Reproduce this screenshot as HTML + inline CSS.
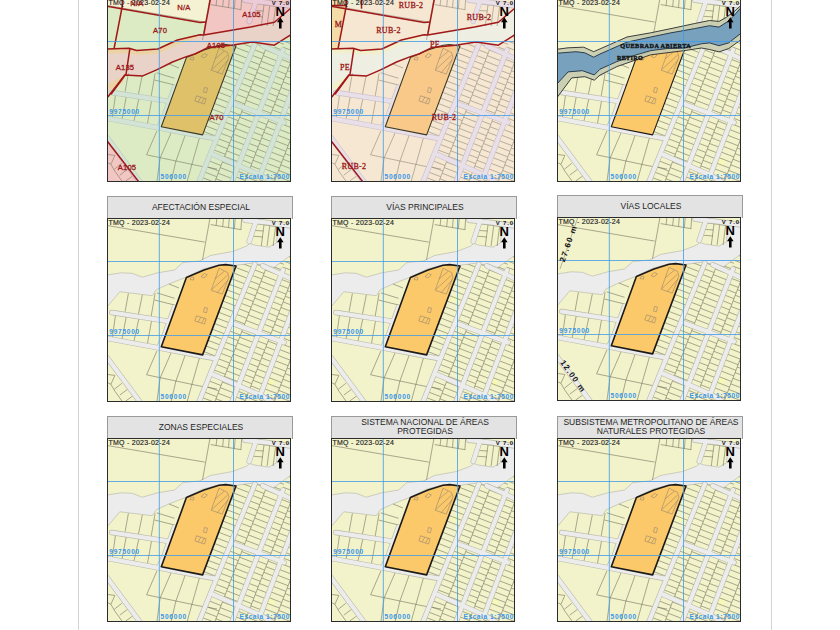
<!DOCTYPE html><html><head><meta charset="utf-8"><style>
html,body{margin:0;padding:0;background:#fff;width:840px;height:630px;overflow:hidden;position:relative;font-family:"Liberation Sans",sans-serif}
.pg{position:absolute;top:0;bottom:0;width:1px;background:#d4d4d4}
.map{position:absolute;width:184px;height:184px;box-sizing:border-box;overflow:hidden}
.map svg{position:absolute;left:0;top:0}
.frame{position:absolute;left:0;top:0;width:184px;height:184px;box-sizing:border-box;border:1px solid #2b2b2b}
.hd{position:absolute;width:186px;height:23px;box-sizing:border-box;background:#e3e3e3;border:1px solid #9a9a9a;border-bottom:none;color:#1e1e1e;font-size:8.5px;line-height:9.5px;text-align:center;display:flex;align-items:center;justify-content:center;padding-left:2px}
</style></head><body>
<div class="pg" style="left:78px"></div><div class="pg" style="left:771px"></div>
<div class="map" style="left:107px;top:-2px"><svg width="184" height="184" viewBox="0 0 184 184">
<defs><clipPath id="gc1"><polygon points="128.6,47.4 146.2,45.0 156.6,47.6 166.9,49.6 184.0,37.2 184.0,184.0 92.0,184.0 108.0,140.5 95.1,136.8"/></clipPath></defs>
<rect width="184" height="184" fill="#dcebc4"/>
<polygon points="-1.0,-2.0 -1.0,8.0 93.0,24.6 99.0,24.0 103.9,-2.0" fill="#f4f2d2"/>
<polygon points="103.9,-2.0 96.7,36.9 143.6,29.0 167.4,24.2 183.2,10.7 185.0,9.0 185.0,-2.0" fill="#f2c6c2"/>
<polygon points="-1.0,141.4 32.7,185.0 -1.0,185.0" fill="#f2c6c2"/>
<polygon points="0.0,51.0 22.1,50.3 29.7,52.5 50.8,51.0 70.4,42.0 93.0,36.7 96.7,36.9 143.6,29.0 167.4,24.2 183.2,10.7 185.0,9.0 185.0,36.1 167.4,47.2 145.1,44.0 124.5,47.2 100.7,49.6 88.0,56.0 79.4,58.6 65.5,64.0 49.6,71.9 35.7,77.9 17.8,76.9 1.0,98.7 -1.0,99.0" fill="#e9d3c8"/>
<polygon points="0.0,51.0 22.1,50.3 29.7,52.5 50.8,51.0 70.4,42.0 93.0,36.7 88.0,41.0 70.0,47.0 50.8,56.0 29.7,57.0 22.0,55.0 -1.0,56.0" fill="#ecd3a6"/>
<polygon points="-1.0,87.0 17.8,76.9 16.0,84.0 9.0,90.0 -1.0,92.0" fill="#ecd3a6"/>
<g fill="none" stroke="#7a7a66" stroke-width="0.6">
<polyline points="0.8,7.6 97.7,24.1"/>
<polyline points="103.0,0.0 95.5,42.0"/>
<polyline points="109.9,0.0 109.1,7.6"/>
<polyline points="116.5,0.0 115.7,8.7"/>
<polyline points="122.3,0.0 121.5,9.6"/>
<polyline points="128.2,0.0 127.4,10.6"/>
<polyline points="134.7,0.0 133.9,11.7"/>
<polyline points="103.7,6.6 134.3,11.7"/>
<polyline points="148.0,5.5 171.0,8.8"/>
<polyline points="147.0,12.4 156.5,13.0"/>
<polyline points="146.0,18.2 156.0,19.0"/>
<polyline points="157.1,6.0 154.3,28.0"/>
<polyline points="162.9,6.0 160.1,28.0"/>
<polyline points="168.9,6.0 166.1,28.0"/>
<polyline points="21.4,75.3 18.1,93.7"/>
<polyline points="35.3,77.0 31.4,96.4"/>
<polyline points="48.1,75.3 44.2,98.1"/>
<polyline points="49.7,74.8 67.5,80.3"/>
<polyline points="47.5,82.0 67.5,87.0"/>
<polyline points="62.0,66.0 72.0,70.0"/>
<polyline points="19.7,96.5 15.0,121.1"/>
<polyline points="8.6,96.4 5.3,120.0"/>
<polyline points="32.4,98.1 26.9,123.5"/>
<polyline points="45.1,99.7 40.4,125.9"/>
<polyline points="49.9,133.0 39.6,156.8 92.7,168.0 110.0,171.0"/>
<polyline points="64.2,134.6 53.1,160.0"/>
<polyline points="78.5,136.2 68.9,163.2"/>
<polyline points="92.7,139.0 85.0,166.0"/>
<polyline points="53.1,160.0 49.9,184.0"/>
<polyline points="68.9,163.0 64.0,184.0"/>
<polyline points="85.0,166.0 80.0,184.0"/>
<polyline points="0.0,156.4 7.9,157.4"/>
<polyline points="7.9,157.4 3.9,166.3 7.9,173.2 15.7,184.0"/>
<polyline points="0.0,164.3 3.9,166.3"/>
<polyline points="7.4,171.2 14.8,165.3"/>
<polyline points="12.8,177.1 20.7,171.2"/>
<polyline points="18.7,183.0 25.6,178.1"/>
<g clip-path="url(#gc1)">
<polyline points="134.3,13.0 154.8,20.9"/>
<polyline points="132.1,18.6 152.7,26.5"/>
<polyline points="130.0,24.2 150.5,32.1"/>
<polyline points="127.8,29.8 148.4,37.7"/>
<polyline points="125.7,35.4 146.2,43.3"/>
<polyline points="123.5,41.0 144.1,48.9"/>
<polyline points="121.4,46.6 141.9,54.5"/>
<polyline points="119.2,52.2 139.8,60.1"/>
<polyline points="117.1,57.8 137.6,65.7"/>
<polyline points="114.9,63.4 135.5,71.3"/>
<polyline points="112.8,69.0 133.3,76.9"/>
<polyline points="110.6,74.6 131.2,82.5"/>
<polyline points="108.5,80.2 129.0,88.1"/>
<polyline points="106.3,85.8 126.9,93.7"/>
<polyline points="104.2,91.4 124.7,99.3"/>
<polyline points="102.0,97.0 122.6,104.9"/>
<polyline points="99.9,102.6 120.4,110.5"/>
<polyline points="97.7,108.2 118.3,116.1"/>
<polyline points="95.6,113.8 116.1,121.7"/>
<polyline points="93.4,119.4 114.0,127.3"/>
<polyline points="91.3,125.0 111.8,132.9"/>
<polyline points="89.1,130.6 109.7,138.5"/>
<polyline points="87.0,136.2 107.5,144.1"/>
<polyline points="84.8,141.8 105.4,149.7"/>
<polyline points="82.7,147.4 103.2,155.3"/>
<polyline points="80.5,153.0 101.1,160.9"/>
<polyline points="78.4,158.6 98.9,166.5"/>
<polyline points="76.2,164.2 96.7,172.1"/>
<polyline points="74.1,169.8 94.6,177.7"/>
<polyline points="71.9,175.4 92.4,183.3"/>
<polyline points="154.3,22.3 167.8,27.5"/>
<polyline points="152.1,27.9 165.7,33.1"/>
<polyline points="150.0,33.5 163.5,38.7"/>
<polyline points="147.8,39.1 161.4,44.3"/>
<polyline points="145.7,44.7 159.2,49.9"/>
<polyline points="143.5,50.3 157.1,55.5"/>
<polyline points="141.4,55.9 154.9,61.1"/>
<polyline points="139.2,61.5 152.8,66.7"/>
<polyline points="137.1,67.1 150.6,72.3"/>
<polyline points="134.9,72.7 148.5,77.9"/>
<polyline points="132.8,78.3 146.3,83.5"/>
<polyline points="130.6,83.9 144.2,89.1"/>
<polyline points="128.5,89.5 142.0,94.7"/>
<polyline points="126.3,95.1 139.9,100.3"/>
<polyline points="124.2,100.7 137.7,105.9"/>
<polyline points="122.0,106.3 135.6,111.5"/>
<polyline points="119.9,111.9 133.4,117.1"/>
<polyline points="117.7,117.5 131.3,122.7"/>
<polyline points="115.6,123.1 129.1,128.3"/>
<polyline points="113.4,128.7 127.0,133.9"/>
<polyline points="111.3,134.3 124.8,139.5"/>
<polyline points="109.1,139.9 122.7,145.1"/>
<polyline points="107.0,145.5 120.5,150.7"/>
<polyline points="104.8,151.1 118.4,156.3"/>
<polyline points="102.7,156.7 116.2,161.9"/>
<polyline points="100.5,162.3 114.0,167.5"/>
<polyline points="98.4,167.9 111.9,173.1"/>
<polyline points="96.2,173.5 109.7,178.7"/>
<polyline points="94.1,179.1 107.6,184.3"/>
<polyline points="91.9,184.7 105.4,189.9"/>
<polyline points="167.0,29.6 181.2,35.1"/>
<polyline points="164.8,35.2 179.0,40.7"/>
<polyline points="162.7,40.8 176.9,46.3"/>
<polyline points="160.5,46.4 174.7,51.9"/>
<polyline points="158.4,52.0 172.6,57.5"/>
<polyline points="156.2,57.6 170.4,63.1"/>
<polyline points="154.1,63.2 168.3,68.7"/>
<polyline points="151.9,68.8 166.1,74.3"/>
<polyline points="149.8,74.4 164.0,79.9"/>
<polyline points="147.6,80.0 161.8,85.5"/>
<polyline points="145.5,85.6 159.7,91.1"/>
<polyline points="143.3,91.2 157.5,96.7"/>
<polyline points="141.2,96.8 155.4,102.3"/>
<polyline points="139.0,102.4 153.2,107.9"/>
<polyline points="136.9,108.0 151.1,113.5"/>
<polyline points="134.7,113.6 148.9,119.1"/>
<polyline points="132.6,119.2 146.8,124.7"/>
<polyline points="130.4,124.8 144.6,130.3"/>
<polyline points="128.3,130.4 142.5,135.9"/>
<polyline points="126.1,136.0 140.3,141.5"/>
<polyline points="124.0,141.6 138.2,147.1"/>
<polyline points="121.8,147.2 136.0,152.7"/>
<polyline points="119.7,152.8 133.9,158.3"/>
<polyline points="117.5,158.4 131.7,163.9"/>
<polyline points="115.4,164.0 129.6,169.5"/>
<polyline points="113.2,169.6 127.4,175.1"/>
<polyline points="111.1,175.2 125.3,180.7"/>
<polyline points="108.9,180.8 123.1,186.3"/>
<polyline points="106.8,186.4 121.0,191.9"/>
<polyline points="104.6,192.0 118.8,197.5"/>
<polyline points="182.2,32.3 194.2,36.8"/>
<polyline points="180.1,37.9 192.0,42.4"/>
<polyline points="177.9,43.5 189.9,48.0"/>
<polyline points="175.8,49.1 187.7,53.6"/>
<polyline points="173.6,54.7 185.6,59.2"/>
<polyline points="171.5,60.3 183.4,64.8"/>
<polyline points="169.3,65.9 181.3,70.4"/>
<polyline points="167.2,71.5 179.1,76.1"/>
<polyline points="165.0,77.1 177.0,81.7"/>
<polyline points="162.9,82.7 174.8,87.3"/>
<polyline points="160.7,88.3 172.7,92.9"/>
<polyline points="158.6,93.9 170.5,98.5"/>
<polyline points="156.4,99.5 168.4,104.1"/>
<polyline points="154.3,105.1 166.2,109.7"/>
<polyline points="152.1,110.7 164.1,115.3"/>
<polyline points="150.0,116.3 161.9,120.9"/>
<polyline points="147.8,121.9 159.8,126.5"/>
<polyline points="145.7,127.5 157.6,132.1"/>
<polyline points="143.5,133.1 155.5,137.7"/>
<polyline points="141.4,138.7 153.3,143.3"/>
<polyline points="139.2,144.3 151.2,148.9"/>
<polyline points="137.1,149.9 149.0,154.5"/>
<polyline points="134.9,155.5 146.9,160.1"/>
<polyline points="132.8,161.1 144.7,165.7"/>
<polyline points="130.6,166.7 142.6,171.3"/>
<polyline points="128.5,172.3 140.4,176.9"/>
<polyline points="126.3,177.9 138.3,182.5"/>
<polyline points="124.2,183.5 136.1,188.1"/>
<polyline points="122.0,189.1 134.0,193.7"/>
<polyline points="119.9,194.7 131.8,199.3"/>
<polyline points="193.3,39.1 205.0,43.6"/>
<polyline points="191.2,44.7 202.9,49.2"/>
<polyline points="189.0,50.3 200.7,54.8"/>
<polyline points="186.9,55.9 198.6,60.4"/>
<polyline points="184.7,61.5 196.4,66.0"/>
<polyline points="182.6,67.1 194.3,71.6"/>
<polyline points="180.4,72.7 192.1,77.2"/>
<polyline points="178.3,78.3 190.0,82.8"/>
<polyline points="176.1,83.9 187.8,88.4"/>
<polyline points="174.0,89.5 185.7,94.0"/>
<polyline points="171.8,95.1 183.5,99.6"/>
<polyline points="169.7,100.7 181.4,105.2"/>
<polyline points="167.5,106.3 179.2,110.8"/>
<polyline points="165.4,111.9 177.1,116.4"/>
<polyline points="163.2,117.5 174.9,122.0"/>
<polyline points="161.1,123.1 172.8,127.6"/>
<polyline points="158.9,128.7 170.6,133.2"/>
<polyline points="156.8,134.3 168.5,138.8"/>
<polyline points="154.6,139.9 166.3,144.4"/>
<polyline points="152.5,145.5 164.2,150.0"/>
<polyline points="150.3,151.1 162.0,155.6"/>
<polyline points="148.2,156.7 159.9,161.2"/>
<polyline points="146.0,162.3 157.7,166.8"/>
<polyline points="143.9,167.9 155.6,172.4"/>
<polyline points="141.7,173.5 153.4,178.0"/>
<polyline points="139.6,179.1 151.3,183.6"/>
<polyline points="137.4,184.7 149.1,189.2"/>
<polyline points="135.3,190.3 147.0,194.8"/>
<polyline points="133.1,195.9 144.8,200.4"/>
<polyline points="131.0,201.5 142.6,206.0"/>
<polyline points="205.8,41.5 219.8,46.9"/>
<polyline points="203.6,47.1 217.6,52.5"/>
<polyline points="201.5,52.7 215.5,58.1"/>
<polyline points="199.3,58.3 213.3,63.7"/>
<polyline points="197.2,63.9 211.2,69.3"/>
<polyline points="195.0,69.5 209.0,74.9"/>
<polyline points="192.9,75.1 206.9,80.5"/>
<polyline points="190.7,80.7 204.7,86.1"/>
<polyline points="188.6,86.3 202.6,91.7"/>
<polyline points="186.4,91.9 200.4,97.3"/>
<polyline points="184.3,97.5 198.3,102.9"/>
<polyline points="182.1,103.1 196.1,108.5"/>
<polyline points="180.0,108.7 194.0,114.1"/>
<polyline points="177.8,114.3 191.8,119.7"/>
<polyline points="175.7,119.9 189.7,125.3"/>
<polyline points="173.5,125.5 187.5,130.9"/>
<polyline points="171.4,131.1 185.4,136.5"/>
<polyline points="169.2,136.7 183.2,142.1"/>
<polyline points="167.1,142.3 181.1,147.7"/>
<polyline points="164.9,147.9 178.9,153.3"/>
<polyline points="162.8,153.5 176.8,158.9"/>
<polyline points="160.6,159.1 174.6,164.5"/>
<polyline points="158.5,164.7 172.5,170.1"/>
<polyline points="156.3,170.3 170.3,175.7"/>
<polyline points="154.2,175.9 168.2,181.3"/>
<polyline points="152.0,181.5 166.0,186.9"/>
<polyline points="149.9,187.1 163.9,192.5"/>
<polyline points="147.7,192.7 161.7,198.1"/>
<polyline points="145.6,198.3 159.6,203.7"/>
<polyline points="143.4,203.9 157.4,209.3"/>
<polyline points="218.9,49.2 235.7,55.7"/>
<polyline points="216.8,54.8 233.6,61.3"/>
<polyline points="214.6,60.4 231.4,66.9"/>
<polyline points="212.5,66.0 229.3,72.5"/>
<polyline points="210.3,71.6 227.1,78.1"/>
<polyline points="208.2,77.2 225.0,83.7"/>
<polyline points="206.0,82.8 222.8,89.3"/>
<polyline points="203.9,88.4 220.7,94.9"/>
<polyline points="201.7,94.0 218.5,100.5"/>
<polyline points="199.5,99.6 216.4,106.1"/>
<polyline points="197.4,105.2 214.2,111.7"/>
<polyline points="195.2,110.8 212.1,117.3"/>
<polyline points="193.1,116.4 209.9,122.9"/>
<polyline points="190.9,122.0 207.8,128.5"/>
<polyline points="188.8,127.6 205.6,134.1"/>
<polyline points="186.6,133.2 203.5,139.7"/>
<polyline points="184.5,138.8 201.3,145.3"/>
<polyline points="182.3,144.4 199.2,150.9"/>
<polyline points="180.2,150.0 197.0,156.5"/>
<polyline points="178.0,155.6 194.9,162.1"/>
<polyline points="175.9,161.2 192.7,167.7"/>
<polyline points="173.7,166.8 190.6,173.3"/>
<polyline points="171.6,172.4 188.4,178.9"/>
<polyline points="169.4,178.1 186.3,184.5"/>
<polyline points="167.3,183.7 184.1,190.1"/>
<polyline points="165.1,189.3 182.0,195.7"/>
<polyline points="163.0,194.9 179.8,201.3"/>
<polyline points="160.8,200.5 177.7,206.9"/>
<polyline points="158.7,206.1 175.5,212.5"/>
<polyline points="156.5,211.7 173.4,218.1"/>
<polyline points="169.8,22.3 83.8,246.4"/>
<polyline points="195.9,32.4 109.9,256.4"/>
<polyline points="221.6,42.2 135.6,266.3"/>
</g></g>
<g fill="none" stroke-linecap="round" stroke-linejoin="round">
<polyline points="147.8,46.2 92.3,183.0" stroke="#b9c9bb" stroke-width="5.4"/>
<polyline points="176.0,52.0 125.0,184.0" stroke="#b9c9bb" stroke-width="5.4"/>
<polyline points="190.0,80.0 153.0,178.0" stroke="#b9c9bb" stroke-width="5.4"/>
<polyline points="155.8,47.8 184.0,60.5" stroke="#b9c9bb" stroke-width="5.4"/>
<polyline points="127.2,106.0 177.0,124.5" stroke="#b9c9bb" stroke-width="5.4"/>
<polyline points="106.5,156.8 154.2,177.5 165.0,184.0" stroke="#b9c9bb" stroke-width="5.4"/>
<polyline points="4.8,94.5 62.0,103.3" stroke="#b9c9bb" stroke-width="5.4"/>
<polyline points="0.0,120.3 51.5,129.9 92.7,137.8 108.0,140.5" stroke="#b9c9bb" stroke-width="5.4"/>
<polyline points="0.0,139.5 33.0,184.0" stroke="#b9c9bb" stroke-width="5.4"/>
<polyline points="67.5,89.2 57.5,117.0 52.0,129.0" stroke="#b9c9bb" stroke-width="5.4"/>
<polyline points="149.0,3.0 142.2,23.5" stroke="#b9c9bb" stroke-width="5.4"/>
<polyline points="138.0,2.2 160.0,4.5 184.0,8.0" stroke="#b9c9bb" stroke-width="5.4"/>
<polyline points="147.8,46.2 92.3,183.0" stroke="#d3e3d6" stroke-width="4.2"/>
<polyline points="176.0,52.0 125.0,184.0" stroke="#d3e3d6" stroke-width="4.2"/>
<polyline points="190.0,80.0 153.0,178.0" stroke="#d3e3d6" stroke-width="4.2"/>
<polyline points="155.8,47.8 184.0,60.5" stroke="#d3e3d6" stroke-width="4.2"/>
<polyline points="127.2,106.0 177.0,124.5" stroke="#d3e3d6" stroke-width="4.2"/>
<polyline points="106.5,156.8 154.2,177.5 165.0,184.0" stroke="#d3e3d6" stroke-width="4.2"/>
<polyline points="4.8,94.5 62.0,103.3" stroke="#d3e3d6" stroke-width="4.2"/>
<polyline points="0.0,120.3 51.5,129.9 92.7,137.8 108.0,140.5" stroke="#d3e3d6" stroke-width="4.2"/>
<polyline points="0.0,139.5 33.0,184.0" stroke="#d3e3d6" stroke-width="4.2"/>
<polyline points="67.5,89.2 57.5,117.0 52.0,129.0" stroke="#d3e3d6" stroke-width="4.2"/>
<polyline points="149.0,3.0 142.2,23.5" stroke="#d3e3d6" stroke-width="4.2"/>
<polyline points="138.0,2.2 160.0,4.5 184.0,8.0" stroke="#d3e3d6" stroke-width="4.2"/>
</g>
<clipPath id="pk1"><polygon points="103.9,-2.0 96.7,36.9 143.6,29.0 167.4,24.2 183.2,10.7 185.0,9.0 185.0,-2.0"/><polygon points="-1.0,141.4 32.7,185.0 -1.0,185.0"/></clipPath>
<g clip-path="url(#pk1)" fill="none" stroke-linecap="round" stroke-linejoin="round">
<polyline points="147.8,46.2 92.3,183.0" stroke="#c9a9b4" stroke-width="5.4"/>
<polyline points="176.0,52.0 125.0,184.0" stroke="#c9a9b4" stroke-width="5.4"/>
<polyline points="190.0,80.0 153.0,178.0" stroke="#c9a9b4" stroke-width="5.4"/>
<polyline points="155.8,47.8 184.0,60.5" stroke="#c9a9b4" stroke-width="5.4"/>
<polyline points="127.2,106.0 177.0,124.5" stroke="#c9a9b4" stroke-width="5.4"/>
<polyline points="106.5,156.8 154.2,177.5 165.0,184.0" stroke="#c9a9b4" stroke-width="5.4"/>
<polyline points="4.8,94.5 62.0,103.3" stroke="#c9a9b4" stroke-width="5.4"/>
<polyline points="0.0,120.3 51.5,129.9 92.7,137.8 108.0,140.5" stroke="#c9a9b4" stroke-width="5.4"/>
<polyline points="0.0,139.5 33.0,184.0" stroke="#c9a9b4" stroke-width="5.4"/>
<polyline points="67.5,89.2 57.5,117.0 52.0,129.0" stroke="#c9a9b4" stroke-width="5.4"/>
<polyline points="149.0,3.0 142.2,23.5" stroke="#c9a9b4" stroke-width="5.4"/>
<polyline points="138.0,2.2 160.0,4.5 184.0,8.0" stroke="#c9a9b4" stroke-width="5.4"/>
<polyline points="147.8,46.2 92.3,183.0" stroke="#eccbd9" stroke-width="4.2"/>
<polyline points="176.0,52.0 125.0,184.0" stroke="#eccbd9" stroke-width="4.2"/>
<polyline points="190.0,80.0 153.0,178.0" stroke="#eccbd9" stroke-width="4.2"/>
<polyline points="155.8,47.8 184.0,60.5" stroke="#eccbd9" stroke-width="4.2"/>
<polyline points="127.2,106.0 177.0,124.5" stroke="#eccbd9" stroke-width="4.2"/>
<polyline points="106.5,156.8 154.2,177.5 165.0,184.0" stroke="#eccbd9" stroke-width="4.2"/>
<polyline points="4.8,94.5 62.0,103.3" stroke="#eccbd9" stroke-width="4.2"/>
<polyline points="0.0,120.3 51.5,129.9 92.7,137.8 108.0,140.5" stroke="#eccbd9" stroke-width="4.2"/>
<polyline points="0.0,139.5 33.0,184.0" stroke="#eccbd9" stroke-width="4.2"/>
<polyline points="67.5,89.2 57.5,117.0 52.0,129.0" stroke="#eccbd9" stroke-width="4.2"/>
<polyline points="149.0,3.0 142.2,23.5" stroke="#eccbd9" stroke-width="4.2"/>
<polyline points="138.0,2.2 160.0,4.5 184.0,8.0" stroke="#eccbd9" stroke-width="4.2"/>
</g>
<path d="M79.4,59.6 L97,51.9 L112,47.3 L118.6,46.6 L129,48 L95.6,136.9 L54.3,128.7 Z" fill="#dfc169" stroke="#3a3a2a" stroke-width="1.1" stroke-linejoin="round"/>
<g fill="none" stroke="#8f8270" stroke-width="0.55" stroke-linejoin="round">
<polygon points="112,50.2 120.6,54.5 121.9,59.1 115.3,76.1 104.2,72.2"/>
<line x1="108" y1="61" x2="117.3" y2="53.2"/><line x1="104.8" y1="71.5" x2="120.6" y2="57.1"/><line x1="110.1" y1="74.8" x2="121.2" y2="61.7"/>
<path d="M83,61.5 l1.5,-2.6 l2.4,0.6 l-0.4,2.6 z M94,58.5 l3.4,-3 l3,1.4 l-3.4,3 z"/>
<path d="M97.5,89.5 l3,0.6 l-1,4.6 l-3,-0.6 z"/>
<path d="M89.5,97.8 l9.6,3 l-1.6,5.2 l-9.6,-3 z M91,104 l3,-5 M94.5,105 l3,-5"/>
</g>
<g fill="none" stroke="#a01818" stroke-width="1.5" stroke-linejoin="round">
<polyline points="0.0,51.0 22.1,50.3 29.7,52.5 50.8,51.0 70.4,42.0 93.0,36.7 96.7,36.9 143.6,29.0 167.4,24.2 183.2,10.7 185.0,9.0"/><polyline points="185.0,36.1 167.4,47.2 145.1,44.0 124.5,47.2 100.7,49.6 88.0,56.0 79.4,58.6 65.5,64.0 49.6,71.9 35.7,77.9 17.8,76.9 1.0,98.7 -1.0,99.0"/>
<polyline points="-1.0,8.0 93.0,24.6 99.0,24.0"/>
<polyline points="15.3,-2.0 15.3,8.0 7.0,51.0"/>
<polyline points="22.9,50.3 19.1,75.9 4.0,96.3"/>
<polyline points="103.9,-2.0 96.7,36.9"/>
<polyline points="-1.0,141.4 32.7,185.0"/>
</g>
<g stroke="#3f9be8" stroke-width="1" stroke-opacity="0.8"><line x1="52.3" y1="0" x2="52.3" y2="184"/><line x1="126.5" y1="0" x2="126.5" y2="184"/><line x1="0" y1="43.5" x2="184" y2="43.5"/><line x1="0" y1="117.5" x2="184" y2="117.5"/></g>
<text x="1.5" y="7.3" font-size="7" letter-spacing="0.25" fill="#1e1e1e" stroke="#1e1e1e" stroke-width="0.15" font-family="Liberation Sans">TMQ - 2023-02-24</text>
<text x="182.8" y="6.9" font-size="6" font-weight="bold" text-anchor="end" letter-spacing="0.8" fill="#1a1a1a" font-family="Liberation Sans">V 7.0</text>
<text x="173.3" y="18.4" font-size="13" font-weight="bold" text-anchor="middle" fill="#000" font-family="Liberation Sans">N</text>
<path d="M173.3,19.3 L170,24.2 L172,24.2 L172,30.5 L174.6,30.5 L174.6,24.2 L176.6,24.2 Z" fill="#000"/>
<text x="2.3" y="116.2" font-size="6.6" font-weight="bold" letter-spacing="0.7" fill="#3a97e8" font-family="Liberation Sans">9975000</text>
<text x="53.5" y="180.8" font-size="6.6" font-weight="bold" letter-spacing="0.75" fill="#3a97e8" font-family="Liberation Sans">506000</text>
<text x="182.9" y="181" font-size="6.6" font-weight="bold" letter-spacing="0.55" text-anchor="end" fill="#3a97e8" font-family="Liberation Sans">Escala 1:7500</text>
<text x="77" y="12" font-size="7.6" font-family="Liberation Sans" font-weight="normal" text-anchor="middle" fill="#9c1717" stroke="#9c1717" stroke-width="0.3" letter-spacing="0.2">N/A</text>
<text x="53" y="35" font-size="7.6" font-family="Liberation Sans" font-weight="normal" text-anchor="middle" fill="#9c1717" stroke="#9c1717" stroke-width="0.3" letter-spacing="0.2">A70</text>
<text x="144.5" y="18.5" font-size="7.6" font-family="Liberation Sans" font-weight="normal" text-anchor="middle" fill="#9c1717" stroke="#9c1717" stroke-width="0.3" letter-spacing="0.2">A105</text>
<text x="109" y="49.5" font-size="7.6" font-family="Liberation Sans" font-weight="normal" text-anchor="middle" fill="#9c1717" stroke="#9c1717" stroke-width="0.3" letter-spacing="0.2">A105</text>
<text x="18" y="72" font-size="7.6" font-family="Liberation Sans" font-weight="normal" text-anchor="middle" fill="#9c1717" stroke="#9c1717" stroke-width="0.3" letter-spacing="0.2">A135</text>
<text x="109.5" y="122" font-size="7.6" font-family="Liberation Sans" font-weight="normal" text-anchor="middle" fill="#9c1717" stroke="#9c1717" stroke-width="0.3" letter-spacing="0.2">A70</text>
<text x="20" y="172" font-size="7.6" font-family="Liberation Sans" font-weight="normal" text-anchor="middle" fill="#9c1717" stroke="#9c1717" stroke-width="0.3" letter-spacing="0.2">A105</text>
<text x="30" y="8" font-size="7.6" font-family="Liberation Sans" font-weight="normal" text-anchor="middle" fill="#9c1717" stroke="#9c1717" stroke-width="0.3" letter-spacing="0.2">N/A</text>
</svg><div class="frame"></div></div>
<div class="map" style="left:331px;top:-2px"><svg width="184" height="184" viewBox="0 0 184 184">
<defs><clipPath id="gc2"><polygon points="128.6,47.4 146.2,45.0 156.6,47.6 166.9,49.6 184.0,37.2 184.0,184.0 92.0,184.0 108.0,140.5 95.1,136.8"/></clipPath></defs>
<rect width="184" height="184" fill="#f5e7d2"/>
<polygon points="-1.0,-2.0 -1.0,8.0 93.0,24.6 99.0,24.0 103.9,-2.0" fill="#f5e7d2"/>
<polygon points="103.9,-2.0 96.7,36.9 143.6,29.0 167.4,24.2 183.2,10.7 185.0,9.0 185.0,-2.0" fill="#f5e7d2"/>
<polygon points="-1.0,-2.0 15.3,-2.0 15.3,8.0 7.0,51.0 -1.0,51.0" fill="#f3dca8"/>
<polygon points="15.3,-2.0 30.5,-2.0 30.5,10.7 15.3,8.0" fill="#eef0d6"/>
<polygon points="0.0,51.0 22.1,50.3 29.7,52.5 50.8,51.0 70.4,42.0 93.0,36.7 96.7,36.9 143.6,29.0 167.4,24.2 183.2,10.7 185.0,9.0 185.0,36.1 167.4,47.2 145.1,44.0 124.5,47.2 100.7,49.6 88.0,56.0 79.4,58.6 65.5,64.0 49.6,71.9 35.7,77.9 17.8,76.9 1.0,98.7 -1.0,99.0" fill="#eeeee3"/>
<polygon points="0.0,51.0 22.1,50.3 29.7,52.5 50.8,51.0 70.4,42.0 93.0,36.7 88.0,41.0 70.0,47.0 50.8,56.0 29.7,57.0 22.0,55.0 -1.0,56.0" fill="#f2efcc"/>
<polygon points="-1.0,87.0 17.8,76.9 16.0,84.0 9.0,90.0 -1.0,92.0" fill="#f2efcc"/>
<g fill="none" stroke="#8f8878" stroke-width="0.6">
<polyline points="0.8,7.6 97.7,24.1"/>
<polyline points="103.0,0.0 95.5,42.0"/>
<polyline points="109.9,0.0 109.1,7.6"/>
<polyline points="116.5,0.0 115.7,8.7"/>
<polyline points="122.3,0.0 121.5,9.6"/>
<polyline points="128.2,0.0 127.4,10.6"/>
<polyline points="134.7,0.0 133.9,11.7"/>
<polyline points="103.7,6.6 134.3,11.7"/>
<polyline points="148.0,5.5 171.0,8.8"/>
<polyline points="147.0,12.4 156.5,13.0"/>
<polyline points="146.0,18.2 156.0,19.0"/>
<polyline points="157.1,6.0 154.3,28.0"/>
<polyline points="162.9,6.0 160.1,28.0"/>
<polyline points="168.9,6.0 166.1,28.0"/>
<polyline points="21.4,75.3 18.1,93.7"/>
<polyline points="35.3,77.0 31.4,96.4"/>
<polyline points="48.1,75.3 44.2,98.1"/>
<polyline points="49.7,74.8 67.5,80.3"/>
<polyline points="47.5,82.0 67.5,87.0"/>
<polyline points="62.0,66.0 72.0,70.0"/>
<polyline points="19.7,96.5 15.0,121.1"/>
<polyline points="8.6,96.4 5.3,120.0"/>
<polyline points="32.4,98.1 26.9,123.5"/>
<polyline points="45.1,99.7 40.4,125.9"/>
<polyline points="49.9,133.0 39.6,156.8 92.7,168.0 110.0,171.0"/>
<polyline points="64.2,134.6 53.1,160.0"/>
<polyline points="78.5,136.2 68.9,163.2"/>
<polyline points="92.7,139.0 85.0,166.0"/>
<polyline points="53.1,160.0 49.9,184.0"/>
<polyline points="68.9,163.0 64.0,184.0"/>
<polyline points="85.0,166.0 80.0,184.0"/>
<polyline points="0.0,156.4 7.9,157.4"/>
<polyline points="7.9,157.4 3.9,166.3 7.9,173.2 15.7,184.0"/>
<polyline points="0.0,164.3 3.9,166.3"/>
<polyline points="7.4,171.2 14.8,165.3"/>
<polyline points="12.8,177.1 20.7,171.2"/>
<polyline points="18.7,183.0 25.6,178.1"/>
<g clip-path="url(#gc2)">
<polyline points="134.3,13.0 154.8,20.9"/>
<polyline points="132.1,18.6 152.7,26.5"/>
<polyline points="130.0,24.2 150.5,32.1"/>
<polyline points="127.8,29.8 148.4,37.7"/>
<polyline points="125.7,35.4 146.2,43.3"/>
<polyline points="123.5,41.0 144.1,48.9"/>
<polyline points="121.4,46.6 141.9,54.5"/>
<polyline points="119.2,52.2 139.8,60.1"/>
<polyline points="117.1,57.8 137.6,65.7"/>
<polyline points="114.9,63.4 135.5,71.3"/>
<polyline points="112.8,69.0 133.3,76.9"/>
<polyline points="110.6,74.6 131.2,82.5"/>
<polyline points="108.5,80.2 129.0,88.1"/>
<polyline points="106.3,85.8 126.9,93.7"/>
<polyline points="104.2,91.4 124.7,99.3"/>
<polyline points="102.0,97.0 122.6,104.9"/>
<polyline points="99.9,102.6 120.4,110.5"/>
<polyline points="97.7,108.2 118.3,116.1"/>
<polyline points="95.6,113.8 116.1,121.7"/>
<polyline points="93.4,119.4 114.0,127.3"/>
<polyline points="91.3,125.0 111.8,132.9"/>
<polyline points="89.1,130.6 109.7,138.5"/>
<polyline points="87.0,136.2 107.5,144.1"/>
<polyline points="84.8,141.8 105.4,149.7"/>
<polyline points="82.7,147.4 103.2,155.3"/>
<polyline points="80.5,153.0 101.1,160.9"/>
<polyline points="78.4,158.6 98.9,166.5"/>
<polyline points="76.2,164.2 96.7,172.1"/>
<polyline points="74.1,169.8 94.6,177.7"/>
<polyline points="71.9,175.4 92.4,183.3"/>
<polyline points="154.3,22.3 167.8,27.5"/>
<polyline points="152.1,27.9 165.7,33.1"/>
<polyline points="150.0,33.5 163.5,38.7"/>
<polyline points="147.8,39.1 161.4,44.3"/>
<polyline points="145.7,44.7 159.2,49.9"/>
<polyline points="143.5,50.3 157.1,55.5"/>
<polyline points="141.4,55.9 154.9,61.1"/>
<polyline points="139.2,61.5 152.8,66.7"/>
<polyline points="137.1,67.1 150.6,72.3"/>
<polyline points="134.9,72.7 148.5,77.9"/>
<polyline points="132.8,78.3 146.3,83.5"/>
<polyline points="130.6,83.9 144.2,89.1"/>
<polyline points="128.5,89.5 142.0,94.7"/>
<polyline points="126.3,95.1 139.9,100.3"/>
<polyline points="124.2,100.7 137.7,105.9"/>
<polyline points="122.0,106.3 135.6,111.5"/>
<polyline points="119.9,111.9 133.4,117.1"/>
<polyline points="117.7,117.5 131.3,122.7"/>
<polyline points="115.6,123.1 129.1,128.3"/>
<polyline points="113.4,128.7 127.0,133.9"/>
<polyline points="111.3,134.3 124.8,139.5"/>
<polyline points="109.1,139.9 122.7,145.1"/>
<polyline points="107.0,145.5 120.5,150.7"/>
<polyline points="104.8,151.1 118.4,156.3"/>
<polyline points="102.7,156.7 116.2,161.9"/>
<polyline points="100.5,162.3 114.0,167.5"/>
<polyline points="98.4,167.9 111.9,173.1"/>
<polyline points="96.2,173.5 109.7,178.7"/>
<polyline points="94.1,179.1 107.6,184.3"/>
<polyline points="91.9,184.7 105.4,189.9"/>
<polyline points="167.0,29.6 181.2,35.1"/>
<polyline points="164.8,35.2 179.0,40.7"/>
<polyline points="162.7,40.8 176.9,46.3"/>
<polyline points="160.5,46.4 174.7,51.9"/>
<polyline points="158.4,52.0 172.6,57.5"/>
<polyline points="156.2,57.6 170.4,63.1"/>
<polyline points="154.1,63.2 168.3,68.7"/>
<polyline points="151.9,68.8 166.1,74.3"/>
<polyline points="149.8,74.4 164.0,79.9"/>
<polyline points="147.6,80.0 161.8,85.5"/>
<polyline points="145.5,85.6 159.7,91.1"/>
<polyline points="143.3,91.2 157.5,96.7"/>
<polyline points="141.2,96.8 155.4,102.3"/>
<polyline points="139.0,102.4 153.2,107.9"/>
<polyline points="136.9,108.0 151.1,113.5"/>
<polyline points="134.7,113.6 148.9,119.1"/>
<polyline points="132.6,119.2 146.8,124.7"/>
<polyline points="130.4,124.8 144.6,130.3"/>
<polyline points="128.3,130.4 142.5,135.9"/>
<polyline points="126.1,136.0 140.3,141.5"/>
<polyline points="124.0,141.6 138.2,147.1"/>
<polyline points="121.8,147.2 136.0,152.7"/>
<polyline points="119.7,152.8 133.9,158.3"/>
<polyline points="117.5,158.4 131.7,163.9"/>
<polyline points="115.4,164.0 129.6,169.5"/>
<polyline points="113.2,169.6 127.4,175.1"/>
<polyline points="111.1,175.2 125.3,180.7"/>
<polyline points="108.9,180.8 123.1,186.3"/>
<polyline points="106.8,186.4 121.0,191.9"/>
<polyline points="104.6,192.0 118.8,197.5"/>
<polyline points="182.2,32.3 194.2,36.8"/>
<polyline points="180.1,37.9 192.0,42.4"/>
<polyline points="177.9,43.5 189.9,48.0"/>
<polyline points="175.8,49.1 187.7,53.6"/>
<polyline points="173.6,54.7 185.6,59.2"/>
<polyline points="171.5,60.3 183.4,64.8"/>
<polyline points="169.3,65.9 181.3,70.4"/>
<polyline points="167.2,71.5 179.1,76.1"/>
<polyline points="165.0,77.1 177.0,81.7"/>
<polyline points="162.9,82.7 174.8,87.3"/>
<polyline points="160.7,88.3 172.7,92.9"/>
<polyline points="158.6,93.9 170.5,98.5"/>
<polyline points="156.4,99.5 168.4,104.1"/>
<polyline points="154.3,105.1 166.2,109.7"/>
<polyline points="152.1,110.7 164.1,115.3"/>
<polyline points="150.0,116.3 161.9,120.9"/>
<polyline points="147.8,121.9 159.8,126.5"/>
<polyline points="145.7,127.5 157.6,132.1"/>
<polyline points="143.5,133.1 155.5,137.7"/>
<polyline points="141.4,138.7 153.3,143.3"/>
<polyline points="139.2,144.3 151.2,148.9"/>
<polyline points="137.1,149.9 149.0,154.5"/>
<polyline points="134.9,155.5 146.9,160.1"/>
<polyline points="132.8,161.1 144.7,165.7"/>
<polyline points="130.6,166.7 142.6,171.3"/>
<polyline points="128.5,172.3 140.4,176.9"/>
<polyline points="126.3,177.9 138.3,182.5"/>
<polyline points="124.2,183.5 136.1,188.1"/>
<polyline points="122.0,189.1 134.0,193.7"/>
<polyline points="119.9,194.7 131.8,199.3"/>
<polyline points="193.3,39.1 205.0,43.6"/>
<polyline points="191.2,44.7 202.9,49.2"/>
<polyline points="189.0,50.3 200.7,54.8"/>
<polyline points="186.9,55.9 198.6,60.4"/>
<polyline points="184.7,61.5 196.4,66.0"/>
<polyline points="182.6,67.1 194.3,71.6"/>
<polyline points="180.4,72.7 192.1,77.2"/>
<polyline points="178.3,78.3 190.0,82.8"/>
<polyline points="176.1,83.9 187.8,88.4"/>
<polyline points="174.0,89.5 185.7,94.0"/>
<polyline points="171.8,95.1 183.5,99.6"/>
<polyline points="169.7,100.7 181.4,105.2"/>
<polyline points="167.5,106.3 179.2,110.8"/>
<polyline points="165.4,111.9 177.1,116.4"/>
<polyline points="163.2,117.5 174.9,122.0"/>
<polyline points="161.1,123.1 172.8,127.6"/>
<polyline points="158.9,128.7 170.6,133.2"/>
<polyline points="156.8,134.3 168.5,138.8"/>
<polyline points="154.6,139.9 166.3,144.4"/>
<polyline points="152.5,145.5 164.2,150.0"/>
<polyline points="150.3,151.1 162.0,155.6"/>
<polyline points="148.2,156.7 159.9,161.2"/>
<polyline points="146.0,162.3 157.7,166.8"/>
<polyline points="143.9,167.9 155.6,172.4"/>
<polyline points="141.7,173.5 153.4,178.0"/>
<polyline points="139.6,179.1 151.3,183.6"/>
<polyline points="137.4,184.7 149.1,189.2"/>
<polyline points="135.3,190.3 147.0,194.8"/>
<polyline points="133.1,195.9 144.8,200.4"/>
<polyline points="131.0,201.5 142.6,206.0"/>
<polyline points="205.8,41.5 219.8,46.9"/>
<polyline points="203.6,47.1 217.6,52.5"/>
<polyline points="201.5,52.7 215.5,58.1"/>
<polyline points="199.3,58.3 213.3,63.7"/>
<polyline points="197.2,63.9 211.2,69.3"/>
<polyline points="195.0,69.5 209.0,74.9"/>
<polyline points="192.9,75.1 206.9,80.5"/>
<polyline points="190.7,80.7 204.7,86.1"/>
<polyline points="188.6,86.3 202.6,91.7"/>
<polyline points="186.4,91.9 200.4,97.3"/>
<polyline points="184.3,97.5 198.3,102.9"/>
<polyline points="182.1,103.1 196.1,108.5"/>
<polyline points="180.0,108.7 194.0,114.1"/>
<polyline points="177.8,114.3 191.8,119.7"/>
<polyline points="175.7,119.9 189.7,125.3"/>
<polyline points="173.5,125.5 187.5,130.9"/>
<polyline points="171.4,131.1 185.4,136.5"/>
<polyline points="169.2,136.7 183.2,142.1"/>
<polyline points="167.1,142.3 181.1,147.7"/>
<polyline points="164.9,147.9 178.9,153.3"/>
<polyline points="162.8,153.5 176.8,158.9"/>
<polyline points="160.6,159.1 174.6,164.5"/>
<polyline points="158.5,164.7 172.5,170.1"/>
<polyline points="156.3,170.3 170.3,175.7"/>
<polyline points="154.2,175.9 168.2,181.3"/>
<polyline points="152.0,181.5 166.0,186.9"/>
<polyline points="149.9,187.1 163.9,192.5"/>
<polyline points="147.7,192.7 161.7,198.1"/>
<polyline points="145.6,198.3 159.6,203.7"/>
<polyline points="143.4,203.9 157.4,209.3"/>
<polyline points="218.9,49.2 235.7,55.7"/>
<polyline points="216.8,54.8 233.6,61.3"/>
<polyline points="214.6,60.4 231.4,66.9"/>
<polyline points="212.5,66.0 229.3,72.5"/>
<polyline points="210.3,71.6 227.1,78.1"/>
<polyline points="208.2,77.2 225.0,83.7"/>
<polyline points="206.0,82.8 222.8,89.3"/>
<polyline points="203.9,88.4 220.7,94.9"/>
<polyline points="201.7,94.0 218.5,100.5"/>
<polyline points="199.5,99.6 216.4,106.1"/>
<polyline points="197.4,105.2 214.2,111.7"/>
<polyline points="195.2,110.8 212.1,117.3"/>
<polyline points="193.1,116.4 209.9,122.9"/>
<polyline points="190.9,122.0 207.8,128.5"/>
<polyline points="188.8,127.6 205.6,134.1"/>
<polyline points="186.6,133.2 203.5,139.7"/>
<polyline points="184.5,138.8 201.3,145.3"/>
<polyline points="182.3,144.4 199.2,150.9"/>
<polyline points="180.2,150.0 197.0,156.5"/>
<polyline points="178.0,155.6 194.9,162.1"/>
<polyline points="175.9,161.2 192.7,167.7"/>
<polyline points="173.7,166.8 190.6,173.3"/>
<polyline points="171.6,172.4 188.4,178.9"/>
<polyline points="169.4,178.1 186.3,184.5"/>
<polyline points="167.3,183.7 184.1,190.1"/>
<polyline points="165.1,189.3 182.0,195.7"/>
<polyline points="163.0,194.9 179.8,201.3"/>
<polyline points="160.8,200.5 177.7,206.9"/>
<polyline points="158.7,206.1 175.5,212.5"/>
<polyline points="156.5,211.7 173.4,218.1"/>
<polyline points="169.8,22.3 83.8,246.4"/>
<polyline points="195.9,32.4 109.9,256.4"/>
<polyline points="221.6,42.2 135.6,266.3"/>
</g></g>
<g fill="none" stroke-linecap="round" stroke-linejoin="round">
<polyline points="147.8,46.2 92.3,183.0" stroke="#c9bfc9" stroke-width="5.4"/>
<polyline points="176.0,52.0 125.0,184.0" stroke="#c9bfc9" stroke-width="5.4"/>
<polyline points="190.0,80.0 153.0,178.0" stroke="#c9bfc9" stroke-width="5.4"/>
<polyline points="155.8,47.8 184.0,60.5" stroke="#c9bfc9" stroke-width="5.4"/>
<polyline points="127.2,106.0 177.0,124.5" stroke="#c9bfc9" stroke-width="5.4"/>
<polyline points="106.5,156.8 154.2,177.5 165.0,184.0" stroke="#c9bfc9" stroke-width="5.4"/>
<polyline points="4.8,94.5 62.0,103.3" stroke="#c9bfc9" stroke-width="5.4"/>
<polyline points="0.0,120.3 51.5,129.9 92.7,137.8 108.0,140.5" stroke="#c9bfc9" stroke-width="5.4"/>
<polyline points="0.0,139.5 33.0,184.0" stroke="#c9bfc9" stroke-width="5.4"/>
<polyline points="67.5,89.2 57.5,117.0 52.0,129.0" stroke="#c9bfc9" stroke-width="5.4"/>
<polyline points="149.0,3.0 142.2,23.5" stroke="#c9bfc9" stroke-width="5.4"/>
<polyline points="138.0,2.2 160.0,4.5 184.0,8.0" stroke="#c9bfc9" stroke-width="5.4"/>
<polyline points="147.8,46.2 92.3,183.0" stroke="#e8dfe8" stroke-width="4.2"/>
<polyline points="176.0,52.0 125.0,184.0" stroke="#e8dfe8" stroke-width="4.2"/>
<polyline points="190.0,80.0 153.0,178.0" stroke="#e8dfe8" stroke-width="4.2"/>
<polyline points="155.8,47.8 184.0,60.5" stroke="#e8dfe8" stroke-width="4.2"/>
<polyline points="127.2,106.0 177.0,124.5" stroke="#e8dfe8" stroke-width="4.2"/>
<polyline points="106.5,156.8 154.2,177.5 165.0,184.0" stroke="#e8dfe8" stroke-width="4.2"/>
<polyline points="4.8,94.5 62.0,103.3" stroke="#e8dfe8" stroke-width="4.2"/>
<polyline points="0.0,120.3 51.5,129.9 92.7,137.8 108.0,140.5" stroke="#e8dfe8" stroke-width="4.2"/>
<polyline points="0.0,139.5 33.0,184.0" stroke="#e8dfe8" stroke-width="4.2"/>
<polyline points="67.5,89.2 57.5,117.0 52.0,129.0" stroke="#e8dfe8" stroke-width="4.2"/>
<polyline points="149.0,3.0 142.2,23.5" stroke="#e8dfe8" stroke-width="4.2"/>
<polyline points="138.0,2.2 160.0,4.5 184.0,8.0" stroke="#e8dfe8" stroke-width="4.2"/>
</g>
<path d="M79.4,59.6 L97,51.9 L112,47.3 L118.6,46.6 L129,48 L95.6,136.9 L54.3,128.7 Z" fill="#f9c98a" stroke="#3a3a2a" stroke-width="1.1" stroke-linejoin="round"/>
<g fill="none" stroke="#8f8270" stroke-width="0.55" stroke-linejoin="round">
<polygon points="112,50.2 120.6,54.5 121.9,59.1 115.3,76.1 104.2,72.2"/>
<line x1="108" y1="61" x2="117.3" y2="53.2"/><line x1="104.8" y1="71.5" x2="120.6" y2="57.1"/><line x1="110.1" y1="74.8" x2="121.2" y2="61.7"/>
<path d="M83,61.5 l1.5,-2.6 l2.4,0.6 l-0.4,2.6 z M94,58.5 l3.4,-3 l3,1.4 l-3.4,3 z"/>
<path d="M97.5,89.5 l3,0.6 l-1,4.6 l-3,-0.6 z"/>
<path d="M89.5,97.8 l9.6,3 l-1.6,5.2 l-9.6,-3 z M91,104 l3,-5 M94.5,105 l3,-5"/>
</g>
<g fill="none" stroke="#a01818" stroke-width="1.5" stroke-linejoin="round">
<polyline points="0.0,51.0 22.1,50.3 29.7,52.5 50.8,51.0 70.4,42.0 93.0,36.7 96.7,36.9 143.6,29.0 167.4,24.2 183.2,10.7 185.0,9.0"/><polyline points="185.0,36.1 167.4,47.2 145.1,44.0 124.5,47.2 100.7,49.6 88.0,56.0 79.4,58.6 65.5,64.0 49.6,71.9 35.7,77.9 17.8,76.9 1.0,98.7 -1.0,99.0"/>
<polyline points="-1.0,8.0 93.0,24.6 99.0,24.0"/>
<polyline points="15.3,-2.0 15.3,8.0 7.0,51.0"/>
<polyline points="22.9,50.3 19.1,75.9 4.0,96.3"/>
<polyline points="103.9,-2.0 96.7,36.9"/>
<polyline points="-1.0,141.4 32.7,185.0"/>
<polyline points="30.5,-2 30.5,10.7"/><polyline points="-1,7.5 15.3,7.5 15.3,-2"/>
</g>
<g stroke="#3f9be8" stroke-width="1" stroke-opacity="0.8"><line x1="52.3" y1="0" x2="52.3" y2="184"/><line x1="126.5" y1="0" x2="126.5" y2="184"/><line x1="0" y1="43.5" x2="184" y2="43.5"/><line x1="0" y1="117.5" x2="184" y2="117.5"/></g>
<text x="1.5" y="7.3" font-size="7" letter-spacing="0.25" fill="#1e1e1e" stroke="#1e1e1e" stroke-width="0.15" font-family="Liberation Sans">TMQ - 2023-02-24</text>
<text x="182.8" y="6.9" font-size="6" font-weight="bold" text-anchor="end" letter-spacing="0.8" fill="#1a1a1a" font-family="Liberation Sans">V 7.0</text>
<text x="173.3" y="18.4" font-size="13" font-weight="bold" text-anchor="middle" fill="#000" font-family="Liberation Sans">N</text>
<path d="M173.3,19.3 L170,24.2 L172,24.2 L172,30.5 L174.6,30.5 L174.6,24.2 L176.6,24.2 Z" fill="#000"/>
<text x="2.3" y="116.2" font-size="6.6" font-weight="bold" letter-spacing="0.7" fill="#3a97e8" font-family="Liberation Sans">9975000</text>
<text x="53.5" y="180.8" font-size="6.6" font-weight="bold" letter-spacing="0.75" fill="#3a97e8" font-family="Liberation Sans">506000</text>
<text x="182.9" y="181" font-size="6.6" font-weight="bold" letter-spacing="0.55" text-anchor="end" fill="#3a97e8" font-family="Liberation Sans">Escala 1:7500</text>
<text x="80" y="10" font-size="8" font-family="Liberation Serif" font-weight="normal" text-anchor="middle" fill="#9c1717" stroke="#9c1717" stroke-width="0.3" letter-spacing="0.3">RUB-2</text>
<text x="57.5" y="35" font-size="8" font-family="Liberation Serif" font-weight="normal" text-anchor="middle" fill="#9c1717" stroke="#9c1717" stroke-width="0.3" letter-spacing="0.3">RUB-2</text>
<text x="148" y="21.5" font-size="8" font-family="Liberation Serif" font-weight="normal" text-anchor="middle" fill="#9c1717" stroke="#9c1717" stroke-width="0.3" letter-spacing="0.3">RUB-2</text>
<text x="14" y="71.5" font-size="8" font-family="Liberation Serif" font-weight="normal" text-anchor="middle" fill="#9c1717" stroke="#9c1717" stroke-width="0.3" letter-spacing="0.3">PE</text>
<text x="104" y="49" font-size="8" font-family="Liberation Serif" font-weight="normal" text-anchor="middle" fill="#9c1717" stroke="#9c1717" stroke-width="0.3" letter-spacing="0.3">PE</text>
<text x="7.5" y="29" font-size="8" font-family="Liberation Serif" font-weight="normal" text-anchor="middle" fill="#9c1717" stroke="#9c1717" stroke-width="0.3" letter-spacing="0.3">M</text>
<text x="113" y="122" font-size="8" font-family="Liberation Serif" font-weight="normal" text-anchor="middle" fill="#9c1717" stroke="#9c1717" stroke-width="0.3" letter-spacing="0.3">RUB-2</text>
<text x="23" y="171" font-size="8" font-family="Liberation Serif" font-weight="normal" text-anchor="middle" fill="#9c1717" stroke="#9c1717" stroke-width="0.3" letter-spacing="0.3">RUB-2</text>
</svg><div class="frame"></div></div>
<div class="map" style="left:557px;top:-2px"><svg width="184" height="184" viewBox="0 0 184 184">
<defs><clipPath id="gc3"><polygon points="128.6,47.4 146.2,45.0 156.6,47.6 166.9,49.6 184.0,37.2 184.0,184.0 92.0,184.0 108.0,140.5 95.1,136.8"/></clipPath></defs>
<rect width="184" height="184" fill="#f2f2cb"/>
<polygon points="0.0,57.0 14.2,54.8 25.3,55.3 35.3,59.2 50.8,54.8 67.5,52.0 75.9,44.5 92.5,43.0 103.4,37.5 125.6,33.5 139.9,28.0 142.4,25.5 147.5,27.0 162.0,29.2 169.4,24.8 171.0,8.8 184.0,8.5 184.0,37.2 166.9,49.6 156.6,47.6 146.2,45.0 128.6,47.4 111.2,47.1 96.0,51.0 79.5,59.1 62.0,65.9 49.2,71.8 45.3,77.7 21.7,74.8 12.8,73.8 0.0,89.0" fill="#ececec" stroke="#b4b4a4" stroke-width="0.6"/>
<g fill="#f8f8b6"><polygon points="121.5,77 128.5,79.5 126.5,85 119.5,82.5"/><polygon points="160,159 168,162 165.5,168.5 157.5,165.5"/></g>
<g fill="none" stroke="#74745f" stroke-width="0.6">
<polyline points="0.8,7.6 97.7,24.1"/>
<polyline points="103.0,0.0 95.5,42.0"/>
<polyline points="109.9,0.0 109.1,7.6"/>
<polyline points="116.5,0.0 115.7,8.7"/>
<polyline points="122.3,0.0 121.5,9.6"/>
<polyline points="128.2,0.0 127.4,10.6"/>
<polyline points="134.7,0.0 133.9,11.7"/>
<polyline points="103.7,6.6 134.3,11.7"/>
<polyline points="148.0,5.5 171.0,8.8"/>
<polyline points="147.0,12.4 156.5,13.0"/>
<polyline points="146.0,18.2 156.0,19.0"/>
<polyline points="157.1,6.0 154.3,28.0"/>
<polyline points="162.9,6.0 160.1,28.0"/>
<polyline points="168.9,6.0 166.1,28.0"/>
<polyline points="21.4,75.3 18.1,93.7"/>
<polyline points="35.3,77.0 31.4,96.4"/>
<polyline points="48.1,75.3 44.2,98.1"/>
<polyline points="49.7,74.8 67.5,80.3"/>
<polyline points="47.5,82.0 67.5,87.0"/>
<polyline points="62.0,66.0 72.0,70.0"/>
<polyline points="19.7,96.5 15.0,121.1"/>
<polyline points="8.6,96.4 5.3,120.0"/>
<polyline points="32.4,98.1 26.9,123.5"/>
<polyline points="45.1,99.7 40.4,125.9"/>
<polyline points="49.9,133.0 39.6,156.8 92.7,168.0 110.0,171.0"/>
<polyline points="64.2,134.6 53.1,160.0"/>
<polyline points="78.5,136.2 68.9,163.2"/>
<polyline points="92.7,139.0 85.0,166.0"/>
<polyline points="53.1,160.0 49.9,184.0"/>
<polyline points="68.9,163.0 64.0,184.0"/>
<polyline points="85.0,166.0 80.0,184.0"/>
<polyline points="0.0,156.4 7.9,157.4"/>
<polyline points="7.9,157.4 3.9,166.3 7.9,173.2 15.7,184.0"/>
<polyline points="0.0,164.3 3.9,166.3"/>
<polyline points="7.4,171.2 14.8,165.3"/>
<polyline points="12.8,177.1 20.7,171.2"/>
<polyline points="18.7,183.0 25.6,178.1"/>
<g clip-path="url(#gc3)">
<polyline points="134.3,13.0 154.8,20.9"/>
<polyline points="132.1,18.6 152.7,26.5"/>
<polyline points="130.0,24.2 150.5,32.1"/>
<polyline points="127.8,29.8 148.4,37.7"/>
<polyline points="125.7,35.4 146.2,43.3"/>
<polyline points="123.5,41.0 144.1,48.9"/>
<polyline points="121.4,46.6 141.9,54.5"/>
<polyline points="119.2,52.2 139.8,60.1"/>
<polyline points="117.1,57.8 137.6,65.7"/>
<polyline points="114.9,63.4 135.5,71.3"/>
<polyline points="112.8,69.0 133.3,76.9"/>
<polyline points="110.6,74.6 131.2,82.5"/>
<polyline points="108.5,80.2 129.0,88.1"/>
<polyline points="106.3,85.8 126.9,93.7"/>
<polyline points="104.2,91.4 124.7,99.3"/>
<polyline points="102.0,97.0 122.6,104.9"/>
<polyline points="99.9,102.6 120.4,110.5"/>
<polyline points="97.7,108.2 118.3,116.1"/>
<polyline points="95.6,113.8 116.1,121.7"/>
<polyline points="93.4,119.4 114.0,127.3"/>
<polyline points="91.3,125.0 111.8,132.9"/>
<polyline points="89.1,130.6 109.7,138.5"/>
<polyline points="87.0,136.2 107.5,144.1"/>
<polyline points="84.8,141.8 105.4,149.7"/>
<polyline points="82.7,147.4 103.2,155.3"/>
<polyline points="80.5,153.0 101.1,160.9"/>
<polyline points="78.4,158.6 98.9,166.5"/>
<polyline points="76.2,164.2 96.7,172.1"/>
<polyline points="74.1,169.8 94.6,177.7"/>
<polyline points="71.9,175.4 92.4,183.3"/>
<polyline points="154.3,22.3 167.8,27.5"/>
<polyline points="152.1,27.9 165.7,33.1"/>
<polyline points="150.0,33.5 163.5,38.7"/>
<polyline points="147.8,39.1 161.4,44.3"/>
<polyline points="145.7,44.7 159.2,49.9"/>
<polyline points="143.5,50.3 157.1,55.5"/>
<polyline points="141.4,55.9 154.9,61.1"/>
<polyline points="139.2,61.5 152.8,66.7"/>
<polyline points="137.1,67.1 150.6,72.3"/>
<polyline points="134.9,72.7 148.5,77.9"/>
<polyline points="132.8,78.3 146.3,83.5"/>
<polyline points="130.6,83.9 144.2,89.1"/>
<polyline points="128.5,89.5 142.0,94.7"/>
<polyline points="126.3,95.1 139.9,100.3"/>
<polyline points="124.2,100.7 137.7,105.9"/>
<polyline points="122.0,106.3 135.6,111.5"/>
<polyline points="119.9,111.9 133.4,117.1"/>
<polyline points="117.7,117.5 131.3,122.7"/>
<polyline points="115.6,123.1 129.1,128.3"/>
<polyline points="113.4,128.7 127.0,133.9"/>
<polyline points="111.3,134.3 124.8,139.5"/>
<polyline points="109.1,139.9 122.7,145.1"/>
<polyline points="107.0,145.5 120.5,150.7"/>
<polyline points="104.8,151.1 118.4,156.3"/>
<polyline points="102.7,156.7 116.2,161.9"/>
<polyline points="100.5,162.3 114.0,167.5"/>
<polyline points="98.4,167.9 111.9,173.1"/>
<polyline points="96.2,173.5 109.7,178.7"/>
<polyline points="94.1,179.1 107.6,184.3"/>
<polyline points="91.9,184.7 105.4,189.9"/>
<polyline points="167.0,29.6 181.2,35.1"/>
<polyline points="164.8,35.2 179.0,40.7"/>
<polyline points="162.7,40.8 176.9,46.3"/>
<polyline points="160.5,46.4 174.7,51.9"/>
<polyline points="158.4,52.0 172.6,57.5"/>
<polyline points="156.2,57.6 170.4,63.1"/>
<polyline points="154.1,63.2 168.3,68.7"/>
<polyline points="151.9,68.8 166.1,74.3"/>
<polyline points="149.8,74.4 164.0,79.9"/>
<polyline points="147.6,80.0 161.8,85.5"/>
<polyline points="145.5,85.6 159.7,91.1"/>
<polyline points="143.3,91.2 157.5,96.7"/>
<polyline points="141.2,96.8 155.4,102.3"/>
<polyline points="139.0,102.4 153.2,107.9"/>
<polyline points="136.9,108.0 151.1,113.5"/>
<polyline points="134.7,113.6 148.9,119.1"/>
<polyline points="132.6,119.2 146.8,124.7"/>
<polyline points="130.4,124.8 144.6,130.3"/>
<polyline points="128.3,130.4 142.5,135.9"/>
<polyline points="126.1,136.0 140.3,141.5"/>
<polyline points="124.0,141.6 138.2,147.1"/>
<polyline points="121.8,147.2 136.0,152.7"/>
<polyline points="119.7,152.8 133.9,158.3"/>
<polyline points="117.5,158.4 131.7,163.9"/>
<polyline points="115.4,164.0 129.6,169.5"/>
<polyline points="113.2,169.6 127.4,175.1"/>
<polyline points="111.1,175.2 125.3,180.7"/>
<polyline points="108.9,180.8 123.1,186.3"/>
<polyline points="106.8,186.4 121.0,191.9"/>
<polyline points="104.6,192.0 118.8,197.5"/>
<polyline points="182.2,32.3 194.2,36.8"/>
<polyline points="180.1,37.9 192.0,42.4"/>
<polyline points="177.9,43.5 189.9,48.0"/>
<polyline points="175.8,49.1 187.7,53.6"/>
<polyline points="173.6,54.7 185.6,59.2"/>
<polyline points="171.5,60.3 183.4,64.8"/>
<polyline points="169.3,65.9 181.3,70.4"/>
<polyline points="167.2,71.5 179.1,76.1"/>
<polyline points="165.0,77.1 177.0,81.7"/>
<polyline points="162.9,82.7 174.8,87.3"/>
<polyline points="160.7,88.3 172.7,92.9"/>
<polyline points="158.6,93.9 170.5,98.5"/>
<polyline points="156.4,99.5 168.4,104.1"/>
<polyline points="154.3,105.1 166.2,109.7"/>
<polyline points="152.1,110.7 164.1,115.3"/>
<polyline points="150.0,116.3 161.9,120.9"/>
<polyline points="147.8,121.9 159.8,126.5"/>
<polyline points="145.7,127.5 157.6,132.1"/>
<polyline points="143.5,133.1 155.5,137.7"/>
<polyline points="141.4,138.7 153.3,143.3"/>
<polyline points="139.2,144.3 151.2,148.9"/>
<polyline points="137.1,149.9 149.0,154.5"/>
<polyline points="134.9,155.5 146.9,160.1"/>
<polyline points="132.8,161.1 144.7,165.7"/>
<polyline points="130.6,166.7 142.6,171.3"/>
<polyline points="128.5,172.3 140.4,176.9"/>
<polyline points="126.3,177.9 138.3,182.5"/>
<polyline points="124.2,183.5 136.1,188.1"/>
<polyline points="122.0,189.1 134.0,193.7"/>
<polyline points="119.9,194.7 131.8,199.3"/>
<polyline points="193.3,39.1 205.0,43.6"/>
<polyline points="191.2,44.7 202.9,49.2"/>
<polyline points="189.0,50.3 200.7,54.8"/>
<polyline points="186.9,55.9 198.6,60.4"/>
<polyline points="184.7,61.5 196.4,66.0"/>
<polyline points="182.6,67.1 194.3,71.6"/>
<polyline points="180.4,72.7 192.1,77.2"/>
<polyline points="178.3,78.3 190.0,82.8"/>
<polyline points="176.1,83.9 187.8,88.4"/>
<polyline points="174.0,89.5 185.7,94.0"/>
<polyline points="171.8,95.1 183.5,99.6"/>
<polyline points="169.7,100.7 181.4,105.2"/>
<polyline points="167.5,106.3 179.2,110.8"/>
<polyline points="165.4,111.9 177.1,116.4"/>
<polyline points="163.2,117.5 174.9,122.0"/>
<polyline points="161.1,123.1 172.8,127.6"/>
<polyline points="158.9,128.7 170.6,133.2"/>
<polyline points="156.8,134.3 168.5,138.8"/>
<polyline points="154.6,139.9 166.3,144.4"/>
<polyline points="152.5,145.5 164.2,150.0"/>
<polyline points="150.3,151.1 162.0,155.6"/>
<polyline points="148.2,156.7 159.9,161.2"/>
<polyline points="146.0,162.3 157.7,166.8"/>
<polyline points="143.9,167.9 155.6,172.4"/>
<polyline points="141.7,173.5 153.4,178.0"/>
<polyline points="139.6,179.1 151.3,183.6"/>
<polyline points="137.4,184.7 149.1,189.2"/>
<polyline points="135.3,190.3 147.0,194.8"/>
<polyline points="133.1,195.9 144.8,200.4"/>
<polyline points="131.0,201.5 142.6,206.0"/>
<polyline points="205.8,41.5 219.8,46.9"/>
<polyline points="203.6,47.1 217.6,52.5"/>
<polyline points="201.5,52.7 215.5,58.1"/>
<polyline points="199.3,58.3 213.3,63.7"/>
<polyline points="197.2,63.9 211.2,69.3"/>
<polyline points="195.0,69.5 209.0,74.9"/>
<polyline points="192.9,75.1 206.9,80.5"/>
<polyline points="190.7,80.7 204.7,86.1"/>
<polyline points="188.6,86.3 202.6,91.7"/>
<polyline points="186.4,91.9 200.4,97.3"/>
<polyline points="184.3,97.5 198.3,102.9"/>
<polyline points="182.1,103.1 196.1,108.5"/>
<polyline points="180.0,108.7 194.0,114.1"/>
<polyline points="177.8,114.3 191.8,119.7"/>
<polyline points="175.7,119.9 189.7,125.3"/>
<polyline points="173.5,125.5 187.5,130.9"/>
<polyline points="171.4,131.1 185.4,136.5"/>
<polyline points="169.2,136.7 183.2,142.1"/>
<polyline points="167.1,142.3 181.1,147.7"/>
<polyline points="164.9,147.9 178.9,153.3"/>
<polyline points="162.8,153.5 176.8,158.9"/>
<polyline points="160.6,159.1 174.6,164.5"/>
<polyline points="158.5,164.7 172.5,170.1"/>
<polyline points="156.3,170.3 170.3,175.7"/>
<polyline points="154.2,175.9 168.2,181.3"/>
<polyline points="152.0,181.5 166.0,186.9"/>
<polyline points="149.9,187.1 163.9,192.5"/>
<polyline points="147.7,192.7 161.7,198.1"/>
<polyline points="145.6,198.3 159.6,203.7"/>
<polyline points="143.4,203.9 157.4,209.3"/>
<polyline points="218.9,49.2 235.7,55.7"/>
<polyline points="216.8,54.8 233.6,61.3"/>
<polyline points="214.6,60.4 231.4,66.9"/>
<polyline points="212.5,66.0 229.3,72.5"/>
<polyline points="210.3,71.6 227.1,78.1"/>
<polyline points="208.2,77.2 225.0,83.7"/>
<polyline points="206.0,82.8 222.8,89.3"/>
<polyline points="203.9,88.4 220.7,94.9"/>
<polyline points="201.7,94.0 218.5,100.5"/>
<polyline points="199.5,99.6 216.4,106.1"/>
<polyline points="197.4,105.2 214.2,111.7"/>
<polyline points="195.2,110.8 212.1,117.3"/>
<polyline points="193.1,116.4 209.9,122.9"/>
<polyline points="190.9,122.0 207.8,128.5"/>
<polyline points="188.8,127.6 205.6,134.1"/>
<polyline points="186.6,133.2 203.5,139.7"/>
<polyline points="184.5,138.8 201.3,145.3"/>
<polyline points="182.3,144.4 199.2,150.9"/>
<polyline points="180.2,150.0 197.0,156.5"/>
<polyline points="178.0,155.6 194.9,162.1"/>
<polyline points="175.9,161.2 192.7,167.7"/>
<polyline points="173.7,166.8 190.6,173.3"/>
<polyline points="171.6,172.4 188.4,178.9"/>
<polyline points="169.4,178.1 186.3,184.5"/>
<polyline points="167.3,183.7 184.1,190.1"/>
<polyline points="165.1,189.3 182.0,195.7"/>
<polyline points="163.0,194.9 179.8,201.3"/>
<polyline points="160.8,200.5 177.7,206.9"/>
<polyline points="158.7,206.1 175.5,212.5"/>
<polyline points="156.5,211.7 173.4,218.1"/>
<polyline points="169.8,22.3 83.8,246.4"/>
<polyline points="195.9,32.4 109.9,256.4"/>
<polyline points="221.6,42.2 135.6,266.3"/>
</g></g>
<g fill="none" stroke-linecap="round" stroke-linejoin="round">
<polyline points="147.8,46.2 92.3,183.0" stroke="#b9b9a8" stroke-width="5.4"/>
<polyline points="176.0,52.0 125.0,184.0" stroke="#b9b9a8" stroke-width="5.4"/>
<polyline points="190.0,80.0 153.0,178.0" stroke="#b9b9a8" stroke-width="5.4"/>
<polyline points="155.8,47.8 184.0,60.5" stroke="#b9b9a8" stroke-width="5.4"/>
<polyline points="127.2,106.0 177.0,124.5" stroke="#b9b9a8" stroke-width="5.4"/>
<polyline points="106.5,156.8 154.2,177.5 165.0,184.0" stroke="#b9b9a8" stroke-width="5.4"/>
<polyline points="4.8,94.5 62.0,103.3" stroke="#b9b9a8" stroke-width="5.4"/>
<polyline points="0.0,120.3 51.5,129.9 92.7,137.8 108.0,140.5" stroke="#b9b9a8" stroke-width="5.4"/>
<polyline points="0.0,139.5 33.0,184.0" stroke="#b9b9a8" stroke-width="5.4"/>
<polyline points="67.5,89.2 57.5,117.0 52.0,129.0" stroke="#b9b9a8" stroke-width="5.4"/>
<polyline points="149.0,3.0 142.2,23.5" stroke="#b9b9a8" stroke-width="5.4"/>
<polyline points="138.0,2.2 160.0,4.5 184.0,8.0" stroke="#b9b9a8" stroke-width="5.4"/>
<polyline points="147.8,46.2 92.3,183.0" stroke="#ececec" stroke-width="4.2"/>
<polyline points="176.0,52.0 125.0,184.0" stroke="#ececec" stroke-width="4.2"/>
<polyline points="190.0,80.0 153.0,178.0" stroke="#ececec" stroke-width="4.2"/>
<polyline points="155.8,47.8 184.0,60.5" stroke="#ececec" stroke-width="4.2"/>
<polyline points="127.2,106.0 177.0,124.5" stroke="#ececec" stroke-width="4.2"/>
<polyline points="106.5,156.8 154.2,177.5 165.0,184.0" stroke="#ececec" stroke-width="4.2"/>
<polyline points="4.8,94.5 62.0,103.3" stroke="#ececec" stroke-width="4.2"/>
<polyline points="0.0,120.3 51.5,129.9 92.7,137.8 108.0,140.5" stroke="#ececec" stroke-width="4.2"/>
<polyline points="0.0,139.5 33.0,184.0" stroke="#ececec" stroke-width="4.2"/>
<polyline points="67.5,89.2 57.5,117.0 52.0,129.0" stroke="#ececec" stroke-width="4.2"/>
<polyline points="149.0,3.0 142.2,23.5" stroke="#ececec" stroke-width="4.2"/>
<polyline points="138.0,2.2 160.0,4.5 184.0,8.0" stroke="#ececec" stroke-width="4.2"/>
</g>
<path d="M79.4,59.6 L97,51.9 L112,47.3 L118.6,46.6 L129,48 L95.6,136.9 L54.3,128.7 Z" fill="#fbc86a" stroke="#1a1a1a" stroke-width="1.1" stroke-linejoin="round"/>
<g fill="none" stroke="#8f8270" stroke-width="0.55" stroke-linejoin="round">
<polygon points="112,50.2 120.6,54.5 121.9,59.1 115.3,76.1 104.2,72.2"/>
<line x1="108" y1="61" x2="117.3" y2="53.2"/><line x1="104.8" y1="71.5" x2="120.6" y2="57.1"/><line x1="110.1" y1="74.8" x2="121.2" y2="61.7"/>
<path d="M83,61.5 l1.5,-2.6 l2.4,0.6 l-0.4,2.6 z M94,58.5 l3.4,-3 l3,1.4 l-3.4,3 z"/>
<path d="M97.5,89.5 l3,0.6 l-1,4.6 l-3,-0.6 z"/>
<path d="M89.5,97.8 l9.6,3 l-1.6,5.2 l-9.6,-3 z M91,104 l3,-5 M94.5,105 l3,-5"/>
</g>
<polygon points="-1.0,51.4 11.1,49.8 26.7,49.2 36.7,53.7 43.0,50.9 70.0,39.0 93.7,34.8 114.0,30.6 137.7,25.5 152.5,22.5 162.0,23.4 169.7,19.1 177.3,13.4 185.0,6.5 185.0,41.0 171.6,50.6 162.0,53.9 152.5,51.5 144.4,50.0 127.5,52.6 114.0,54.3 93.7,56.8 76.8,62.7 59.9,68.6 43.0,77.1 37.3,82.2 27.8,78.7 14.7,79.9 -1.0,101.0" fill="#c9cdb1" stroke="#2a2a2a" stroke-width="0.9" fill-opacity="0.92"/>
<polygon points="-1.0,55.3 18.9,53.7 27.8,54.8 36.7,59.2 43.0,56.0 70.0,44.1 93.7,39.0 114.0,34.8 137.7,30.6 152.5,27.7 162.0,29.1 171.6,23.0 177.3,17.2 185.0,8.5 185.0,34.5 171.6,44.9 162.0,47.7 152.5,44.9 144.4,45.8 127.5,50.0 110.6,50.5 93.7,52.6 76.8,57.6 59.9,63.6 43.0,71.2 37.3,76.9 25.4,72.7 11.1,73.9 -1.0,87.0" fill="#77a1bd" stroke="#1f2f3f" stroke-width="0.9"/>
<g stroke="#3f9be8" stroke-width="1" stroke-opacity="0.8"><line x1="52.3" y1="0" x2="52.3" y2="184"/><line x1="126.5" y1="0" x2="126.5" y2="184"/><line x1="0" y1="43.5" x2="184" y2="43.5"/><line x1="0" y1="117.5" x2="184" y2="117.5"/></g>
<text x="1.5" y="7.3" font-size="7" letter-spacing="0.25" fill="#1e1e1e" stroke="#1e1e1e" stroke-width="0.15" font-family="Liberation Sans">TMQ - 2023-02-24</text>
<text x="182.8" y="6.9" font-size="6" font-weight="bold" text-anchor="end" letter-spacing="0.8" fill="#1a1a1a" font-family="Liberation Sans">V 7.0</text>
<text x="173.3" y="18.4" font-size="13" font-weight="bold" text-anchor="middle" fill="#000" font-family="Liberation Sans">N</text>
<path d="M173.3,19.3 L170,24.2 L172,24.2 L172,30.5 L174.6,30.5 L174.6,24.2 L176.6,24.2 Z" fill="#000"/>
<text x="2.3" y="116.2" font-size="6.6" font-weight="bold" letter-spacing="0.7" fill="#3a97e8" font-family="Liberation Sans">9975000</text>
<text x="53.5" y="180.8" font-size="6.6" font-weight="bold" letter-spacing="0.75" fill="#3a97e8" font-family="Liberation Sans">506000</text>
<text x="182.9" y="181" font-size="6.6" font-weight="bold" letter-spacing="0.55" text-anchor="end" fill="#3a97e8" font-family="Liberation Sans">Escala 1:7500</text>
<text x="63.3" y="49.5" font-size="6.2" font-weight="bold" letter-spacing="0.45" fill="#111" font-family="Liberation Serif" stroke="#111" stroke-width="0.35">QUEBRADA ABIERTA</text>
<text x="59.9" y="61.9" font-size="6.2" font-weight="bold" letter-spacing="0.3" fill="#111" font-family="Liberation Serif" stroke="#111" stroke-width="0.35">RETIRO</text>
</svg><div class="frame"></div></div>
<div class="hd" style="left:107px;top:196px"><div style="position:relative;top:0px">AFECTACIÓN ESPECIAL</div></div>
<div class="map" style="left:107px;top:218px"><svg width="184" height="184" viewBox="0 0 184 184">
<defs><clipPath id="gc4"><polygon points="128.6,47.4 146.2,45.0 156.6,47.6 166.9,49.6 184.0,37.2 184.0,184.0 92.0,184.0 108.0,140.5 95.1,136.8"/></clipPath></defs>
<rect width="184" height="184" fill="#f2f2cb"/>
<polygon points="0.0,57.0 14.2,54.8 25.3,55.3 35.3,59.2 50.8,54.8 67.5,52.0 75.9,44.5 92.5,43.0 103.4,37.5 125.6,33.5 139.9,28.0 142.4,25.5 147.5,27.0 162.0,29.2 169.4,24.8 171.0,8.8 184.0,8.5 184.0,37.2 166.9,49.6 156.6,47.6 146.2,45.0 128.6,47.4 111.2,47.1 96.0,51.0 79.5,59.1 62.0,65.9 49.2,71.8 45.3,77.7 21.7,74.8 12.8,73.8 0.0,89.0" fill="#ececec" stroke="#b4b4a4" stroke-width="0.6"/>
<g fill="#f8f8b6"><polygon points="121.5,77 128.5,79.5 126.5,85 119.5,82.5"/><polygon points="160,159 168,162 165.5,168.5 157.5,165.5"/></g>
<g fill="none" stroke="#74745f" stroke-width="0.6">
<polyline points="0.8,7.6 97.7,24.1"/>
<polyline points="103.0,0.0 95.5,42.0"/>
<polyline points="109.9,0.0 109.1,7.6"/>
<polyline points="116.5,0.0 115.7,8.7"/>
<polyline points="122.3,0.0 121.5,9.6"/>
<polyline points="128.2,0.0 127.4,10.6"/>
<polyline points="134.7,0.0 133.9,11.7"/>
<polyline points="103.7,6.6 134.3,11.7"/>
<polyline points="148.0,5.5 171.0,8.8"/>
<polyline points="147.0,12.4 156.5,13.0"/>
<polyline points="146.0,18.2 156.0,19.0"/>
<polyline points="157.1,6.0 154.3,28.0"/>
<polyline points="162.9,6.0 160.1,28.0"/>
<polyline points="168.9,6.0 166.1,28.0"/>
<polyline points="21.4,75.3 18.1,93.7"/>
<polyline points="35.3,77.0 31.4,96.4"/>
<polyline points="48.1,75.3 44.2,98.1"/>
<polyline points="49.7,74.8 67.5,80.3"/>
<polyline points="47.5,82.0 67.5,87.0"/>
<polyline points="62.0,66.0 72.0,70.0"/>
<polyline points="19.7,96.5 15.0,121.1"/>
<polyline points="8.6,96.4 5.3,120.0"/>
<polyline points="32.4,98.1 26.9,123.5"/>
<polyline points="45.1,99.7 40.4,125.9"/>
<polyline points="49.9,133.0 39.6,156.8 92.7,168.0 110.0,171.0"/>
<polyline points="64.2,134.6 53.1,160.0"/>
<polyline points="78.5,136.2 68.9,163.2"/>
<polyline points="92.7,139.0 85.0,166.0"/>
<polyline points="53.1,160.0 49.9,184.0"/>
<polyline points="68.9,163.0 64.0,184.0"/>
<polyline points="85.0,166.0 80.0,184.0"/>
<polyline points="0.0,156.4 7.9,157.4"/>
<polyline points="7.9,157.4 3.9,166.3 7.9,173.2 15.7,184.0"/>
<polyline points="0.0,164.3 3.9,166.3"/>
<polyline points="7.4,171.2 14.8,165.3"/>
<polyline points="12.8,177.1 20.7,171.2"/>
<polyline points="18.7,183.0 25.6,178.1"/>
<g clip-path="url(#gc4)">
<polyline points="134.3,13.0 154.8,20.9"/>
<polyline points="132.1,18.6 152.7,26.5"/>
<polyline points="130.0,24.2 150.5,32.1"/>
<polyline points="127.8,29.8 148.4,37.7"/>
<polyline points="125.7,35.4 146.2,43.3"/>
<polyline points="123.5,41.0 144.1,48.9"/>
<polyline points="121.4,46.6 141.9,54.5"/>
<polyline points="119.2,52.2 139.8,60.1"/>
<polyline points="117.1,57.8 137.6,65.7"/>
<polyline points="114.9,63.4 135.5,71.3"/>
<polyline points="112.8,69.0 133.3,76.9"/>
<polyline points="110.6,74.6 131.2,82.5"/>
<polyline points="108.5,80.2 129.0,88.1"/>
<polyline points="106.3,85.8 126.9,93.7"/>
<polyline points="104.2,91.4 124.7,99.3"/>
<polyline points="102.0,97.0 122.6,104.9"/>
<polyline points="99.9,102.6 120.4,110.5"/>
<polyline points="97.7,108.2 118.3,116.1"/>
<polyline points="95.6,113.8 116.1,121.7"/>
<polyline points="93.4,119.4 114.0,127.3"/>
<polyline points="91.3,125.0 111.8,132.9"/>
<polyline points="89.1,130.6 109.7,138.5"/>
<polyline points="87.0,136.2 107.5,144.1"/>
<polyline points="84.8,141.8 105.4,149.7"/>
<polyline points="82.7,147.4 103.2,155.3"/>
<polyline points="80.5,153.0 101.1,160.9"/>
<polyline points="78.4,158.6 98.9,166.5"/>
<polyline points="76.2,164.2 96.7,172.1"/>
<polyline points="74.1,169.8 94.6,177.7"/>
<polyline points="71.9,175.4 92.4,183.3"/>
<polyline points="154.3,22.3 167.8,27.5"/>
<polyline points="152.1,27.9 165.7,33.1"/>
<polyline points="150.0,33.5 163.5,38.7"/>
<polyline points="147.8,39.1 161.4,44.3"/>
<polyline points="145.7,44.7 159.2,49.9"/>
<polyline points="143.5,50.3 157.1,55.5"/>
<polyline points="141.4,55.9 154.9,61.1"/>
<polyline points="139.2,61.5 152.8,66.7"/>
<polyline points="137.1,67.1 150.6,72.3"/>
<polyline points="134.9,72.7 148.5,77.9"/>
<polyline points="132.8,78.3 146.3,83.5"/>
<polyline points="130.6,83.9 144.2,89.1"/>
<polyline points="128.5,89.5 142.0,94.7"/>
<polyline points="126.3,95.1 139.9,100.3"/>
<polyline points="124.2,100.7 137.7,105.9"/>
<polyline points="122.0,106.3 135.6,111.5"/>
<polyline points="119.9,111.9 133.4,117.1"/>
<polyline points="117.7,117.5 131.3,122.7"/>
<polyline points="115.6,123.1 129.1,128.3"/>
<polyline points="113.4,128.7 127.0,133.9"/>
<polyline points="111.3,134.3 124.8,139.5"/>
<polyline points="109.1,139.9 122.7,145.1"/>
<polyline points="107.0,145.5 120.5,150.7"/>
<polyline points="104.8,151.1 118.4,156.3"/>
<polyline points="102.7,156.7 116.2,161.9"/>
<polyline points="100.5,162.3 114.0,167.5"/>
<polyline points="98.4,167.9 111.9,173.1"/>
<polyline points="96.2,173.5 109.7,178.7"/>
<polyline points="94.1,179.1 107.6,184.3"/>
<polyline points="91.9,184.7 105.4,189.9"/>
<polyline points="167.0,29.6 181.2,35.1"/>
<polyline points="164.8,35.2 179.0,40.7"/>
<polyline points="162.7,40.8 176.9,46.3"/>
<polyline points="160.5,46.4 174.7,51.9"/>
<polyline points="158.4,52.0 172.6,57.5"/>
<polyline points="156.2,57.6 170.4,63.1"/>
<polyline points="154.1,63.2 168.3,68.7"/>
<polyline points="151.9,68.8 166.1,74.3"/>
<polyline points="149.8,74.4 164.0,79.9"/>
<polyline points="147.6,80.0 161.8,85.5"/>
<polyline points="145.5,85.6 159.7,91.1"/>
<polyline points="143.3,91.2 157.5,96.7"/>
<polyline points="141.2,96.8 155.4,102.3"/>
<polyline points="139.0,102.4 153.2,107.9"/>
<polyline points="136.9,108.0 151.1,113.5"/>
<polyline points="134.7,113.6 148.9,119.1"/>
<polyline points="132.6,119.2 146.8,124.7"/>
<polyline points="130.4,124.8 144.6,130.3"/>
<polyline points="128.3,130.4 142.5,135.9"/>
<polyline points="126.1,136.0 140.3,141.5"/>
<polyline points="124.0,141.6 138.2,147.1"/>
<polyline points="121.8,147.2 136.0,152.7"/>
<polyline points="119.7,152.8 133.9,158.3"/>
<polyline points="117.5,158.4 131.7,163.9"/>
<polyline points="115.4,164.0 129.6,169.5"/>
<polyline points="113.2,169.6 127.4,175.1"/>
<polyline points="111.1,175.2 125.3,180.7"/>
<polyline points="108.9,180.8 123.1,186.3"/>
<polyline points="106.8,186.4 121.0,191.9"/>
<polyline points="104.6,192.0 118.8,197.5"/>
<polyline points="182.2,32.3 194.2,36.8"/>
<polyline points="180.1,37.9 192.0,42.4"/>
<polyline points="177.9,43.5 189.9,48.0"/>
<polyline points="175.8,49.1 187.7,53.6"/>
<polyline points="173.6,54.7 185.6,59.2"/>
<polyline points="171.5,60.3 183.4,64.8"/>
<polyline points="169.3,65.9 181.3,70.4"/>
<polyline points="167.2,71.5 179.1,76.1"/>
<polyline points="165.0,77.1 177.0,81.7"/>
<polyline points="162.9,82.7 174.8,87.3"/>
<polyline points="160.7,88.3 172.7,92.9"/>
<polyline points="158.6,93.9 170.5,98.5"/>
<polyline points="156.4,99.5 168.4,104.1"/>
<polyline points="154.3,105.1 166.2,109.7"/>
<polyline points="152.1,110.7 164.1,115.3"/>
<polyline points="150.0,116.3 161.9,120.9"/>
<polyline points="147.8,121.9 159.8,126.5"/>
<polyline points="145.7,127.5 157.6,132.1"/>
<polyline points="143.5,133.1 155.5,137.7"/>
<polyline points="141.4,138.7 153.3,143.3"/>
<polyline points="139.2,144.3 151.2,148.9"/>
<polyline points="137.1,149.9 149.0,154.5"/>
<polyline points="134.9,155.5 146.9,160.1"/>
<polyline points="132.8,161.1 144.7,165.7"/>
<polyline points="130.6,166.7 142.6,171.3"/>
<polyline points="128.5,172.3 140.4,176.9"/>
<polyline points="126.3,177.9 138.3,182.5"/>
<polyline points="124.2,183.5 136.1,188.1"/>
<polyline points="122.0,189.1 134.0,193.7"/>
<polyline points="119.9,194.7 131.8,199.3"/>
<polyline points="193.3,39.1 205.0,43.6"/>
<polyline points="191.2,44.7 202.9,49.2"/>
<polyline points="189.0,50.3 200.7,54.8"/>
<polyline points="186.9,55.9 198.6,60.4"/>
<polyline points="184.7,61.5 196.4,66.0"/>
<polyline points="182.6,67.1 194.3,71.6"/>
<polyline points="180.4,72.7 192.1,77.2"/>
<polyline points="178.3,78.3 190.0,82.8"/>
<polyline points="176.1,83.9 187.8,88.4"/>
<polyline points="174.0,89.5 185.7,94.0"/>
<polyline points="171.8,95.1 183.5,99.6"/>
<polyline points="169.7,100.7 181.4,105.2"/>
<polyline points="167.5,106.3 179.2,110.8"/>
<polyline points="165.4,111.9 177.1,116.4"/>
<polyline points="163.2,117.5 174.9,122.0"/>
<polyline points="161.1,123.1 172.8,127.6"/>
<polyline points="158.9,128.7 170.6,133.2"/>
<polyline points="156.8,134.3 168.5,138.8"/>
<polyline points="154.6,139.9 166.3,144.4"/>
<polyline points="152.5,145.5 164.2,150.0"/>
<polyline points="150.3,151.1 162.0,155.6"/>
<polyline points="148.2,156.7 159.9,161.2"/>
<polyline points="146.0,162.3 157.7,166.8"/>
<polyline points="143.9,167.9 155.6,172.4"/>
<polyline points="141.7,173.5 153.4,178.0"/>
<polyline points="139.6,179.1 151.3,183.6"/>
<polyline points="137.4,184.7 149.1,189.2"/>
<polyline points="135.3,190.3 147.0,194.8"/>
<polyline points="133.1,195.9 144.8,200.4"/>
<polyline points="131.0,201.5 142.6,206.0"/>
<polyline points="205.8,41.5 219.8,46.9"/>
<polyline points="203.6,47.1 217.6,52.5"/>
<polyline points="201.5,52.7 215.5,58.1"/>
<polyline points="199.3,58.3 213.3,63.7"/>
<polyline points="197.2,63.9 211.2,69.3"/>
<polyline points="195.0,69.5 209.0,74.9"/>
<polyline points="192.9,75.1 206.9,80.5"/>
<polyline points="190.7,80.7 204.7,86.1"/>
<polyline points="188.6,86.3 202.6,91.7"/>
<polyline points="186.4,91.9 200.4,97.3"/>
<polyline points="184.3,97.5 198.3,102.9"/>
<polyline points="182.1,103.1 196.1,108.5"/>
<polyline points="180.0,108.7 194.0,114.1"/>
<polyline points="177.8,114.3 191.8,119.7"/>
<polyline points="175.7,119.9 189.7,125.3"/>
<polyline points="173.5,125.5 187.5,130.9"/>
<polyline points="171.4,131.1 185.4,136.5"/>
<polyline points="169.2,136.7 183.2,142.1"/>
<polyline points="167.1,142.3 181.1,147.7"/>
<polyline points="164.9,147.9 178.9,153.3"/>
<polyline points="162.8,153.5 176.8,158.9"/>
<polyline points="160.6,159.1 174.6,164.5"/>
<polyline points="158.5,164.7 172.5,170.1"/>
<polyline points="156.3,170.3 170.3,175.7"/>
<polyline points="154.2,175.9 168.2,181.3"/>
<polyline points="152.0,181.5 166.0,186.9"/>
<polyline points="149.9,187.1 163.9,192.5"/>
<polyline points="147.7,192.7 161.7,198.1"/>
<polyline points="145.6,198.3 159.6,203.7"/>
<polyline points="143.4,203.9 157.4,209.3"/>
<polyline points="218.9,49.2 235.7,55.7"/>
<polyline points="216.8,54.8 233.6,61.3"/>
<polyline points="214.6,60.4 231.4,66.9"/>
<polyline points="212.5,66.0 229.3,72.5"/>
<polyline points="210.3,71.6 227.1,78.1"/>
<polyline points="208.2,77.2 225.0,83.7"/>
<polyline points="206.0,82.8 222.8,89.3"/>
<polyline points="203.9,88.4 220.7,94.9"/>
<polyline points="201.7,94.0 218.5,100.5"/>
<polyline points="199.5,99.6 216.4,106.1"/>
<polyline points="197.4,105.2 214.2,111.7"/>
<polyline points="195.2,110.8 212.1,117.3"/>
<polyline points="193.1,116.4 209.9,122.9"/>
<polyline points="190.9,122.0 207.8,128.5"/>
<polyline points="188.8,127.6 205.6,134.1"/>
<polyline points="186.6,133.2 203.5,139.7"/>
<polyline points="184.5,138.8 201.3,145.3"/>
<polyline points="182.3,144.4 199.2,150.9"/>
<polyline points="180.2,150.0 197.0,156.5"/>
<polyline points="178.0,155.6 194.9,162.1"/>
<polyline points="175.9,161.2 192.7,167.7"/>
<polyline points="173.7,166.8 190.6,173.3"/>
<polyline points="171.6,172.4 188.4,178.9"/>
<polyline points="169.4,178.1 186.3,184.5"/>
<polyline points="167.3,183.7 184.1,190.1"/>
<polyline points="165.1,189.3 182.0,195.7"/>
<polyline points="163.0,194.9 179.8,201.3"/>
<polyline points="160.8,200.5 177.7,206.9"/>
<polyline points="158.7,206.1 175.5,212.5"/>
<polyline points="156.5,211.7 173.4,218.1"/>
<polyline points="169.8,22.3 83.8,246.4"/>
<polyline points="195.9,32.4 109.9,256.4"/>
<polyline points="221.6,42.2 135.6,266.3"/>
</g></g>
<g fill="none" stroke-linecap="round" stroke-linejoin="round">
<polyline points="147.8,46.2 92.3,183.0" stroke="#b9b9a8" stroke-width="5.4"/>
<polyline points="176.0,52.0 125.0,184.0" stroke="#b9b9a8" stroke-width="5.4"/>
<polyline points="190.0,80.0 153.0,178.0" stroke="#b9b9a8" stroke-width="5.4"/>
<polyline points="155.8,47.8 184.0,60.5" stroke="#b9b9a8" stroke-width="5.4"/>
<polyline points="127.2,106.0 177.0,124.5" stroke="#b9b9a8" stroke-width="5.4"/>
<polyline points="106.5,156.8 154.2,177.5 165.0,184.0" stroke="#b9b9a8" stroke-width="5.4"/>
<polyline points="4.8,94.5 62.0,103.3" stroke="#b9b9a8" stroke-width="5.4"/>
<polyline points="0.0,120.3 51.5,129.9 92.7,137.8 108.0,140.5" stroke="#b9b9a8" stroke-width="5.4"/>
<polyline points="0.0,139.5 33.0,184.0" stroke="#b9b9a8" stroke-width="5.4"/>
<polyline points="67.5,89.2 57.5,117.0 52.0,129.0" stroke="#b9b9a8" stroke-width="5.4"/>
<polyline points="149.0,3.0 142.2,23.5" stroke="#b9b9a8" stroke-width="5.4"/>
<polyline points="138.0,2.2 160.0,4.5 184.0,8.0" stroke="#b9b9a8" stroke-width="5.4"/>
<polyline points="147.8,46.2 92.3,183.0" stroke="#ececec" stroke-width="4.2"/>
<polyline points="176.0,52.0 125.0,184.0" stroke="#ececec" stroke-width="4.2"/>
<polyline points="190.0,80.0 153.0,178.0" stroke="#ececec" stroke-width="4.2"/>
<polyline points="155.8,47.8 184.0,60.5" stroke="#ececec" stroke-width="4.2"/>
<polyline points="127.2,106.0 177.0,124.5" stroke="#ececec" stroke-width="4.2"/>
<polyline points="106.5,156.8 154.2,177.5 165.0,184.0" stroke="#ececec" stroke-width="4.2"/>
<polyline points="4.8,94.5 62.0,103.3" stroke="#ececec" stroke-width="4.2"/>
<polyline points="0.0,120.3 51.5,129.9 92.7,137.8 108.0,140.5" stroke="#ececec" stroke-width="4.2"/>
<polyline points="0.0,139.5 33.0,184.0" stroke="#ececec" stroke-width="4.2"/>
<polyline points="67.5,89.2 57.5,117.0 52.0,129.0" stroke="#ececec" stroke-width="4.2"/>
<polyline points="149.0,3.0 142.2,23.5" stroke="#ececec" stroke-width="4.2"/>
<polyline points="138.0,2.2 160.0,4.5 184.0,8.0" stroke="#ececec" stroke-width="4.2"/>
</g>
<path d="M79.4,59.6 L97,51.9 L112,47.3 L118.6,46.6 L129,48 L95.6,136.9 L54.3,128.7 Z" fill="#fbc86a" stroke="#1a1a1a" stroke-width="1.6" stroke-linejoin="round"/>
<g fill="none" stroke="#8f8270" stroke-width="0.55" stroke-linejoin="round">
<polygon points="112,50.2 120.6,54.5 121.9,59.1 115.3,76.1 104.2,72.2"/>
<line x1="108" y1="61" x2="117.3" y2="53.2"/><line x1="104.8" y1="71.5" x2="120.6" y2="57.1"/><line x1="110.1" y1="74.8" x2="121.2" y2="61.7"/>
<path d="M83,61.5 l1.5,-2.6 l2.4,0.6 l-0.4,2.6 z M94,58.5 l3.4,-3 l3,1.4 l-3.4,3 z"/>
<path d="M97.5,89.5 l3,0.6 l-1,4.6 l-3,-0.6 z"/>
<path d="M89.5,97.8 l9.6,3 l-1.6,5.2 l-9.6,-3 z M91,104 l3,-5 M94.5,105 l3,-5"/>
</g>
<g stroke="#3f9be8" stroke-width="1" stroke-opacity="0.8"><line x1="52.3" y1="0" x2="52.3" y2="184"/><line x1="126.5" y1="0" x2="126.5" y2="184"/><line x1="0" y1="43.5" x2="184" y2="43.5"/><line x1="0" y1="117.5" x2="184" y2="117.5"/></g>
<text x="1.5" y="7.3" font-size="7" letter-spacing="0.25" fill="#1e1e1e" stroke="#1e1e1e" stroke-width="0.15" font-family="Liberation Sans">TMQ - 2023-02-24</text>
<text x="182.8" y="6.9" font-size="6" font-weight="bold" text-anchor="end" letter-spacing="0.8" fill="#1a1a1a" font-family="Liberation Sans">V 7.0</text>
<text x="173.3" y="18.4" font-size="13" font-weight="bold" text-anchor="middle" fill="#000" font-family="Liberation Sans">N</text>
<path d="M173.3,19.3 L170,24.2 L172,24.2 L172,30.5 L174.6,30.5 L174.6,24.2 L176.6,24.2 Z" fill="#000"/>
<text x="2.3" y="116.2" font-size="6.6" font-weight="bold" letter-spacing="0.7" fill="#3a97e8" font-family="Liberation Sans">9975000</text>
<text x="53.5" y="180.8" font-size="6.6" font-weight="bold" letter-spacing="0.75" fill="#3a97e8" font-family="Liberation Sans">506000</text>
<text x="182.9" y="181" font-size="6.6" font-weight="bold" letter-spacing="0.55" text-anchor="end" fill="#3a97e8" font-family="Liberation Sans">Escala 1:7500</text>
</svg><div class="frame"></div></div>
<div class="hd" style="left:331px;top:196px"><div style="position:relative;top:0px">VÍAS PRINCIPALES</div></div>
<div class="map" style="left:331px;top:218px"><svg width="184" height="184" viewBox="0 0 184 184">
<defs><clipPath id="gc5"><polygon points="128.6,47.4 146.2,45.0 156.6,47.6 166.9,49.6 184.0,37.2 184.0,184.0 92.0,184.0 108.0,140.5 95.1,136.8"/></clipPath></defs>
<rect width="184" height="184" fill="#f2f2cb"/>
<polygon points="0.0,57.0 14.2,54.8 25.3,55.3 35.3,59.2 50.8,54.8 67.5,52.0 75.9,44.5 92.5,43.0 103.4,37.5 125.6,33.5 139.9,28.0 142.4,25.5 147.5,27.0 162.0,29.2 169.4,24.8 171.0,8.8 184.0,8.5 184.0,37.2 166.9,49.6 156.6,47.6 146.2,45.0 128.6,47.4 111.2,47.1 96.0,51.0 79.5,59.1 62.0,65.9 49.2,71.8 45.3,77.7 21.7,74.8 12.8,73.8 0.0,89.0" fill="#ececec" stroke="#b4b4a4" stroke-width="0.6"/>
<g fill="#f8f8b6"><polygon points="121.5,77 128.5,79.5 126.5,85 119.5,82.5"/><polygon points="160,159 168,162 165.5,168.5 157.5,165.5"/></g>
<g fill="none" stroke="#74745f" stroke-width="0.6">
<polyline points="0.8,7.6 97.7,24.1"/>
<polyline points="103.0,0.0 95.5,42.0"/>
<polyline points="109.9,0.0 109.1,7.6"/>
<polyline points="116.5,0.0 115.7,8.7"/>
<polyline points="122.3,0.0 121.5,9.6"/>
<polyline points="128.2,0.0 127.4,10.6"/>
<polyline points="134.7,0.0 133.9,11.7"/>
<polyline points="103.7,6.6 134.3,11.7"/>
<polyline points="148.0,5.5 171.0,8.8"/>
<polyline points="147.0,12.4 156.5,13.0"/>
<polyline points="146.0,18.2 156.0,19.0"/>
<polyline points="157.1,6.0 154.3,28.0"/>
<polyline points="162.9,6.0 160.1,28.0"/>
<polyline points="168.9,6.0 166.1,28.0"/>
<polyline points="21.4,75.3 18.1,93.7"/>
<polyline points="35.3,77.0 31.4,96.4"/>
<polyline points="48.1,75.3 44.2,98.1"/>
<polyline points="49.7,74.8 67.5,80.3"/>
<polyline points="47.5,82.0 67.5,87.0"/>
<polyline points="62.0,66.0 72.0,70.0"/>
<polyline points="19.7,96.5 15.0,121.1"/>
<polyline points="8.6,96.4 5.3,120.0"/>
<polyline points="32.4,98.1 26.9,123.5"/>
<polyline points="45.1,99.7 40.4,125.9"/>
<polyline points="49.9,133.0 39.6,156.8 92.7,168.0 110.0,171.0"/>
<polyline points="64.2,134.6 53.1,160.0"/>
<polyline points="78.5,136.2 68.9,163.2"/>
<polyline points="92.7,139.0 85.0,166.0"/>
<polyline points="53.1,160.0 49.9,184.0"/>
<polyline points="68.9,163.0 64.0,184.0"/>
<polyline points="85.0,166.0 80.0,184.0"/>
<polyline points="0.0,156.4 7.9,157.4"/>
<polyline points="7.9,157.4 3.9,166.3 7.9,173.2 15.7,184.0"/>
<polyline points="0.0,164.3 3.9,166.3"/>
<polyline points="7.4,171.2 14.8,165.3"/>
<polyline points="12.8,177.1 20.7,171.2"/>
<polyline points="18.7,183.0 25.6,178.1"/>
<g clip-path="url(#gc5)">
<polyline points="134.3,13.0 154.8,20.9"/>
<polyline points="132.1,18.6 152.7,26.5"/>
<polyline points="130.0,24.2 150.5,32.1"/>
<polyline points="127.8,29.8 148.4,37.7"/>
<polyline points="125.7,35.4 146.2,43.3"/>
<polyline points="123.5,41.0 144.1,48.9"/>
<polyline points="121.4,46.6 141.9,54.5"/>
<polyline points="119.2,52.2 139.8,60.1"/>
<polyline points="117.1,57.8 137.6,65.7"/>
<polyline points="114.9,63.4 135.5,71.3"/>
<polyline points="112.8,69.0 133.3,76.9"/>
<polyline points="110.6,74.6 131.2,82.5"/>
<polyline points="108.5,80.2 129.0,88.1"/>
<polyline points="106.3,85.8 126.9,93.7"/>
<polyline points="104.2,91.4 124.7,99.3"/>
<polyline points="102.0,97.0 122.6,104.9"/>
<polyline points="99.9,102.6 120.4,110.5"/>
<polyline points="97.7,108.2 118.3,116.1"/>
<polyline points="95.6,113.8 116.1,121.7"/>
<polyline points="93.4,119.4 114.0,127.3"/>
<polyline points="91.3,125.0 111.8,132.9"/>
<polyline points="89.1,130.6 109.7,138.5"/>
<polyline points="87.0,136.2 107.5,144.1"/>
<polyline points="84.8,141.8 105.4,149.7"/>
<polyline points="82.7,147.4 103.2,155.3"/>
<polyline points="80.5,153.0 101.1,160.9"/>
<polyline points="78.4,158.6 98.9,166.5"/>
<polyline points="76.2,164.2 96.7,172.1"/>
<polyline points="74.1,169.8 94.6,177.7"/>
<polyline points="71.9,175.4 92.4,183.3"/>
<polyline points="154.3,22.3 167.8,27.5"/>
<polyline points="152.1,27.9 165.7,33.1"/>
<polyline points="150.0,33.5 163.5,38.7"/>
<polyline points="147.8,39.1 161.4,44.3"/>
<polyline points="145.7,44.7 159.2,49.9"/>
<polyline points="143.5,50.3 157.1,55.5"/>
<polyline points="141.4,55.9 154.9,61.1"/>
<polyline points="139.2,61.5 152.8,66.7"/>
<polyline points="137.1,67.1 150.6,72.3"/>
<polyline points="134.9,72.7 148.5,77.9"/>
<polyline points="132.8,78.3 146.3,83.5"/>
<polyline points="130.6,83.9 144.2,89.1"/>
<polyline points="128.5,89.5 142.0,94.7"/>
<polyline points="126.3,95.1 139.9,100.3"/>
<polyline points="124.2,100.7 137.7,105.9"/>
<polyline points="122.0,106.3 135.6,111.5"/>
<polyline points="119.9,111.9 133.4,117.1"/>
<polyline points="117.7,117.5 131.3,122.7"/>
<polyline points="115.6,123.1 129.1,128.3"/>
<polyline points="113.4,128.7 127.0,133.9"/>
<polyline points="111.3,134.3 124.8,139.5"/>
<polyline points="109.1,139.9 122.7,145.1"/>
<polyline points="107.0,145.5 120.5,150.7"/>
<polyline points="104.8,151.1 118.4,156.3"/>
<polyline points="102.7,156.7 116.2,161.9"/>
<polyline points="100.5,162.3 114.0,167.5"/>
<polyline points="98.4,167.9 111.9,173.1"/>
<polyline points="96.2,173.5 109.7,178.7"/>
<polyline points="94.1,179.1 107.6,184.3"/>
<polyline points="91.9,184.7 105.4,189.9"/>
<polyline points="167.0,29.6 181.2,35.1"/>
<polyline points="164.8,35.2 179.0,40.7"/>
<polyline points="162.7,40.8 176.9,46.3"/>
<polyline points="160.5,46.4 174.7,51.9"/>
<polyline points="158.4,52.0 172.6,57.5"/>
<polyline points="156.2,57.6 170.4,63.1"/>
<polyline points="154.1,63.2 168.3,68.7"/>
<polyline points="151.9,68.8 166.1,74.3"/>
<polyline points="149.8,74.4 164.0,79.9"/>
<polyline points="147.6,80.0 161.8,85.5"/>
<polyline points="145.5,85.6 159.7,91.1"/>
<polyline points="143.3,91.2 157.5,96.7"/>
<polyline points="141.2,96.8 155.4,102.3"/>
<polyline points="139.0,102.4 153.2,107.9"/>
<polyline points="136.9,108.0 151.1,113.5"/>
<polyline points="134.7,113.6 148.9,119.1"/>
<polyline points="132.6,119.2 146.8,124.7"/>
<polyline points="130.4,124.8 144.6,130.3"/>
<polyline points="128.3,130.4 142.5,135.9"/>
<polyline points="126.1,136.0 140.3,141.5"/>
<polyline points="124.0,141.6 138.2,147.1"/>
<polyline points="121.8,147.2 136.0,152.7"/>
<polyline points="119.7,152.8 133.9,158.3"/>
<polyline points="117.5,158.4 131.7,163.9"/>
<polyline points="115.4,164.0 129.6,169.5"/>
<polyline points="113.2,169.6 127.4,175.1"/>
<polyline points="111.1,175.2 125.3,180.7"/>
<polyline points="108.9,180.8 123.1,186.3"/>
<polyline points="106.8,186.4 121.0,191.9"/>
<polyline points="104.6,192.0 118.8,197.5"/>
<polyline points="182.2,32.3 194.2,36.8"/>
<polyline points="180.1,37.9 192.0,42.4"/>
<polyline points="177.9,43.5 189.9,48.0"/>
<polyline points="175.8,49.1 187.7,53.6"/>
<polyline points="173.6,54.7 185.6,59.2"/>
<polyline points="171.5,60.3 183.4,64.8"/>
<polyline points="169.3,65.9 181.3,70.4"/>
<polyline points="167.2,71.5 179.1,76.1"/>
<polyline points="165.0,77.1 177.0,81.7"/>
<polyline points="162.9,82.7 174.8,87.3"/>
<polyline points="160.7,88.3 172.7,92.9"/>
<polyline points="158.6,93.9 170.5,98.5"/>
<polyline points="156.4,99.5 168.4,104.1"/>
<polyline points="154.3,105.1 166.2,109.7"/>
<polyline points="152.1,110.7 164.1,115.3"/>
<polyline points="150.0,116.3 161.9,120.9"/>
<polyline points="147.8,121.9 159.8,126.5"/>
<polyline points="145.7,127.5 157.6,132.1"/>
<polyline points="143.5,133.1 155.5,137.7"/>
<polyline points="141.4,138.7 153.3,143.3"/>
<polyline points="139.2,144.3 151.2,148.9"/>
<polyline points="137.1,149.9 149.0,154.5"/>
<polyline points="134.9,155.5 146.9,160.1"/>
<polyline points="132.8,161.1 144.7,165.7"/>
<polyline points="130.6,166.7 142.6,171.3"/>
<polyline points="128.5,172.3 140.4,176.9"/>
<polyline points="126.3,177.9 138.3,182.5"/>
<polyline points="124.2,183.5 136.1,188.1"/>
<polyline points="122.0,189.1 134.0,193.7"/>
<polyline points="119.9,194.7 131.8,199.3"/>
<polyline points="193.3,39.1 205.0,43.6"/>
<polyline points="191.2,44.7 202.9,49.2"/>
<polyline points="189.0,50.3 200.7,54.8"/>
<polyline points="186.9,55.9 198.6,60.4"/>
<polyline points="184.7,61.5 196.4,66.0"/>
<polyline points="182.6,67.1 194.3,71.6"/>
<polyline points="180.4,72.7 192.1,77.2"/>
<polyline points="178.3,78.3 190.0,82.8"/>
<polyline points="176.1,83.9 187.8,88.4"/>
<polyline points="174.0,89.5 185.7,94.0"/>
<polyline points="171.8,95.1 183.5,99.6"/>
<polyline points="169.7,100.7 181.4,105.2"/>
<polyline points="167.5,106.3 179.2,110.8"/>
<polyline points="165.4,111.9 177.1,116.4"/>
<polyline points="163.2,117.5 174.9,122.0"/>
<polyline points="161.1,123.1 172.8,127.6"/>
<polyline points="158.9,128.7 170.6,133.2"/>
<polyline points="156.8,134.3 168.5,138.8"/>
<polyline points="154.6,139.9 166.3,144.4"/>
<polyline points="152.5,145.5 164.2,150.0"/>
<polyline points="150.3,151.1 162.0,155.6"/>
<polyline points="148.2,156.7 159.9,161.2"/>
<polyline points="146.0,162.3 157.7,166.8"/>
<polyline points="143.9,167.9 155.6,172.4"/>
<polyline points="141.7,173.5 153.4,178.0"/>
<polyline points="139.6,179.1 151.3,183.6"/>
<polyline points="137.4,184.7 149.1,189.2"/>
<polyline points="135.3,190.3 147.0,194.8"/>
<polyline points="133.1,195.9 144.8,200.4"/>
<polyline points="131.0,201.5 142.6,206.0"/>
<polyline points="205.8,41.5 219.8,46.9"/>
<polyline points="203.6,47.1 217.6,52.5"/>
<polyline points="201.5,52.7 215.5,58.1"/>
<polyline points="199.3,58.3 213.3,63.7"/>
<polyline points="197.2,63.9 211.2,69.3"/>
<polyline points="195.0,69.5 209.0,74.9"/>
<polyline points="192.9,75.1 206.9,80.5"/>
<polyline points="190.7,80.7 204.7,86.1"/>
<polyline points="188.6,86.3 202.6,91.7"/>
<polyline points="186.4,91.9 200.4,97.3"/>
<polyline points="184.3,97.5 198.3,102.9"/>
<polyline points="182.1,103.1 196.1,108.5"/>
<polyline points="180.0,108.7 194.0,114.1"/>
<polyline points="177.8,114.3 191.8,119.7"/>
<polyline points="175.7,119.9 189.7,125.3"/>
<polyline points="173.5,125.5 187.5,130.9"/>
<polyline points="171.4,131.1 185.4,136.5"/>
<polyline points="169.2,136.7 183.2,142.1"/>
<polyline points="167.1,142.3 181.1,147.7"/>
<polyline points="164.9,147.9 178.9,153.3"/>
<polyline points="162.8,153.5 176.8,158.9"/>
<polyline points="160.6,159.1 174.6,164.5"/>
<polyline points="158.5,164.7 172.5,170.1"/>
<polyline points="156.3,170.3 170.3,175.7"/>
<polyline points="154.2,175.9 168.2,181.3"/>
<polyline points="152.0,181.5 166.0,186.9"/>
<polyline points="149.9,187.1 163.9,192.5"/>
<polyline points="147.7,192.7 161.7,198.1"/>
<polyline points="145.6,198.3 159.6,203.7"/>
<polyline points="143.4,203.9 157.4,209.3"/>
<polyline points="218.9,49.2 235.7,55.7"/>
<polyline points="216.8,54.8 233.6,61.3"/>
<polyline points="214.6,60.4 231.4,66.9"/>
<polyline points="212.5,66.0 229.3,72.5"/>
<polyline points="210.3,71.6 227.1,78.1"/>
<polyline points="208.2,77.2 225.0,83.7"/>
<polyline points="206.0,82.8 222.8,89.3"/>
<polyline points="203.9,88.4 220.7,94.9"/>
<polyline points="201.7,94.0 218.5,100.5"/>
<polyline points="199.5,99.6 216.4,106.1"/>
<polyline points="197.4,105.2 214.2,111.7"/>
<polyline points="195.2,110.8 212.1,117.3"/>
<polyline points="193.1,116.4 209.9,122.9"/>
<polyline points="190.9,122.0 207.8,128.5"/>
<polyline points="188.8,127.6 205.6,134.1"/>
<polyline points="186.6,133.2 203.5,139.7"/>
<polyline points="184.5,138.8 201.3,145.3"/>
<polyline points="182.3,144.4 199.2,150.9"/>
<polyline points="180.2,150.0 197.0,156.5"/>
<polyline points="178.0,155.6 194.9,162.1"/>
<polyline points="175.9,161.2 192.7,167.7"/>
<polyline points="173.7,166.8 190.6,173.3"/>
<polyline points="171.6,172.4 188.4,178.9"/>
<polyline points="169.4,178.1 186.3,184.5"/>
<polyline points="167.3,183.7 184.1,190.1"/>
<polyline points="165.1,189.3 182.0,195.7"/>
<polyline points="163.0,194.9 179.8,201.3"/>
<polyline points="160.8,200.5 177.7,206.9"/>
<polyline points="158.7,206.1 175.5,212.5"/>
<polyline points="156.5,211.7 173.4,218.1"/>
<polyline points="169.8,22.3 83.8,246.4"/>
<polyline points="195.9,32.4 109.9,256.4"/>
<polyline points="221.6,42.2 135.6,266.3"/>
</g></g>
<g fill="none" stroke-linecap="round" stroke-linejoin="round">
<polyline points="147.8,46.2 92.3,183.0" stroke="#b9b9a8" stroke-width="5.4"/>
<polyline points="176.0,52.0 125.0,184.0" stroke="#b9b9a8" stroke-width="5.4"/>
<polyline points="190.0,80.0 153.0,178.0" stroke="#b9b9a8" stroke-width="5.4"/>
<polyline points="155.8,47.8 184.0,60.5" stroke="#b9b9a8" stroke-width="5.4"/>
<polyline points="127.2,106.0 177.0,124.5" stroke="#b9b9a8" stroke-width="5.4"/>
<polyline points="106.5,156.8 154.2,177.5 165.0,184.0" stroke="#b9b9a8" stroke-width="5.4"/>
<polyline points="4.8,94.5 62.0,103.3" stroke="#b9b9a8" stroke-width="5.4"/>
<polyline points="0.0,120.3 51.5,129.9 92.7,137.8 108.0,140.5" stroke="#b9b9a8" stroke-width="5.4"/>
<polyline points="0.0,139.5 33.0,184.0" stroke="#b9b9a8" stroke-width="5.4"/>
<polyline points="67.5,89.2 57.5,117.0 52.0,129.0" stroke="#b9b9a8" stroke-width="5.4"/>
<polyline points="149.0,3.0 142.2,23.5" stroke="#b9b9a8" stroke-width="5.4"/>
<polyline points="138.0,2.2 160.0,4.5 184.0,8.0" stroke="#b9b9a8" stroke-width="5.4"/>
<polyline points="147.8,46.2 92.3,183.0" stroke="#ececec" stroke-width="4.2"/>
<polyline points="176.0,52.0 125.0,184.0" stroke="#ececec" stroke-width="4.2"/>
<polyline points="190.0,80.0 153.0,178.0" stroke="#ececec" stroke-width="4.2"/>
<polyline points="155.8,47.8 184.0,60.5" stroke="#ececec" stroke-width="4.2"/>
<polyline points="127.2,106.0 177.0,124.5" stroke="#ececec" stroke-width="4.2"/>
<polyline points="106.5,156.8 154.2,177.5 165.0,184.0" stroke="#ececec" stroke-width="4.2"/>
<polyline points="4.8,94.5 62.0,103.3" stroke="#ececec" stroke-width="4.2"/>
<polyline points="0.0,120.3 51.5,129.9 92.7,137.8 108.0,140.5" stroke="#ececec" stroke-width="4.2"/>
<polyline points="0.0,139.5 33.0,184.0" stroke="#ececec" stroke-width="4.2"/>
<polyline points="67.5,89.2 57.5,117.0 52.0,129.0" stroke="#ececec" stroke-width="4.2"/>
<polyline points="149.0,3.0 142.2,23.5" stroke="#ececec" stroke-width="4.2"/>
<polyline points="138.0,2.2 160.0,4.5 184.0,8.0" stroke="#ececec" stroke-width="4.2"/>
</g>
<path d="M79.4,59.6 L97,51.9 L112,47.3 L118.6,46.6 L129,48 L95.6,136.9 L54.3,128.7 Z" fill="#fbc86a" stroke="#1a1a1a" stroke-width="1.6" stroke-linejoin="round"/>
<g fill="none" stroke="#8f8270" stroke-width="0.55" stroke-linejoin="round">
<polygon points="112,50.2 120.6,54.5 121.9,59.1 115.3,76.1 104.2,72.2"/>
<line x1="108" y1="61" x2="117.3" y2="53.2"/><line x1="104.8" y1="71.5" x2="120.6" y2="57.1"/><line x1="110.1" y1="74.8" x2="121.2" y2="61.7"/>
<path d="M83,61.5 l1.5,-2.6 l2.4,0.6 l-0.4,2.6 z M94,58.5 l3.4,-3 l3,1.4 l-3.4,3 z"/>
<path d="M97.5,89.5 l3,0.6 l-1,4.6 l-3,-0.6 z"/>
<path d="M89.5,97.8 l9.6,3 l-1.6,5.2 l-9.6,-3 z M91,104 l3,-5 M94.5,105 l3,-5"/>
</g>
<g stroke="#3f9be8" stroke-width="1" stroke-opacity="0.8"><line x1="52.3" y1="0" x2="52.3" y2="184"/><line x1="126.5" y1="0" x2="126.5" y2="184"/><line x1="0" y1="43.5" x2="184" y2="43.5"/><line x1="0" y1="117.5" x2="184" y2="117.5"/></g>
<text x="1.5" y="7.3" font-size="7" letter-spacing="0.25" fill="#1e1e1e" stroke="#1e1e1e" stroke-width="0.15" font-family="Liberation Sans">TMQ - 2023-02-24</text>
<text x="182.8" y="6.9" font-size="6" font-weight="bold" text-anchor="end" letter-spacing="0.8" fill="#1a1a1a" font-family="Liberation Sans">V 7.0</text>
<text x="173.3" y="18.4" font-size="13" font-weight="bold" text-anchor="middle" fill="#000" font-family="Liberation Sans">N</text>
<path d="M173.3,19.3 L170,24.2 L172,24.2 L172,30.5 L174.6,30.5 L174.6,24.2 L176.6,24.2 Z" fill="#000"/>
<text x="2.3" y="116.2" font-size="6.6" font-weight="bold" letter-spacing="0.7" fill="#3a97e8" font-family="Liberation Sans">9975000</text>
<text x="53.5" y="180.8" font-size="6.6" font-weight="bold" letter-spacing="0.75" fill="#3a97e8" font-family="Liberation Sans">506000</text>
<text x="182.9" y="181" font-size="6.6" font-weight="bold" letter-spacing="0.55" text-anchor="end" fill="#3a97e8" font-family="Liberation Sans">Escala 1:7500</text>
</svg><div class="frame"></div></div>
<div class="hd" style="left:557px;top:195px"><div style="position:relative;top:0px">VÍAS LOCALES</div></div>
<div class="map" style="left:557px;top:217px"><svg width="184" height="184" viewBox="0 0 184 184">
<defs><clipPath id="gc6"><polygon points="128.6,47.4 146.2,45.0 156.6,47.6 166.9,49.6 184.0,37.2 184.0,184.0 92.0,184.0 108.0,140.5 95.1,136.8"/></clipPath></defs>
<rect width="184" height="184" fill="#f2f2cb"/>
<polygon points="0.0,57.0 14.2,54.8 25.3,55.3 35.3,59.2 50.8,54.8 67.5,52.0 75.9,44.5 92.5,43.0 103.4,37.5 125.6,33.5 139.9,28.0 142.4,25.5 147.5,27.0 162.0,29.2 169.4,24.8 171.0,8.8 184.0,8.5 184.0,37.2 166.9,49.6 156.6,47.6 146.2,45.0 128.6,47.4 111.2,47.1 96.0,51.0 79.5,59.1 62.0,65.9 49.2,71.8 45.3,77.7 21.7,74.8 12.8,73.8 0.0,89.0" fill="#ececec" stroke="#b4b4a4" stroke-width="0.6"/>
<g fill="#f8f8b6"><polygon points="121.5,77 128.5,79.5 126.5,85 119.5,82.5"/><polygon points="160,159 168,162 165.5,168.5 157.5,165.5"/></g>
<g fill="none" stroke="#74745f" stroke-width="0.6">
<polyline points="0.8,7.6 97.7,24.1"/>
<polyline points="103.0,0.0 95.5,42.0"/>
<polyline points="109.9,0.0 109.1,7.6"/>
<polyline points="116.5,0.0 115.7,8.7"/>
<polyline points="122.3,0.0 121.5,9.6"/>
<polyline points="128.2,0.0 127.4,10.6"/>
<polyline points="134.7,0.0 133.9,11.7"/>
<polyline points="103.7,6.6 134.3,11.7"/>
<polyline points="148.0,5.5 171.0,8.8"/>
<polyline points="147.0,12.4 156.5,13.0"/>
<polyline points="146.0,18.2 156.0,19.0"/>
<polyline points="157.1,6.0 154.3,28.0"/>
<polyline points="162.9,6.0 160.1,28.0"/>
<polyline points="168.9,6.0 166.1,28.0"/>
<polyline points="21.4,75.3 18.1,93.7"/>
<polyline points="35.3,77.0 31.4,96.4"/>
<polyline points="48.1,75.3 44.2,98.1"/>
<polyline points="49.7,74.8 67.5,80.3"/>
<polyline points="47.5,82.0 67.5,87.0"/>
<polyline points="62.0,66.0 72.0,70.0"/>
<polyline points="19.7,96.5 15.0,121.1"/>
<polyline points="8.6,96.4 5.3,120.0"/>
<polyline points="32.4,98.1 26.9,123.5"/>
<polyline points="45.1,99.7 40.4,125.9"/>
<polyline points="49.9,133.0 39.6,156.8 92.7,168.0 110.0,171.0"/>
<polyline points="64.2,134.6 53.1,160.0"/>
<polyline points="78.5,136.2 68.9,163.2"/>
<polyline points="92.7,139.0 85.0,166.0"/>
<polyline points="53.1,160.0 49.9,184.0"/>
<polyline points="68.9,163.0 64.0,184.0"/>
<polyline points="85.0,166.0 80.0,184.0"/>
<polyline points="0.0,156.4 7.9,157.4"/>
<polyline points="7.9,157.4 3.9,166.3 7.9,173.2 15.7,184.0"/>
<polyline points="0.0,164.3 3.9,166.3"/>
<polyline points="7.4,171.2 14.8,165.3"/>
<polyline points="12.8,177.1 20.7,171.2"/>
<polyline points="18.7,183.0 25.6,178.1"/>
<g clip-path="url(#gc6)">
<polyline points="134.3,13.0 154.8,20.9"/>
<polyline points="132.1,18.6 152.7,26.5"/>
<polyline points="130.0,24.2 150.5,32.1"/>
<polyline points="127.8,29.8 148.4,37.7"/>
<polyline points="125.7,35.4 146.2,43.3"/>
<polyline points="123.5,41.0 144.1,48.9"/>
<polyline points="121.4,46.6 141.9,54.5"/>
<polyline points="119.2,52.2 139.8,60.1"/>
<polyline points="117.1,57.8 137.6,65.7"/>
<polyline points="114.9,63.4 135.5,71.3"/>
<polyline points="112.8,69.0 133.3,76.9"/>
<polyline points="110.6,74.6 131.2,82.5"/>
<polyline points="108.5,80.2 129.0,88.1"/>
<polyline points="106.3,85.8 126.9,93.7"/>
<polyline points="104.2,91.4 124.7,99.3"/>
<polyline points="102.0,97.0 122.6,104.9"/>
<polyline points="99.9,102.6 120.4,110.5"/>
<polyline points="97.7,108.2 118.3,116.1"/>
<polyline points="95.6,113.8 116.1,121.7"/>
<polyline points="93.4,119.4 114.0,127.3"/>
<polyline points="91.3,125.0 111.8,132.9"/>
<polyline points="89.1,130.6 109.7,138.5"/>
<polyline points="87.0,136.2 107.5,144.1"/>
<polyline points="84.8,141.8 105.4,149.7"/>
<polyline points="82.7,147.4 103.2,155.3"/>
<polyline points="80.5,153.0 101.1,160.9"/>
<polyline points="78.4,158.6 98.9,166.5"/>
<polyline points="76.2,164.2 96.7,172.1"/>
<polyline points="74.1,169.8 94.6,177.7"/>
<polyline points="71.9,175.4 92.4,183.3"/>
<polyline points="154.3,22.3 167.8,27.5"/>
<polyline points="152.1,27.9 165.7,33.1"/>
<polyline points="150.0,33.5 163.5,38.7"/>
<polyline points="147.8,39.1 161.4,44.3"/>
<polyline points="145.7,44.7 159.2,49.9"/>
<polyline points="143.5,50.3 157.1,55.5"/>
<polyline points="141.4,55.9 154.9,61.1"/>
<polyline points="139.2,61.5 152.8,66.7"/>
<polyline points="137.1,67.1 150.6,72.3"/>
<polyline points="134.9,72.7 148.5,77.9"/>
<polyline points="132.8,78.3 146.3,83.5"/>
<polyline points="130.6,83.9 144.2,89.1"/>
<polyline points="128.5,89.5 142.0,94.7"/>
<polyline points="126.3,95.1 139.9,100.3"/>
<polyline points="124.2,100.7 137.7,105.9"/>
<polyline points="122.0,106.3 135.6,111.5"/>
<polyline points="119.9,111.9 133.4,117.1"/>
<polyline points="117.7,117.5 131.3,122.7"/>
<polyline points="115.6,123.1 129.1,128.3"/>
<polyline points="113.4,128.7 127.0,133.9"/>
<polyline points="111.3,134.3 124.8,139.5"/>
<polyline points="109.1,139.9 122.7,145.1"/>
<polyline points="107.0,145.5 120.5,150.7"/>
<polyline points="104.8,151.1 118.4,156.3"/>
<polyline points="102.7,156.7 116.2,161.9"/>
<polyline points="100.5,162.3 114.0,167.5"/>
<polyline points="98.4,167.9 111.9,173.1"/>
<polyline points="96.2,173.5 109.7,178.7"/>
<polyline points="94.1,179.1 107.6,184.3"/>
<polyline points="91.9,184.7 105.4,189.9"/>
<polyline points="167.0,29.6 181.2,35.1"/>
<polyline points="164.8,35.2 179.0,40.7"/>
<polyline points="162.7,40.8 176.9,46.3"/>
<polyline points="160.5,46.4 174.7,51.9"/>
<polyline points="158.4,52.0 172.6,57.5"/>
<polyline points="156.2,57.6 170.4,63.1"/>
<polyline points="154.1,63.2 168.3,68.7"/>
<polyline points="151.9,68.8 166.1,74.3"/>
<polyline points="149.8,74.4 164.0,79.9"/>
<polyline points="147.6,80.0 161.8,85.5"/>
<polyline points="145.5,85.6 159.7,91.1"/>
<polyline points="143.3,91.2 157.5,96.7"/>
<polyline points="141.2,96.8 155.4,102.3"/>
<polyline points="139.0,102.4 153.2,107.9"/>
<polyline points="136.9,108.0 151.1,113.5"/>
<polyline points="134.7,113.6 148.9,119.1"/>
<polyline points="132.6,119.2 146.8,124.7"/>
<polyline points="130.4,124.8 144.6,130.3"/>
<polyline points="128.3,130.4 142.5,135.9"/>
<polyline points="126.1,136.0 140.3,141.5"/>
<polyline points="124.0,141.6 138.2,147.1"/>
<polyline points="121.8,147.2 136.0,152.7"/>
<polyline points="119.7,152.8 133.9,158.3"/>
<polyline points="117.5,158.4 131.7,163.9"/>
<polyline points="115.4,164.0 129.6,169.5"/>
<polyline points="113.2,169.6 127.4,175.1"/>
<polyline points="111.1,175.2 125.3,180.7"/>
<polyline points="108.9,180.8 123.1,186.3"/>
<polyline points="106.8,186.4 121.0,191.9"/>
<polyline points="104.6,192.0 118.8,197.5"/>
<polyline points="182.2,32.3 194.2,36.8"/>
<polyline points="180.1,37.9 192.0,42.4"/>
<polyline points="177.9,43.5 189.9,48.0"/>
<polyline points="175.8,49.1 187.7,53.6"/>
<polyline points="173.6,54.7 185.6,59.2"/>
<polyline points="171.5,60.3 183.4,64.8"/>
<polyline points="169.3,65.9 181.3,70.4"/>
<polyline points="167.2,71.5 179.1,76.1"/>
<polyline points="165.0,77.1 177.0,81.7"/>
<polyline points="162.9,82.7 174.8,87.3"/>
<polyline points="160.7,88.3 172.7,92.9"/>
<polyline points="158.6,93.9 170.5,98.5"/>
<polyline points="156.4,99.5 168.4,104.1"/>
<polyline points="154.3,105.1 166.2,109.7"/>
<polyline points="152.1,110.7 164.1,115.3"/>
<polyline points="150.0,116.3 161.9,120.9"/>
<polyline points="147.8,121.9 159.8,126.5"/>
<polyline points="145.7,127.5 157.6,132.1"/>
<polyline points="143.5,133.1 155.5,137.7"/>
<polyline points="141.4,138.7 153.3,143.3"/>
<polyline points="139.2,144.3 151.2,148.9"/>
<polyline points="137.1,149.9 149.0,154.5"/>
<polyline points="134.9,155.5 146.9,160.1"/>
<polyline points="132.8,161.1 144.7,165.7"/>
<polyline points="130.6,166.7 142.6,171.3"/>
<polyline points="128.5,172.3 140.4,176.9"/>
<polyline points="126.3,177.9 138.3,182.5"/>
<polyline points="124.2,183.5 136.1,188.1"/>
<polyline points="122.0,189.1 134.0,193.7"/>
<polyline points="119.9,194.7 131.8,199.3"/>
<polyline points="193.3,39.1 205.0,43.6"/>
<polyline points="191.2,44.7 202.9,49.2"/>
<polyline points="189.0,50.3 200.7,54.8"/>
<polyline points="186.9,55.9 198.6,60.4"/>
<polyline points="184.7,61.5 196.4,66.0"/>
<polyline points="182.6,67.1 194.3,71.6"/>
<polyline points="180.4,72.7 192.1,77.2"/>
<polyline points="178.3,78.3 190.0,82.8"/>
<polyline points="176.1,83.9 187.8,88.4"/>
<polyline points="174.0,89.5 185.7,94.0"/>
<polyline points="171.8,95.1 183.5,99.6"/>
<polyline points="169.7,100.7 181.4,105.2"/>
<polyline points="167.5,106.3 179.2,110.8"/>
<polyline points="165.4,111.9 177.1,116.4"/>
<polyline points="163.2,117.5 174.9,122.0"/>
<polyline points="161.1,123.1 172.8,127.6"/>
<polyline points="158.9,128.7 170.6,133.2"/>
<polyline points="156.8,134.3 168.5,138.8"/>
<polyline points="154.6,139.9 166.3,144.4"/>
<polyline points="152.5,145.5 164.2,150.0"/>
<polyline points="150.3,151.1 162.0,155.6"/>
<polyline points="148.2,156.7 159.9,161.2"/>
<polyline points="146.0,162.3 157.7,166.8"/>
<polyline points="143.9,167.9 155.6,172.4"/>
<polyline points="141.7,173.5 153.4,178.0"/>
<polyline points="139.6,179.1 151.3,183.6"/>
<polyline points="137.4,184.7 149.1,189.2"/>
<polyline points="135.3,190.3 147.0,194.8"/>
<polyline points="133.1,195.9 144.8,200.4"/>
<polyline points="131.0,201.5 142.6,206.0"/>
<polyline points="205.8,41.5 219.8,46.9"/>
<polyline points="203.6,47.1 217.6,52.5"/>
<polyline points="201.5,52.7 215.5,58.1"/>
<polyline points="199.3,58.3 213.3,63.7"/>
<polyline points="197.2,63.9 211.2,69.3"/>
<polyline points="195.0,69.5 209.0,74.9"/>
<polyline points="192.9,75.1 206.9,80.5"/>
<polyline points="190.7,80.7 204.7,86.1"/>
<polyline points="188.6,86.3 202.6,91.7"/>
<polyline points="186.4,91.9 200.4,97.3"/>
<polyline points="184.3,97.5 198.3,102.9"/>
<polyline points="182.1,103.1 196.1,108.5"/>
<polyline points="180.0,108.7 194.0,114.1"/>
<polyline points="177.8,114.3 191.8,119.7"/>
<polyline points="175.7,119.9 189.7,125.3"/>
<polyline points="173.5,125.5 187.5,130.9"/>
<polyline points="171.4,131.1 185.4,136.5"/>
<polyline points="169.2,136.7 183.2,142.1"/>
<polyline points="167.1,142.3 181.1,147.7"/>
<polyline points="164.9,147.9 178.9,153.3"/>
<polyline points="162.8,153.5 176.8,158.9"/>
<polyline points="160.6,159.1 174.6,164.5"/>
<polyline points="158.5,164.7 172.5,170.1"/>
<polyline points="156.3,170.3 170.3,175.7"/>
<polyline points="154.2,175.9 168.2,181.3"/>
<polyline points="152.0,181.5 166.0,186.9"/>
<polyline points="149.9,187.1 163.9,192.5"/>
<polyline points="147.7,192.7 161.7,198.1"/>
<polyline points="145.6,198.3 159.6,203.7"/>
<polyline points="143.4,203.9 157.4,209.3"/>
<polyline points="218.9,49.2 235.7,55.7"/>
<polyline points="216.8,54.8 233.6,61.3"/>
<polyline points="214.6,60.4 231.4,66.9"/>
<polyline points="212.5,66.0 229.3,72.5"/>
<polyline points="210.3,71.6 227.1,78.1"/>
<polyline points="208.2,77.2 225.0,83.7"/>
<polyline points="206.0,82.8 222.8,89.3"/>
<polyline points="203.9,88.4 220.7,94.9"/>
<polyline points="201.7,94.0 218.5,100.5"/>
<polyline points="199.5,99.6 216.4,106.1"/>
<polyline points="197.4,105.2 214.2,111.7"/>
<polyline points="195.2,110.8 212.1,117.3"/>
<polyline points="193.1,116.4 209.9,122.9"/>
<polyline points="190.9,122.0 207.8,128.5"/>
<polyline points="188.8,127.6 205.6,134.1"/>
<polyline points="186.6,133.2 203.5,139.7"/>
<polyline points="184.5,138.8 201.3,145.3"/>
<polyline points="182.3,144.4 199.2,150.9"/>
<polyline points="180.2,150.0 197.0,156.5"/>
<polyline points="178.0,155.6 194.9,162.1"/>
<polyline points="175.9,161.2 192.7,167.7"/>
<polyline points="173.7,166.8 190.6,173.3"/>
<polyline points="171.6,172.4 188.4,178.9"/>
<polyline points="169.4,178.1 186.3,184.5"/>
<polyline points="167.3,183.7 184.1,190.1"/>
<polyline points="165.1,189.3 182.0,195.7"/>
<polyline points="163.0,194.9 179.8,201.3"/>
<polyline points="160.8,200.5 177.7,206.9"/>
<polyline points="158.7,206.1 175.5,212.5"/>
<polyline points="156.5,211.7 173.4,218.1"/>
<polyline points="169.8,22.3 83.8,246.4"/>
<polyline points="195.9,32.4 109.9,256.4"/>
<polyline points="221.6,42.2 135.6,266.3"/>
</g></g>
<g fill="none" stroke-linecap="round" stroke-linejoin="round">
<polyline points="147.8,46.2 92.3,183.0" stroke="#b9b9a8" stroke-width="5.4"/>
<polyline points="176.0,52.0 125.0,184.0" stroke="#b9b9a8" stroke-width="5.4"/>
<polyline points="190.0,80.0 153.0,178.0" stroke="#b9b9a8" stroke-width="5.4"/>
<polyline points="155.8,47.8 184.0,60.5" stroke="#b9b9a8" stroke-width="5.4"/>
<polyline points="127.2,106.0 177.0,124.5" stroke="#b9b9a8" stroke-width="5.4"/>
<polyline points="106.5,156.8 154.2,177.5 165.0,184.0" stroke="#b9b9a8" stroke-width="5.4"/>
<polyline points="4.8,94.5 62.0,103.3" stroke="#b9b9a8" stroke-width="5.4"/>
<polyline points="0.0,120.3 51.5,129.9 92.7,137.8 108.0,140.5" stroke="#b9b9a8" stroke-width="5.4"/>
<polyline points="0.0,139.5 33.0,184.0" stroke="#b9b9a8" stroke-width="5.4"/>
<polyline points="67.5,89.2 57.5,117.0 52.0,129.0" stroke="#b9b9a8" stroke-width="5.4"/>
<polyline points="149.0,3.0 142.2,23.5" stroke="#b9b9a8" stroke-width="5.4"/>
<polyline points="138.0,2.2 160.0,4.5 184.0,8.0" stroke="#b9b9a8" stroke-width="5.4"/>
<polyline points="147.8,46.2 92.3,183.0" stroke="#ececec" stroke-width="4.2"/>
<polyline points="176.0,52.0 125.0,184.0" stroke="#ececec" stroke-width="4.2"/>
<polyline points="190.0,80.0 153.0,178.0" stroke="#ececec" stroke-width="4.2"/>
<polyline points="155.8,47.8 184.0,60.5" stroke="#ececec" stroke-width="4.2"/>
<polyline points="127.2,106.0 177.0,124.5" stroke="#ececec" stroke-width="4.2"/>
<polyline points="106.5,156.8 154.2,177.5 165.0,184.0" stroke="#ececec" stroke-width="4.2"/>
<polyline points="4.8,94.5 62.0,103.3" stroke="#ececec" stroke-width="4.2"/>
<polyline points="0.0,120.3 51.5,129.9 92.7,137.8 108.0,140.5" stroke="#ececec" stroke-width="4.2"/>
<polyline points="0.0,139.5 33.0,184.0" stroke="#ececec" stroke-width="4.2"/>
<polyline points="67.5,89.2 57.5,117.0 52.0,129.0" stroke="#ececec" stroke-width="4.2"/>
<polyline points="149.0,3.0 142.2,23.5" stroke="#ececec" stroke-width="4.2"/>
<polyline points="138.0,2.2 160.0,4.5 184.0,8.0" stroke="#ececec" stroke-width="4.2"/>
</g>
<path d="M79.4,59.6 L97,51.9 L112,47.3 L118.6,46.6 L129,48 L95.6,136.9 L54.3,128.7 Z" fill="#fbc86a" stroke="#1a1a1a" stroke-width="1.6" stroke-linejoin="round"/>
<g fill="none" stroke="#8f8270" stroke-width="0.55" stroke-linejoin="round">
<polygon points="112,50.2 120.6,54.5 121.9,59.1 115.3,76.1 104.2,72.2"/>
<line x1="108" y1="61" x2="117.3" y2="53.2"/><line x1="104.8" y1="71.5" x2="120.6" y2="57.1"/><line x1="110.1" y1="74.8" x2="121.2" y2="61.7"/>
<path d="M83,61.5 l1.5,-2.6 l2.4,0.6 l-0.4,2.6 z M94,58.5 l3.4,-3 l3,1.4 l-3.4,3 z"/>
<path d="M97.5,89.5 l3,0.6 l-1,4.6 l-3,-0.6 z"/>
<path d="M89.5,97.8 l9.6,3 l-1.6,5.2 l-9.6,-3 z M91,104 l3,-5 M94.5,105 l3,-5"/>
</g>
<g stroke="#3f9be8" stroke-width="1" stroke-opacity="0.8"><line x1="52.3" y1="0" x2="52.3" y2="184"/><line x1="126.5" y1="0" x2="126.5" y2="184"/><line x1="0" y1="43.5" x2="184" y2="43.5"/><line x1="0" y1="117.5" x2="184" y2="117.5"/></g>
<text x="1.5" y="7.3" font-size="7" letter-spacing="0.25" fill="#1e1e1e" stroke="#1e1e1e" stroke-width="0.15" font-family="Liberation Sans">TMQ - 2023-02-24</text>
<text x="182.8" y="6.9" font-size="6" font-weight="bold" text-anchor="end" letter-spacing="0.8" fill="#1a1a1a" font-family="Liberation Sans">V 7.0</text>
<text x="173.3" y="18.4" font-size="13" font-weight="bold" text-anchor="middle" fill="#000" font-family="Liberation Sans">N</text>
<path d="M173.3,19.3 L170,24.2 L172,24.2 L172,30.5 L174.6,30.5 L174.6,24.2 L176.6,24.2 Z" fill="#000"/>
<text x="2.3" y="116.2" font-size="6.6" font-weight="bold" letter-spacing="0.7" fill="#3a97e8" font-family="Liberation Sans">9975000</text>
<text x="53.5" y="180.8" font-size="6.6" font-weight="bold" letter-spacing="0.75" fill="#3a97e8" font-family="Liberation Sans">506000</text>
<text x="182.9" y="181" font-size="6.6" font-weight="bold" letter-spacing="0.55" text-anchor="end" fill="#3a97e8" font-family="Liberation Sans">Escala 1:7500</text>
<line x1="21" y1="0" x2="3" y2="52" stroke="#8a8a7a" stroke-width="0.6"/><text transform="translate(7.6,45.5) rotate(-71)" font-size="8" font-weight="bold" letter-spacing="1.3" fill="#111" font-family="Liberation Sans">27.60 m</text>
<text transform="translate(3,145.4) rotate(55)" font-size="8" font-weight="bold" letter-spacing="1.2" fill="#111" font-family="Liberation Sans">12.00 m</text>
</svg><div class="frame"></div></div>
<div class="hd" style="left:107px;top:416px"><div style="position:relative;top:0px">ZONAS ESPECIALES</div></div>
<div class="map" style="left:107px;top:438px"><svg width="184" height="184" viewBox="0 0 184 184">
<defs><clipPath id="gc7"><polygon points="128.6,47.4 146.2,45.0 156.6,47.6 166.9,49.6 184.0,37.2 184.0,184.0 92.0,184.0 108.0,140.5 95.1,136.8"/></clipPath></defs>
<rect width="184" height="184" fill="#f2f2cb"/>
<polygon points="0.0,57.0 14.2,54.8 25.3,55.3 35.3,59.2 50.8,54.8 67.5,52.0 75.9,44.5 92.5,43.0 103.4,37.5 125.6,33.5 139.9,28.0 142.4,25.5 147.5,27.0 162.0,29.2 169.4,24.8 171.0,8.8 184.0,8.5 184.0,37.2 166.9,49.6 156.6,47.6 146.2,45.0 128.6,47.4 111.2,47.1 96.0,51.0 79.5,59.1 62.0,65.9 49.2,71.8 45.3,77.7 21.7,74.8 12.8,73.8 0.0,89.0" fill="#ececec" stroke="#b4b4a4" stroke-width="0.6"/>
<g fill="#f8f8b6"><polygon points="121.5,77 128.5,79.5 126.5,85 119.5,82.5"/><polygon points="160,159 168,162 165.5,168.5 157.5,165.5"/></g>
<g fill="none" stroke="#74745f" stroke-width="0.6">
<polyline points="0.8,7.6 97.7,24.1"/>
<polyline points="103.0,0.0 95.5,42.0"/>
<polyline points="109.9,0.0 109.1,7.6"/>
<polyline points="116.5,0.0 115.7,8.7"/>
<polyline points="122.3,0.0 121.5,9.6"/>
<polyline points="128.2,0.0 127.4,10.6"/>
<polyline points="134.7,0.0 133.9,11.7"/>
<polyline points="103.7,6.6 134.3,11.7"/>
<polyline points="148.0,5.5 171.0,8.8"/>
<polyline points="147.0,12.4 156.5,13.0"/>
<polyline points="146.0,18.2 156.0,19.0"/>
<polyline points="157.1,6.0 154.3,28.0"/>
<polyline points="162.9,6.0 160.1,28.0"/>
<polyline points="168.9,6.0 166.1,28.0"/>
<polyline points="21.4,75.3 18.1,93.7"/>
<polyline points="35.3,77.0 31.4,96.4"/>
<polyline points="48.1,75.3 44.2,98.1"/>
<polyline points="49.7,74.8 67.5,80.3"/>
<polyline points="47.5,82.0 67.5,87.0"/>
<polyline points="62.0,66.0 72.0,70.0"/>
<polyline points="19.7,96.5 15.0,121.1"/>
<polyline points="8.6,96.4 5.3,120.0"/>
<polyline points="32.4,98.1 26.9,123.5"/>
<polyline points="45.1,99.7 40.4,125.9"/>
<polyline points="49.9,133.0 39.6,156.8 92.7,168.0 110.0,171.0"/>
<polyline points="64.2,134.6 53.1,160.0"/>
<polyline points="78.5,136.2 68.9,163.2"/>
<polyline points="92.7,139.0 85.0,166.0"/>
<polyline points="53.1,160.0 49.9,184.0"/>
<polyline points="68.9,163.0 64.0,184.0"/>
<polyline points="85.0,166.0 80.0,184.0"/>
<polyline points="0.0,156.4 7.9,157.4"/>
<polyline points="7.9,157.4 3.9,166.3 7.9,173.2 15.7,184.0"/>
<polyline points="0.0,164.3 3.9,166.3"/>
<polyline points="7.4,171.2 14.8,165.3"/>
<polyline points="12.8,177.1 20.7,171.2"/>
<polyline points="18.7,183.0 25.6,178.1"/>
<g clip-path="url(#gc7)">
<polyline points="134.3,13.0 154.8,20.9"/>
<polyline points="132.1,18.6 152.7,26.5"/>
<polyline points="130.0,24.2 150.5,32.1"/>
<polyline points="127.8,29.8 148.4,37.7"/>
<polyline points="125.7,35.4 146.2,43.3"/>
<polyline points="123.5,41.0 144.1,48.9"/>
<polyline points="121.4,46.6 141.9,54.5"/>
<polyline points="119.2,52.2 139.8,60.1"/>
<polyline points="117.1,57.8 137.6,65.7"/>
<polyline points="114.9,63.4 135.5,71.3"/>
<polyline points="112.8,69.0 133.3,76.9"/>
<polyline points="110.6,74.6 131.2,82.5"/>
<polyline points="108.5,80.2 129.0,88.1"/>
<polyline points="106.3,85.8 126.9,93.7"/>
<polyline points="104.2,91.4 124.7,99.3"/>
<polyline points="102.0,97.0 122.6,104.9"/>
<polyline points="99.9,102.6 120.4,110.5"/>
<polyline points="97.7,108.2 118.3,116.1"/>
<polyline points="95.6,113.8 116.1,121.7"/>
<polyline points="93.4,119.4 114.0,127.3"/>
<polyline points="91.3,125.0 111.8,132.9"/>
<polyline points="89.1,130.6 109.7,138.5"/>
<polyline points="87.0,136.2 107.5,144.1"/>
<polyline points="84.8,141.8 105.4,149.7"/>
<polyline points="82.7,147.4 103.2,155.3"/>
<polyline points="80.5,153.0 101.1,160.9"/>
<polyline points="78.4,158.6 98.9,166.5"/>
<polyline points="76.2,164.2 96.7,172.1"/>
<polyline points="74.1,169.8 94.6,177.7"/>
<polyline points="71.9,175.4 92.4,183.3"/>
<polyline points="154.3,22.3 167.8,27.5"/>
<polyline points="152.1,27.9 165.7,33.1"/>
<polyline points="150.0,33.5 163.5,38.7"/>
<polyline points="147.8,39.1 161.4,44.3"/>
<polyline points="145.7,44.7 159.2,49.9"/>
<polyline points="143.5,50.3 157.1,55.5"/>
<polyline points="141.4,55.9 154.9,61.1"/>
<polyline points="139.2,61.5 152.8,66.7"/>
<polyline points="137.1,67.1 150.6,72.3"/>
<polyline points="134.9,72.7 148.5,77.9"/>
<polyline points="132.8,78.3 146.3,83.5"/>
<polyline points="130.6,83.9 144.2,89.1"/>
<polyline points="128.5,89.5 142.0,94.7"/>
<polyline points="126.3,95.1 139.9,100.3"/>
<polyline points="124.2,100.7 137.7,105.9"/>
<polyline points="122.0,106.3 135.6,111.5"/>
<polyline points="119.9,111.9 133.4,117.1"/>
<polyline points="117.7,117.5 131.3,122.7"/>
<polyline points="115.6,123.1 129.1,128.3"/>
<polyline points="113.4,128.7 127.0,133.9"/>
<polyline points="111.3,134.3 124.8,139.5"/>
<polyline points="109.1,139.9 122.7,145.1"/>
<polyline points="107.0,145.5 120.5,150.7"/>
<polyline points="104.8,151.1 118.4,156.3"/>
<polyline points="102.7,156.7 116.2,161.9"/>
<polyline points="100.5,162.3 114.0,167.5"/>
<polyline points="98.4,167.9 111.9,173.1"/>
<polyline points="96.2,173.5 109.7,178.7"/>
<polyline points="94.1,179.1 107.6,184.3"/>
<polyline points="91.9,184.7 105.4,189.9"/>
<polyline points="167.0,29.6 181.2,35.1"/>
<polyline points="164.8,35.2 179.0,40.7"/>
<polyline points="162.7,40.8 176.9,46.3"/>
<polyline points="160.5,46.4 174.7,51.9"/>
<polyline points="158.4,52.0 172.6,57.5"/>
<polyline points="156.2,57.6 170.4,63.1"/>
<polyline points="154.1,63.2 168.3,68.7"/>
<polyline points="151.9,68.8 166.1,74.3"/>
<polyline points="149.8,74.4 164.0,79.9"/>
<polyline points="147.6,80.0 161.8,85.5"/>
<polyline points="145.5,85.6 159.7,91.1"/>
<polyline points="143.3,91.2 157.5,96.7"/>
<polyline points="141.2,96.8 155.4,102.3"/>
<polyline points="139.0,102.4 153.2,107.9"/>
<polyline points="136.9,108.0 151.1,113.5"/>
<polyline points="134.7,113.6 148.9,119.1"/>
<polyline points="132.6,119.2 146.8,124.7"/>
<polyline points="130.4,124.8 144.6,130.3"/>
<polyline points="128.3,130.4 142.5,135.9"/>
<polyline points="126.1,136.0 140.3,141.5"/>
<polyline points="124.0,141.6 138.2,147.1"/>
<polyline points="121.8,147.2 136.0,152.7"/>
<polyline points="119.7,152.8 133.9,158.3"/>
<polyline points="117.5,158.4 131.7,163.9"/>
<polyline points="115.4,164.0 129.6,169.5"/>
<polyline points="113.2,169.6 127.4,175.1"/>
<polyline points="111.1,175.2 125.3,180.7"/>
<polyline points="108.9,180.8 123.1,186.3"/>
<polyline points="106.8,186.4 121.0,191.9"/>
<polyline points="104.6,192.0 118.8,197.5"/>
<polyline points="182.2,32.3 194.2,36.8"/>
<polyline points="180.1,37.9 192.0,42.4"/>
<polyline points="177.9,43.5 189.9,48.0"/>
<polyline points="175.8,49.1 187.7,53.6"/>
<polyline points="173.6,54.7 185.6,59.2"/>
<polyline points="171.5,60.3 183.4,64.8"/>
<polyline points="169.3,65.9 181.3,70.4"/>
<polyline points="167.2,71.5 179.1,76.1"/>
<polyline points="165.0,77.1 177.0,81.7"/>
<polyline points="162.9,82.7 174.8,87.3"/>
<polyline points="160.7,88.3 172.7,92.9"/>
<polyline points="158.6,93.9 170.5,98.5"/>
<polyline points="156.4,99.5 168.4,104.1"/>
<polyline points="154.3,105.1 166.2,109.7"/>
<polyline points="152.1,110.7 164.1,115.3"/>
<polyline points="150.0,116.3 161.9,120.9"/>
<polyline points="147.8,121.9 159.8,126.5"/>
<polyline points="145.7,127.5 157.6,132.1"/>
<polyline points="143.5,133.1 155.5,137.7"/>
<polyline points="141.4,138.7 153.3,143.3"/>
<polyline points="139.2,144.3 151.2,148.9"/>
<polyline points="137.1,149.9 149.0,154.5"/>
<polyline points="134.9,155.5 146.9,160.1"/>
<polyline points="132.8,161.1 144.7,165.7"/>
<polyline points="130.6,166.7 142.6,171.3"/>
<polyline points="128.5,172.3 140.4,176.9"/>
<polyline points="126.3,177.9 138.3,182.5"/>
<polyline points="124.2,183.5 136.1,188.1"/>
<polyline points="122.0,189.1 134.0,193.7"/>
<polyline points="119.9,194.7 131.8,199.3"/>
<polyline points="193.3,39.1 205.0,43.6"/>
<polyline points="191.2,44.7 202.9,49.2"/>
<polyline points="189.0,50.3 200.7,54.8"/>
<polyline points="186.9,55.9 198.6,60.4"/>
<polyline points="184.7,61.5 196.4,66.0"/>
<polyline points="182.6,67.1 194.3,71.6"/>
<polyline points="180.4,72.7 192.1,77.2"/>
<polyline points="178.3,78.3 190.0,82.8"/>
<polyline points="176.1,83.9 187.8,88.4"/>
<polyline points="174.0,89.5 185.7,94.0"/>
<polyline points="171.8,95.1 183.5,99.6"/>
<polyline points="169.7,100.7 181.4,105.2"/>
<polyline points="167.5,106.3 179.2,110.8"/>
<polyline points="165.4,111.9 177.1,116.4"/>
<polyline points="163.2,117.5 174.9,122.0"/>
<polyline points="161.1,123.1 172.8,127.6"/>
<polyline points="158.9,128.7 170.6,133.2"/>
<polyline points="156.8,134.3 168.5,138.8"/>
<polyline points="154.6,139.9 166.3,144.4"/>
<polyline points="152.5,145.5 164.2,150.0"/>
<polyline points="150.3,151.1 162.0,155.6"/>
<polyline points="148.2,156.7 159.9,161.2"/>
<polyline points="146.0,162.3 157.7,166.8"/>
<polyline points="143.9,167.9 155.6,172.4"/>
<polyline points="141.7,173.5 153.4,178.0"/>
<polyline points="139.6,179.1 151.3,183.6"/>
<polyline points="137.4,184.7 149.1,189.2"/>
<polyline points="135.3,190.3 147.0,194.8"/>
<polyline points="133.1,195.9 144.8,200.4"/>
<polyline points="131.0,201.5 142.6,206.0"/>
<polyline points="205.8,41.5 219.8,46.9"/>
<polyline points="203.6,47.1 217.6,52.5"/>
<polyline points="201.5,52.7 215.5,58.1"/>
<polyline points="199.3,58.3 213.3,63.7"/>
<polyline points="197.2,63.9 211.2,69.3"/>
<polyline points="195.0,69.5 209.0,74.9"/>
<polyline points="192.9,75.1 206.9,80.5"/>
<polyline points="190.7,80.7 204.7,86.1"/>
<polyline points="188.6,86.3 202.6,91.7"/>
<polyline points="186.4,91.9 200.4,97.3"/>
<polyline points="184.3,97.5 198.3,102.9"/>
<polyline points="182.1,103.1 196.1,108.5"/>
<polyline points="180.0,108.7 194.0,114.1"/>
<polyline points="177.8,114.3 191.8,119.7"/>
<polyline points="175.7,119.9 189.7,125.3"/>
<polyline points="173.5,125.5 187.5,130.9"/>
<polyline points="171.4,131.1 185.4,136.5"/>
<polyline points="169.2,136.7 183.2,142.1"/>
<polyline points="167.1,142.3 181.1,147.7"/>
<polyline points="164.9,147.9 178.9,153.3"/>
<polyline points="162.8,153.5 176.8,158.9"/>
<polyline points="160.6,159.1 174.6,164.5"/>
<polyline points="158.5,164.7 172.5,170.1"/>
<polyline points="156.3,170.3 170.3,175.7"/>
<polyline points="154.2,175.9 168.2,181.3"/>
<polyline points="152.0,181.5 166.0,186.9"/>
<polyline points="149.9,187.1 163.9,192.5"/>
<polyline points="147.7,192.7 161.7,198.1"/>
<polyline points="145.6,198.3 159.6,203.7"/>
<polyline points="143.4,203.9 157.4,209.3"/>
<polyline points="218.9,49.2 235.7,55.7"/>
<polyline points="216.8,54.8 233.6,61.3"/>
<polyline points="214.6,60.4 231.4,66.9"/>
<polyline points="212.5,66.0 229.3,72.5"/>
<polyline points="210.3,71.6 227.1,78.1"/>
<polyline points="208.2,77.2 225.0,83.7"/>
<polyline points="206.0,82.8 222.8,89.3"/>
<polyline points="203.9,88.4 220.7,94.9"/>
<polyline points="201.7,94.0 218.5,100.5"/>
<polyline points="199.5,99.6 216.4,106.1"/>
<polyline points="197.4,105.2 214.2,111.7"/>
<polyline points="195.2,110.8 212.1,117.3"/>
<polyline points="193.1,116.4 209.9,122.9"/>
<polyline points="190.9,122.0 207.8,128.5"/>
<polyline points="188.8,127.6 205.6,134.1"/>
<polyline points="186.6,133.2 203.5,139.7"/>
<polyline points="184.5,138.8 201.3,145.3"/>
<polyline points="182.3,144.4 199.2,150.9"/>
<polyline points="180.2,150.0 197.0,156.5"/>
<polyline points="178.0,155.6 194.9,162.1"/>
<polyline points="175.9,161.2 192.7,167.7"/>
<polyline points="173.7,166.8 190.6,173.3"/>
<polyline points="171.6,172.4 188.4,178.9"/>
<polyline points="169.4,178.1 186.3,184.5"/>
<polyline points="167.3,183.7 184.1,190.1"/>
<polyline points="165.1,189.3 182.0,195.7"/>
<polyline points="163.0,194.9 179.8,201.3"/>
<polyline points="160.8,200.5 177.7,206.9"/>
<polyline points="158.7,206.1 175.5,212.5"/>
<polyline points="156.5,211.7 173.4,218.1"/>
<polyline points="169.8,22.3 83.8,246.4"/>
<polyline points="195.9,32.4 109.9,256.4"/>
<polyline points="221.6,42.2 135.6,266.3"/>
</g></g>
<g fill="none" stroke-linecap="round" stroke-linejoin="round">
<polyline points="147.8,46.2 92.3,183.0" stroke="#b9b9a8" stroke-width="5.4"/>
<polyline points="176.0,52.0 125.0,184.0" stroke="#b9b9a8" stroke-width="5.4"/>
<polyline points="190.0,80.0 153.0,178.0" stroke="#b9b9a8" stroke-width="5.4"/>
<polyline points="155.8,47.8 184.0,60.5" stroke="#b9b9a8" stroke-width="5.4"/>
<polyline points="127.2,106.0 177.0,124.5" stroke="#b9b9a8" stroke-width="5.4"/>
<polyline points="106.5,156.8 154.2,177.5 165.0,184.0" stroke="#b9b9a8" stroke-width="5.4"/>
<polyline points="4.8,94.5 62.0,103.3" stroke="#b9b9a8" stroke-width="5.4"/>
<polyline points="0.0,120.3 51.5,129.9 92.7,137.8 108.0,140.5" stroke="#b9b9a8" stroke-width="5.4"/>
<polyline points="0.0,139.5 33.0,184.0" stroke="#b9b9a8" stroke-width="5.4"/>
<polyline points="67.5,89.2 57.5,117.0 52.0,129.0" stroke="#b9b9a8" stroke-width="5.4"/>
<polyline points="149.0,3.0 142.2,23.5" stroke="#b9b9a8" stroke-width="5.4"/>
<polyline points="138.0,2.2 160.0,4.5 184.0,8.0" stroke="#b9b9a8" stroke-width="5.4"/>
<polyline points="147.8,46.2 92.3,183.0" stroke="#ececec" stroke-width="4.2"/>
<polyline points="176.0,52.0 125.0,184.0" stroke="#ececec" stroke-width="4.2"/>
<polyline points="190.0,80.0 153.0,178.0" stroke="#ececec" stroke-width="4.2"/>
<polyline points="155.8,47.8 184.0,60.5" stroke="#ececec" stroke-width="4.2"/>
<polyline points="127.2,106.0 177.0,124.5" stroke="#ececec" stroke-width="4.2"/>
<polyline points="106.5,156.8 154.2,177.5 165.0,184.0" stroke="#ececec" stroke-width="4.2"/>
<polyline points="4.8,94.5 62.0,103.3" stroke="#ececec" stroke-width="4.2"/>
<polyline points="0.0,120.3 51.5,129.9 92.7,137.8 108.0,140.5" stroke="#ececec" stroke-width="4.2"/>
<polyline points="0.0,139.5 33.0,184.0" stroke="#ececec" stroke-width="4.2"/>
<polyline points="67.5,89.2 57.5,117.0 52.0,129.0" stroke="#ececec" stroke-width="4.2"/>
<polyline points="149.0,3.0 142.2,23.5" stroke="#ececec" stroke-width="4.2"/>
<polyline points="138.0,2.2 160.0,4.5 184.0,8.0" stroke="#ececec" stroke-width="4.2"/>
</g>
<path d="M79.4,59.6 L97,51.9 L112,47.3 L118.6,46.6 L129,48 L95.6,136.9 L54.3,128.7 Z" fill="#fbc86a" stroke="#1a1a1a" stroke-width="1.6" stroke-linejoin="round"/>
<g fill="none" stroke="#8f8270" stroke-width="0.55" stroke-linejoin="round">
<polygon points="112,50.2 120.6,54.5 121.9,59.1 115.3,76.1 104.2,72.2"/>
<line x1="108" y1="61" x2="117.3" y2="53.2"/><line x1="104.8" y1="71.5" x2="120.6" y2="57.1"/><line x1="110.1" y1="74.8" x2="121.2" y2="61.7"/>
<path d="M83,61.5 l1.5,-2.6 l2.4,0.6 l-0.4,2.6 z M94,58.5 l3.4,-3 l3,1.4 l-3.4,3 z"/>
<path d="M97.5,89.5 l3,0.6 l-1,4.6 l-3,-0.6 z"/>
<path d="M89.5,97.8 l9.6,3 l-1.6,5.2 l-9.6,-3 z M91,104 l3,-5 M94.5,105 l3,-5"/>
</g>
<g stroke="#3f9be8" stroke-width="1" stroke-opacity="0.8"><line x1="52.3" y1="0" x2="52.3" y2="184"/><line x1="126.5" y1="0" x2="126.5" y2="184"/><line x1="0" y1="43.5" x2="184" y2="43.5"/><line x1="0" y1="117.5" x2="184" y2="117.5"/></g>
<text x="1.5" y="7.3" font-size="7" letter-spacing="0.25" fill="#1e1e1e" stroke="#1e1e1e" stroke-width="0.15" font-family="Liberation Sans">TMQ - 2023-02-24</text>
<text x="182.8" y="6.9" font-size="6" font-weight="bold" text-anchor="end" letter-spacing="0.8" fill="#1a1a1a" font-family="Liberation Sans">V 7.0</text>
<text x="173.3" y="18.4" font-size="13" font-weight="bold" text-anchor="middle" fill="#000" font-family="Liberation Sans">N</text>
<path d="M173.3,19.3 L170,24.2 L172,24.2 L172,30.5 L174.6,30.5 L174.6,24.2 L176.6,24.2 Z" fill="#000"/>
<text x="2.3" y="116.2" font-size="6.6" font-weight="bold" letter-spacing="0.7" fill="#3a97e8" font-family="Liberation Sans">9975000</text>
<text x="53.5" y="180.8" font-size="6.6" font-weight="bold" letter-spacing="0.75" fill="#3a97e8" font-family="Liberation Sans">506000</text>
<text x="182.9" y="181" font-size="6.6" font-weight="bold" letter-spacing="0.55" text-anchor="end" fill="#3a97e8" font-family="Liberation Sans">Escala 1:7500</text>
</svg><div class="frame"></div></div>
<div class="hd" style="left:331px;top:416px"><div style="position:relative;top:-0.6px">SISTEMA NACIONAL DE ÁREAS<br>PROTEGIDAS</div></div>
<div class="map" style="left:331px;top:438px"><svg width="184" height="184" viewBox="0 0 184 184">
<defs><clipPath id="gc8"><polygon points="128.6,47.4 146.2,45.0 156.6,47.6 166.9,49.6 184.0,37.2 184.0,184.0 92.0,184.0 108.0,140.5 95.1,136.8"/></clipPath></defs>
<rect width="184" height="184" fill="#f2f2cb"/>
<polygon points="0.0,57.0 14.2,54.8 25.3,55.3 35.3,59.2 50.8,54.8 67.5,52.0 75.9,44.5 92.5,43.0 103.4,37.5 125.6,33.5 139.9,28.0 142.4,25.5 147.5,27.0 162.0,29.2 169.4,24.8 171.0,8.8 184.0,8.5 184.0,37.2 166.9,49.6 156.6,47.6 146.2,45.0 128.6,47.4 111.2,47.1 96.0,51.0 79.5,59.1 62.0,65.9 49.2,71.8 45.3,77.7 21.7,74.8 12.8,73.8 0.0,89.0" fill="#ececec" stroke="#b4b4a4" stroke-width="0.6"/>
<g fill="#f8f8b6"><polygon points="121.5,77 128.5,79.5 126.5,85 119.5,82.5"/><polygon points="160,159 168,162 165.5,168.5 157.5,165.5"/></g>
<g fill="none" stroke="#74745f" stroke-width="0.6">
<polyline points="0.8,7.6 97.7,24.1"/>
<polyline points="103.0,0.0 95.5,42.0"/>
<polyline points="109.9,0.0 109.1,7.6"/>
<polyline points="116.5,0.0 115.7,8.7"/>
<polyline points="122.3,0.0 121.5,9.6"/>
<polyline points="128.2,0.0 127.4,10.6"/>
<polyline points="134.7,0.0 133.9,11.7"/>
<polyline points="103.7,6.6 134.3,11.7"/>
<polyline points="148.0,5.5 171.0,8.8"/>
<polyline points="147.0,12.4 156.5,13.0"/>
<polyline points="146.0,18.2 156.0,19.0"/>
<polyline points="157.1,6.0 154.3,28.0"/>
<polyline points="162.9,6.0 160.1,28.0"/>
<polyline points="168.9,6.0 166.1,28.0"/>
<polyline points="21.4,75.3 18.1,93.7"/>
<polyline points="35.3,77.0 31.4,96.4"/>
<polyline points="48.1,75.3 44.2,98.1"/>
<polyline points="49.7,74.8 67.5,80.3"/>
<polyline points="47.5,82.0 67.5,87.0"/>
<polyline points="62.0,66.0 72.0,70.0"/>
<polyline points="19.7,96.5 15.0,121.1"/>
<polyline points="8.6,96.4 5.3,120.0"/>
<polyline points="32.4,98.1 26.9,123.5"/>
<polyline points="45.1,99.7 40.4,125.9"/>
<polyline points="49.9,133.0 39.6,156.8 92.7,168.0 110.0,171.0"/>
<polyline points="64.2,134.6 53.1,160.0"/>
<polyline points="78.5,136.2 68.9,163.2"/>
<polyline points="92.7,139.0 85.0,166.0"/>
<polyline points="53.1,160.0 49.9,184.0"/>
<polyline points="68.9,163.0 64.0,184.0"/>
<polyline points="85.0,166.0 80.0,184.0"/>
<polyline points="0.0,156.4 7.9,157.4"/>
<polyline points="7.9,157.4 3.9,166.3 7.9,173.2 15.7,184.0"/>
<polyline points="0.0,164.3 3.9,166.3"/>
<polyline points="7.4,171.2 14.8,165.3"/>
<polyline points="12.8,177.1 20.7,171.2"/>
<polyline points="18.7,183.0 25.6,178.1"/>
<g clip-path="url(#gc8)">
<polyline points="134.3,13.0 154.8,20.9"/>
<polyline points="132.1,18.6 152.7,26.5"/>
<polyline points="130.0,24.2 150.5,32.1"/>
<polyline points="127.8,29.8 148.4,37.7"/>
<polyline points="125.7,35.4 146.2,43.3"/>
<polyline points="123.5,41.0 144.1,48.9"/>
<polyline points="121.4,46.6 141.9,54.5"/>
<polyline points="119.2,52.2 139.8,60.1"/>
<polyline points="117.1,57.8 137.6,65.7"/>
<polyline points="114.9,63.4 135.5,71.3"/>
<polyline points="112.8,69.0 133.3,76.9"/>
<polyline points="110.6,74.6 131.2,82.5"/>
<polyline points="108.5,80.2 129.0,88.1"/>
<polyline points="106.3,85.8 126.9,93.7"/>
<polyline points="104.2,91.4 124.7,99.3"/>
<polyline points="102.0,97.0 122.6,104.9"/>
<polyline points="99.9,102.6 120.4,110.5"/>
<polyline points="97.7,108.2 118.3,116.1"/>
<polyline points="95.6,113.8 116.1,121.7"/>
<polyline points="93.4,119.4 114.0,127.3"/>
<polyline points="91.3,125.0 111.8,132.9"/>
<polyline points="89.1,130.6 109.7,138.5"/>
<polyline points="87.0,136.2 107.5,144.1"/>
<polyline points="84.8,141.8 105.4,149.7"/>
<polyline points="82.7,147.4 103.2,155.3"/>
<polyline points="80.5,153.0 101.1,160.9"/>
<polyline points="78.4,158.6 98.9,166.5"/>
<polyline points="76.2,164.2 96.7,172.1"/>
<polyline points="74.1,169.8 94.6,177.7"/>
<polyline points="71.9,175.4 92.4,183.3"/>
<polyline points="154.3,22.3 167.8,27.5"/>
<polyline points="152.1,27.9 165.7,33.1"/>
<polyline points="150.0,33.5 163.5,38.7"/>
<polyline points="147.8,39.1 161.4,44.3"/>
<polyline points="145.7,44.7 159.2,49.9"/>
<polyline points="143.5,50.3 157.1,55.5"/>
<polyline points="141.4,55.9 154.9,61.1"/>
<polyline points="139.2,61.5 152.8,66.7"/>
<polyline points="137.1,67.1 150.6,72.3"/>
<polyline points="134.9,72.7 148.5,77.9"/>
<polyline points="132.8,78.3 146.3,83.5"/>
<polyline points="130.6,83.9 144.2,89.1"/>
<polyline points="128.5,89.5 142.0,94.7"/>
<polyline points="126.3,95.1 139.9,100.3"/>
<polyline points="124.2,100.7 137.7,105.9"/>
<polyline points="122.0,106.3 135.6,111.5"/>
<polyline points="119.9,111.9 133.4,117.1"/>
<polyline points="117.7,117.5 131.3,122.7"/>
<polyline points="115.6,123.1 129.1,128.3"/>
<polyline points="113.4,128.7 127.0,133.9"/>
<polyline points="111.3,134.3 124.8,139.5"/>
<polyline points="109.1,139.9 122.7,145.1"/>
<polyline points="107.0,145.5 120.5,150.7"/>
<polyline points="104.8,151.1 118.4,156.3"/>
<polyline points="102.7,156.7 116.2,161.9"/>
<polyline points="100.5,162.3 114.0,167.5"/>
<polyline points="98.4,167.9 111.9,173.1"/>
<polyline points="96.2,173.5 109.7,178.7"/>
<polyline points="94.1,179.1 107.6,184.3"/>
<polyline points="91.9,184.7 105.4,189.9"/>
<polyline points="167.0,29.6 181.2,35.1"/>
<polyline points="164.8,35.2 179.0,40.7"/>
<polyline points="162.7,40.8 176.9,46.3"/>
<polyline points="160.5,46.4 174.7,51.9"/>
<polyline points="158.4,52.0 172.6,57.5"/>
<polyline points="156.2,57.6 170.4,63.1"/>
<polyline points="154.1,63.2 168.3,68.7"/>
<polyline points="151.9,68.8 166.1,74.3"/>
<polyline points="149.8,74.4 164.0,79.9"/>
<polyline points="147.6,80.0 161.8,85.5"/>
<polyline points="145.5,85.6 159.7,91.1"/>
<polyline points="143.3,91.2 157.5,96.7"/>
<polyline points="141.2,96.8 155.4,102.3"/>
<polyline points="139.0,102.4 153.2,107.9"/>
<polyline points="136.9,108.0 151.1,113.5"/>
<polyline points="134.7,113.6 148.9,119.1"/>
<polyline points="132.6,119.2 146.8,124.7"/>
<polyline points="130.4,124.8 144.6,130.3"/>
<polyline points="128.3,130.4 142.5,135.9"/>
<polyline points="126.1,136.0 140.3,141.5"/>
<polyline points="124.0,141.6 138.2,147.1"/>
<polyline points="121.8,147.2 136.0,152.7"/>
<polyline points="119.7,152.8 133.9,158.3"/>
<polyline points="117.5,158.4 131.7,163.9"/>
<polyline points="115.4,164.0 129.6,169.5"/>
<polyline points="113.2,169.6 127.4,175.1"/>
<polyline points="111.1,175.2 125.3,180.7"/>
<polyline points="108.9,180.8 123.1,186.3"/>
<polyline points="106.8,186.4 121.0,191.9"/>
<polyline points="104.6,192.0 118.8,197.5"/>
<polyline points="182.2,32.3 194.2,36.8"/>
<polyline points="180.1,37.9 192.0,42.4"/>
<polyline points="177.9,43.5 189.9,48.0"/>
<polyline points="175.8,49.1 187.7,53.6"/>
<polyline points="173.6,54.7 185.6,59.2"/>
<polyline points="171.5,60.3 183.4,64.8"/>
<polyline points="169.3,65.9 181.3,70.4"/>
<polyline points="167.2,71.5 179.1,76.1"/>
<polyline points="165.0,77.1 177.0,81.7"/>
<polyline points="162.9,82.7 174.8,87.3"/>
<polyline points="160.7,88.3 172.7,92.9"/>
<polyline points="158.6,93.9 170.5,98.5"/>
<polyline points="156.4,99.5 168.4,104.1"/>
<polyline points="154.3,105.1 166.2,109.7"/>
<polyline points="152.1,110.7 164.1,115.3"/>
<polyline points="150.0,116.3 161.9,120.9"/>
<polyline points="147.8,121.9 159.8,126.5"/>
<polyline points="145.7,127.5 157.6,132.1"/>
<polyline points="143.5,133.1 155.5,137.7"/>
<polyline points="141.4,138.7 153.3,143.3"/>
<polyline points="139.2,144.3 151.2,148.9"/>
<polyline points="137.1,149.9 149.0,154.5"/>
<polyline points="134.9,155.5 146.9,160.1"/>
<polyline points="132.8,161.1 144.7,165.7"/>
<polyline points="130.6,166.7 142.6,171.3"/>
<polyline points="128.5,172.3 140.4,176.9"/>
<polyline points="126.3,177.9 138.3,182.5"/>
<polyline points="124.2,183.5 136.1,188.1"/>
<polyline points="122.0,189.1 134.0,193.7"/>
<polyline points="119.9,194.7 131.8,199.3"/>
<polyline points="193.3,39.1 205.0,43.6"/>
<polyline points="191.2,44.7 202.9,49.2"/>
<polyline points="189.0,50.3 200.7,54.8"/>
<polyline points="186.9,55.9 198.6,60.4"/>
<polyline points="184.7,61.5 196.4,66.0"/>
<polyline points="182.6,67.1 194.3,71.6"/>
<polyline points="180.4,72.7 192.1,77.2"/>
<polyline points="178.3,78.3 190.0,82.8"/>
<polyline points="176.1,83.9 187.8,88.4"/>
<polyline points="174.0,89.5 185.7,94.0"/>
<polyline points="171.8,95.1 183.5,99.6"/>
<polyline points="169.7,100.7 181.4,105.2"/>
<polyline points="167.5,106.3 179.2,110.8"/>
<polyline points="165.4,111.9 177.1,116.4"/>
<polyline points="163.2,117.5 174.9,122.0"/>
<polyline points="161.1,123.1 172.8,127.6"/>
<polyline points="158.9,128.7 170.6,133.2"/>
<polyline points="156.8,134.3 168.5,138.8"/>
<polyline points="154.6,139.9 166.3,144.4"/>
<polyline points="152.5,145.5 164.2,150.0"/>
<polyline points="150.3,151.1 162.0,155.6"/>
<polyline points="148.2,156.7 159.9,161.2"/>
<polyline points="146.0,162.3 157.7,166.8"/>
<polyline points="143.9,167.9 155.6,172.4"/>
<polyline points="141.7,173.5 153.4,178.0"/>
<polyline points="139.6,179.1 151.3,183.6"/>
<polyline points="137.4,184.7 149.1,189.2"/>
<polyline points="135.3,190.3 147.0,194.8"/>
<polyline points="133.1,195.9 144.8,200.4"/>
<polyline points="131.0,201.5 142.6,206.0"/>
<polyline points="205.8,41.5 219.8,46.9"/>
<polyline points="203.6,47.1 217.6,52.5"/>
<polyline points="201.5,52.7 215.5,58.1"/>
<polyline points="199.3,58.3 213.3,63.7"/>
<polyline points="197.2,63.9 211.2,69.3"/>
<polyline points="195.0,69.5 209.0,74.9"/>
<polyline points="192.9,75.1 206.9,80.5"/>
<polyline points="190.7,80.7 204.7,86.1"/>
<polyline points="188.6,86.3 202.6,91.7"/>
<polyline points="186.4,91.9 200.4,97.3"/>
<polyline points="184.3,97.5 198.3,102.9"/>
<polyline points="182.1,103.1 196.1,108.5"/>
<polyline points="180.0,108.7 194.0,114.1"/>
<polyline points="177.8,114.3 191.8,119.7"/>
<polyline points="175.7,119.9 189.7,125.3"/>
<polyline points="173.5,125.5 187.5,130.9"/>
<polyline points="171.4,131.1 185.4,136.5"/>
<polyline points="169.2,136.7 183.2,142.1"/>
<polyline points="167.1,142.3 181.1,147.7"/>
<polyline points="164.9,147.9 178.9,153.3"/>
<polyline points="162.8,153.5 176.8,158.9"/>
<polyline points="160.6,159.1 174.6,164.5"/>
<polyline points="158.5,164.7 172.5,170.1"/>
<polyline points="156.3,170.3 170.3,175.7"/>
<polyline points="154.2,175.9 168.2,181.3"/>
<polyline points="152.0,181.5 166.0,186.9"/>
<polyline points="149.9,187.1 163.9,192.5"/>
<polyline points="147.7,192.7 161.7,198.1"/>
<polyline points="145.6,198.3 159.6,203.7"/>
<polyline points="143.4,203.9 157.4,209.3"/>
<polyline points="218.9,49.2 235.7,55.7"/>
<polyline points="216.8,54.8 233.6,61.3"/>
<polyline points="214.6,60.4 231.4,66.9"/>
<polyline points="212.5,66.0 229.3,72.5"/>
<polyline points="210.3,71.6 227.1,78.1"/>
<polyline points="208.2,77.2 225.0,83.7"/>
<polyline points="206.0,82.8 222.8,89.3"/>
<polyline points="203.9,88.4 220.7,94.9"/>
<polyline points="201.7,94.0 218.5,100.5"/>
<polyline points="199.5,99.6 216.4,106.1"/>
<polyline points="197.4,105.2 214.2,111.7"/>
<polyline points="195.2,110.8 212.1,117.3"/>
<polyline points="193.1,116.4 209.9,122.9"/>
<polyline points="190.9,122.0 207.8,128.5"/>
<polyline points="188.8,127.6 205.6,134.1"/>
<polyline points="186.6,133.2 203.5,139.7"/>
<polyline points="184.5,138.8 201.3,145.3"/>
<polyline points="182.3,144.4 199.2,150.9"/>
<polyline points="180.2,150.0 197.0,156.5"/>
<polyline points="178.0,155.6 194.9,162.1"/>
<polyline points="175.9,161.2 192.7,167.7"/>
<polyline points="173.7,166.8 190.6,173.3"/>
<polyline points="171.6,172.4 188.4,178.9"/>
<polyline points="169.4,178.1 186.3,184.5"/>
<polyline points="167.3,183.7 184.1,190.1"/>
<polyline points="165.1,189.3 182.0,195.7"/>
<polyline points="163.0,194.9 179.8,201.3"/>
<polyline points="160.8,200.5 177.7,206.9"/>
<polyline points="158.7,206.1 175.5,212.5"/>
<polyline points="156.5,211.7 173.4,218.1"/>
<polyline points="169.8,22.3 83.8,246.4"/>
<polyline points="195.9,32.4 109.9,256.4"/>
<polyline points="221.6,42.2 135.6,266.3"/>
</g></g>
<g fill="none" stroke-linecap="round" stroke-linejoin="round">
<polyline points="147.8,46.2 92.3,183.0" stroke="#b9b9a8" stroke-width="5.4"/>
<polyline points="176.0,52.0 125.0,184.0" stroke="#b9b9a8" stroke-width="5.4"/>
<polyline points="190.0,80.0 153.0,178.0" stroke="#b9b9a8" stroke-width="5.4"/>
<polyline points="155.8,47.8 184.0,60.5" stroke="#b9b9a8" stroke-width="5.4"/>
<polyline points="127.2,106.0 177.0,124.5" stroke="#b9b9a8" stroke-width="5.4"/>
<polyline points="106.5,156.8 154.2,177.5 165.0,184.0" stroke="#b9b9a8" stroke-width="5.4"/>
<polyline points="4.8,94.5 62.0,103.3" stroke="#b9b9a8" stroke-width="5.4"/>
<polyline points="0.0,120.3 51.5,129.9 92.7,137.8 108.0,140.5" stroke="#b9b9a8" stroke-width="5.4"/>
<polyline points="0.0,139.5 33.0,184.0" stroke="#b9b9a8" stroke-width="5.4"/>
<polyline points="67.5,89.2 57.5,117.0 52.0,129.0" stroke="#b9b9a8" stroke-width="5.4"/>
<polyline points="149.0,3.0 142.2,23.5" stroke="#b9b9a8" stroke-width="5.4"/>
<polyline points="138.0,2.2 160.0,4.5 184.0,8.0" stroke="#b9b9a8" stroke-width="5.4"/>
<polyline points="147.8,46.2 92.3,183.0" stroke="#ececec" stroke-width="4.2"/>
<polyline points="176.0,52.0 125.0,184.0" stroke="#ececec" stroke-width="4.2"/>
<polyline points="190.0,80.0 153.0,178.0" stroke="#ececec" stroke-width="4.2"/>
<polyline points="155.8,47.8 184.0,60.5" stroke="#ececec" stroke-width="4.2"/>
<polyline points="127.2,106.0 177.0,124.5" stroke="#ececec" stroke-width="4.2"/>
<polyline points="106.5,156.8 154.2,177.5 165.0,184.0" stroke="#ececec" stroke-width="4.2"/>
<polyline points="4.8,94.5 62.0,103.3" stroke="#ececec" stroke-width="4.2"/>
<polyline points="0.0,120.3 51.5,129.9 92.7,137.8 108.0,140.5" stroke="#ececec" stroke-width="4.2"/>
<polyline points="0.0,139.5 33.0,184.0" stroke="#ececec" stroke-width="4.2"/>
<polyline points="67.5,89.2 57.5,117.0 52.0,129.0" stroke="#ececec" stroke-width="4.2"/>
<polyline points="149.0,3.0 142.2,23.5" stroke="#ececec" stroke-width="4.2"/>
<polyline points="138.0,2.2 160.0,4.5 184.0,8.0" stroke="#ececec" stroke-width="4.2"/>
</g>
<path d="M79.4,59.6 L97,51.9 L112,47.3 L118.6,46.6 L129,48 L95.6,136.9 L54.3,128.7 Z" fill="#fbc86a" stroke="#1a1a1a" stroke-width="1.6" stroke-linejoin="round"/>
<g fill="none" stroke="#8f8270" stroke-width="0.55" stroke-linejoin="round">
<polygon points="112,50.2 120.6,54.5 121.9,59.1 115.3,76.1 104.2,72.2"/>
<line x1="108" y1="61" x2="117.3" y2="53.2"/><line x1="104.8" y1="71.5" x2="120.6" y2="57.1"/><line x1="110.1" y1="74.8" x2="121.2" y2="61.7"/>
<path d="M83,61.5 l1.5,-2.6 l2.4,0.6 l-0.4,2.6 z M94,58.5 l3.4,-3 l3,1.4 l-3.4,3 z"/>
<path d="M97.5,89.5 l3,0.6 l-1,4.6 l-3,-0.6 z"/>
<path d="M89.5,97.8 l9.6,3 l-1.6,5.2 l-9.6,-3 z M91,104 l3,-5 M94.5,105 l3,-5"/>
</g>
<g stroke="#3f9be8" stroke-width="1" stroke-opacity="0.8"><line x1="52.3" y1="0" x2="52.3" y2="184"/><line x1="126.5" y1="0" x2="126.5" y2="184"/><line x1="0" y1="43.5" x2="184" y2="43.5"/><line x1="0" y1="117.5" x2="184" y2="117.5"/></g>
<text x="1.5" y="7.3" font-size="7" letter-spacing="0.25" fill="#1e1e1e" stroke="#1e1e1e" stroke-width="0.15" font-family="Liberation Sans">TMQ - 2023-02-24</text>
<text x="182.8" y="6.9" font-size="6" font-weight="bold" text-anchor="end" letter-spacing="0.8" fill="#1a1a1a" font-family="Liberation Sans">V 7.0</text>
<text x="173.3" y="18.4" font-size="13" font-weight="bold" text-anchor="middle" fill="#000" font-family="Liberation Sans">N</text>
<path d="M173.3,19.3 L170,24.2 L172,24.2 L172,30.5 L174.6,30.5 L174.6,24.2 L176.6,24.2 Z" fill="#000"/>
<text x="2.3" y="116.2" font-size="6.6" font-weight="bold" letter-spacing="0.7" fill="#3a97e8" font-family="Liberation Sans">9975000</text>
<text x="53.5" y="180.8" font-size="6.6" font-weight="bold" letter-spacing="0.75" fill="#3a97e8" font-family="Liberation Sans">506000</text>
<text x="182.9" y="181" font-size="6.6" font-weight="bold" letter-spacing="0.55" text-anchor="end" fill="#3a97e8" font-family="Liberation Sans">Escala 1:7500</text>
</svg><div class="frame"></div></div>
<div class="hd" style="left:557px;top:416px"><div style="position:relative;top:-0.6px">SUBSISTEMA METROPOLITANO DE ÁREAS<br>NATURALES PROTEGIDAS</div></div>
<div class="map" style="left:557px;top:438px"><svg width="184" height="184" viewBox="0 0 184 184">
<defs><clipPath id="gc9"><polygon points="128.6,47.4 146.2,45.0 156.6,47.6 166.9,49.6 184.0,37.2 184.0,184.0 92.0,184.0 108.0,140.5 95.1,136.8"/></clipPath></defs>
<rect width="184" height="184" fill="#f2f2cb"/>
<polygon points="0.0,57.0 14.2,54.8 25.3,55.3 35.3,59.2 50.8,54.8 67.5,52.0 75.9,44.5 92.5,43.0 103.4,37.5 125.6,33.5 139.9,28.0 142.4,25.5 147.5,27.0 162.0,29.2 169.4,24.8 171.0,8.8 184.0,8.5 184.0,37.2 166.9,49.6 156.6,47.6 146.2,45.0 128.6,47.4 111.2,47.1 96.0,51.0 79.5,59.1 62.0,65.9 49.2,71.8 45.3,77.7 21.7,74.8 12.8,73.8 0.0,89.0" fill="#ececec" stroke="#b4b4a4" stroke-width="0.6"/>
<g fill="#f8f8b6"><polygon points="121.5,77 128.5,79.5 126.5,85 119.5,82.5"/><polygon points="160,159 168,162 165.5,168.5 157.5,165.5"/></g>
<g fill="none" stroke="#74745f" stroke-width="0.6">
<polyline points="0.8,7.6 97.7,24.1"/>
<polyline points="103.0,0.0 95.5,42.0"/>
<polyline points="109.9,0.0 109.1,7.6"/>
<polyline points="116.5,0.0 115.7,8.7"/>
<polyline points="122.3,0.0 121.5,9.6"/>
<polyline points="128.2,0.0 127.4,10.6"/>
<polyline points="134.7,0.0 133.9,11.7"/>
<polyline points="103.7,6.6 134.3,11.7"/>
<polyline points="148.0,5.5 171.0,8.8"/>
<polyline points="147.0,12.4 156.5,13.0"/>
<polyline points="146.0,18.2 156.0,19.0"/>
<polyline points="157.1,6.0 154.3,28.0"/>
<polyline points="162.9,6.0 160.1,28.0"/>
<polyline points="168.9,6.0 166.1,28.0"/>
<polyline points="21.4,75.3 18.1,93.7"/>
<polyline points="35.3,77.0 31.4,96.4"/>
<polyline points="48.1,75.3 44.2,98.1"/>
<polyline points="49.7,74.8 67.5,80.3"/>
<polyline points="47.5,82.0 67.5,87.0"/>
<polyline points="62.0,66.0 72.0,70.0"/>
<polyline points="19.7,96.5 15.0,121.1"/>
<polyline points="8.6,96.4 5.3,120.0"/>
<polyline points="32.4,98.1 26.9,123.5"/>
<polyline points="45.1,99.7 40.4,125.9"/>
<polyline points="49.9,133.0 39.6,156.8 92.7,168.0 110.0,171.0"/>
<polyline points="64.2,134.6 53.1,160.0"/>
<polyline points="78.5,136.2 68.9,163.2"/>
<polyline points="92.7,139.0 85.0,166.0"/>
<polyline points="53.1,160.0 49.9,184.0"/>
<polyline points="68.9,163.0 64.0,184.0"/>
<polyline points="85.0,166.0 80.0,184.0"/>
<polyline points="0.0,156.4 7.9,157.4"/>
<polyline points="7.9,157.4 3.9,166.3 7.9,173.2 15.7,184.0"/>
<polyline points="0.0,164.3 3.9,166.3"/>
<polyline points="7.4,171.2 14.8,165.3"/>
<polyline points="12.8,177.1 20.7,171.2"/>
<polyline points="18.7,183.0 25.6,178.1"/>
<g clip-path="url(#gc9)">
<polyline points="134.3,13.0 154.8,20.9"/>
<polyline points="132.1,18.6 152.7,26.5"/>
<polyline points="130.0,24.2 150.5,32.1"/>
<polyline points="127.8,29.8 148.4,37.7"/>
<polyline points="125.7,35.4 146.2,43.3"/>
<polyline points="123.5,41.0 144.1,48.9"/>
<polyline points="121.4,46.6 141.9,54.5"/>
<polyline points="119.2,52.2 139.8,60.1"/>
<polyline points="117.1,57.8 137.6,65.7"/>
<polyline points="114.9,63.4 135.5,71.3"/>
<polyline points="112.8,69.0 133.3,76.9"/>
<polyline points="110.6,74.6 131.2,82.5"/>
<polyline points="108.5,80.2 129.0,88.1"/>
<polyline points="106.3,85.8 126.9,93.7"/>
<polyline points="104.2,91.4 124.7,99.3"/>
<polyline points="102.0,97.0 122.6,104.9"/>
<polyline points="99.9,102.6 120.4,110.5"/>
<polyline points="97.7,108.2 118.3,116.1"/>
<polyline points="95.6,113.8 116.1,121.7"/>
<polyline points="93.4,119.4 114.0,127.3"/>
<polyline points="91.3,125.0 111.8,132.9"/>
<polyline points="89.1,130.6 109.7,138.5"/>
<polyline points="87.0,136.2 107.5,144.1"/>
<polyline points="84.8,141.8 105.4,149.7"/>
<polyline points="82.7,147.4 103.2,155.3"/>
<polyline points="80.5,153.0 101.1,160.9"/>
<polyline points="78.4,158.6 98.9,166.5"/>
<polyline points="76.2,164.2 96.7,172.1"/>
<polyline points="74.1,169.8 94.6,177.7"/>
<polyline points="71.9,175.4 92.4,183.3"/>
<polyline points="154.3,22.3 167.8,27.5"/>
<polyline points="152.1,27.9 165.7,33.1"/>
<polyline points="150.0,33.5 163.5,38.7"/>
<polyline points="147.8,39.1 161.4,44.3"/>
<polyline points="145.7,44.7 159.2,49.9"/>
<polyline points="143.5,50.3 157.1,55.5"/>
<polyline points="141.4,55.9 154.9,61.1"/>
<polyline points="139.2,61.5 152.8,66.7"/>
<polyline points="137.1,67.1 150.6,72.3"/>
<polyline points="134.9,72.7 148.5,77.9"/>
<polyline points="132.8,78.3 146.3,83.5"/>
<polyline points="130.6,83.9 144.2,89.1"/>
<polyline points="128.5,89.5 142.0,94.7"/>
<polyline points="126.3,95.1 139.9,100.3"/>
<polyline points="124.2,100.7 137.7,105.9"/>
<polyline points="122.0,106.3 135.6,111.5"/>
<polyline points="119.9,111.9 133.4,117.1"/>
<polyline points="117.7,117.5 131.3,122.7"/>
<polyline points="115.6,123.1 129.1,128.3"/>
<polyline points="113.4,128.7 127.0,133.9"/>
<polyline points="111.3,134.3 124.8,139.5"/>
<polyline points="109.1,139.9 122.7,145.1"/>
<polyline points="107.0,145.5 120.5,150.7"/>
<polyline points="104.8,151.1 118.4,156.3"/>
<polyline points="102.7,156.7 116.2,161.9"/>
<polyline points="100.5,162.3 114.0,167.5"/>
<polyline points="98.4,167.9 111.9,173.1"/>
<polyline points="96.2,173.5 109.7,178.7"/>
<polyline points="94.1,179.1 107.6,184.3"/>
<polyline points="91.9,184.7 105.4,189.9"/>
<polyline points="167.0,29.6 181.2,35.1"/>
<polyline points="164.8,35.2 179.0,40.7"/>
<polyline points="162.7,40.8 176.9,46.3"/>
<polyline points="160.5,46.4 174.7,51.9"/>
<polyline points="158.4,52.0 172.6,57.5"/>
<polyline points="156.2,57.6 170.4,63.1"/>
<polyline points="154.1,63.2 168.3,68.7"/>
<polyline points="151.9,68.8 166.1,74.3"/>
<polyline points="149.8,74.4 164.0,79.9"/>
<polyline points="147.6,80.0 161.8,85.5"/>
<polyline points="145.5,85.6 159.7,91.1"/>
<polyline points="143.3,91.2 157.5,96.7"/>
<polyline points="141.2,96.8 155.4,102.3"/>
<polyline points="139.0,102.4 153.2,107.9"/>
<polyline points="136.9,108.0 151.1,113.5"/>
<polyline points="134.7,113.6 148.9,119.1"/>
<polyline points="132.6,119.2 146.8,124.7"/>
<polyline points="130.4,124.8 144.6,130.3"/>
<polyline points="128.3,130.4 142.5,135.9"/>
<polyline points="126.1,136.0 140.3,141.5"/>
<polyline points="124.0,141.6 138.2,147.1"/>
<polyline points="121.8,147.2 136.0,152.7"/>
<polyline points="119.7,152.8 133.9,158.3"/>
<polyline points="117.5,158.4 131.7,163.9"/>
<polyline points="115.4,164.0 129.6,169.5"/>
<polyline points="113.2,169.6 127.4,175.1"/>
<polyline points="111.1,175.2 125.3,180.7"/>
<polyline points="108.9,180.8 123.1,186.3"/>
<polyline points="106.8,186.4 121.0,191.9"/>
<polyline points="104.6,192.0 118.8,197.5"/>
<polyline points="182.2,32.3 194.2,36.8"/>
<polyline points="180.1,37.9 192.0,42.4"/>
<polyline points="177.9,43.5 189.9,48.0"/>
<polyline points="175.8,49.1 187.7,53.6"/>
<polyline points="173.6,54.7 185.6,59.2"/>
<polyline points="171.5,60.3 183.4,64.8"/>
<polyline points="169.3,65.9 181.3,70.4"/>
<polyline points="167.2,71.5 179.1,76.1"/>
<polyline points="165.0,77.1 177.0,81.7"/>
<polyline points="162.9,82.7 174.8,87.3"/>
<polyline points="160.7,88.3 172.7,92.9"/>
<polyline points="158.6,93.9 170.5,98.5"/>
<polyline points="156.4,99.5 168.4,104.1"/>
<polyline points="154.3,105.1 166.2,109.7"/>
<polyline points="152.1,110.7 164.1,115.3"/>
<polyline points="150.0,116.3 161.9,120.9"/>
<polyline points="147.8,121.9 159.8,126.5"/>
<polyline points="145.7,127.5 157.6,132.1"/>
<polyline points="143.5,133.1 155.5,137.7"/>
<polyline points="141.4,138.7 153.3,143.3"/>
<polyline points="139.2,144.3 151.2,148.9"/>
<polyline points="137.1,149.9 149.0,154.5"/>
<polyline points="134.9,155.5 146.9,160.1"/>
<polyline points="132.8,161.1 144.7,165.7"/>
<polyline points="130.6,166.7 142.6,171.3"/>
<polyline points="128.5,172.3 140.4,176.9"/>
<polyline points="126.3,177.9 138.3,182.5"/>
<polyline points="124.2,183.5 136.1,188.1"/>
<polyline points="122.0,189.1 134.0,193.7"/>
<polyline points="119.9,194.7 131.8,199.3"/>
<polyline points="193.3,39.1 205.0,43.6"/>
<polyline points="191.2,44.7 202.9,49.2"/>
<polyline points="189.0,50.3 200.7,54.8"/>
<polyline points="186.9,55.9 198.6,60.4"/>
<polyline points="184.7,61.5 196.4,66.0"/>
<polyline points="182.6,67.1 194.3,71.6"/>
<polyline points="180.4,72.7 192.1,77.2"/>
<polyline points="178.3,78.3 190.0,82.8"/>
<polyline points="176.1,83.9 187.8,88.4"/>
<polyline points="174.0,89.5 185.7,94.0"/>
<polyline points="171.8,95.1 183.5,99.6"/>
<polyline points="169.7,100.7 181.4,105.2"/>
<polyline points="167.5,106.3 179.2,110.8"/>
<polyline points="165.4,111.9 177.1,116.4"/>
<polyline points="163.2,117.5 174.9,122.0"/>
<polyline points="161.1,123.1 172.8,127.6"/>
<polyline points="158.9,128.7 170.6,133.2"/>
<polyline points="156.8,134.3 168.5,138.8"/>
<polyline points="154.6,139.9 166.3,144.4"/>
<polyline points="152.5,145.5 164.2,150.0"/>
<polyline points="150.3,151.1 162.0,155.6"/>
<polyline points="148.2,156.7 159.9,161.2"/>
<polyline points="146.0,162.3 157.7,166.8"/>
<polyline points="143.9,167.9 155.6,172.4"/>
<polyline points="141.7,173.5 153.4,178.0"/>
<polyline points="139.6,179.1 151.3,183.6"/>
<polyline points="137.4,184.7 149.1,189.2"/>
<polyline points="135.3,190.3 147.0,194.8"/>
<polyline points="133.1,195.9 144.8,200.4"/>
<polyline points="131.0,201.5 142.6,206.0"/>
<polyline points="205.8,41.5 219.8,46.9"/>
<polyline points="203.6,47.1 217.6,52.5"/>
<polyline points="201.5,52.7 215.5,58.1"/>
<polyline points="199.3,58.3 213.3,63.7"/>
<polyline points="197.2,63.9 211.2,69.3"/>
<polyline points="195.0,69.5 209.0,74.9"/>
<polyline points="192.9,75.1 206.9,80.5"/>
<polyline points="190.7,80.7 204.7,86.1"/>
<polyline points="188.6,86.3 202.6,91.7"/>
<polyline points="186.4,91.9 200.4,97.3"/>
<polyline points="184.3,97.5 198.3,102.9"/>
<polyline points="182.1,103.1 196.1,108.5"/>
<polyline points="180.0,108.7 194.0,114.1"/>
<polyline points="177.8,114.3 191.8,119.7"/>
<polyline points="175.7,119.9 189.7,125.3"/>
<polyline points="173.5,125.5 187.5,130.9"/>
<polyline points="171.4,131.1 185.4,136.5"/>
<polyline points="169.2,136.7 183.2,142.1"/>
<polyline points="167.1,142.3 181.1,147.7"/>
<polyline points="164.9,147.9 178.9,153.3"/>
<polyline points="162.8,153.5 176.8,158.9"/>
<polyline points="160.6,159.1 174.6,164.5"/>
<polyline points="158.5,164.7 172.5,170.1"/>
<polyline points="156.3,170.3 170.3,175.7"/>
<polyline points="154.2,175.9 168.2,181.3"/>
<polyline points="152.0,181.5 166.0,186.9"/>
<polyline points="149.9,187.1 163.9,192.5"/>
<polyline points="147.7,192.7 161.7,198.1"/>
<polyline points="145.6,198.3 159.6,203.7"/>
<polyline points="143.4,203.9 157.4,209.3"/>
<polyline points="218.9,49.2 235.7,55.7"/>
<polyline points="216.8,54.8 233.6,61.3"/>
<polyline points="214.6,60.4 231.4,66.9"/>
<polyline points="212.5,66.0 229.3,72.5"/>
<polyline points="210.3,71.6 227.1,78.1"/>
<polyline points="208.2,77.2 225.0,83.7"/>
<polyline points="206.0,82.8 222.8,89.3"/>
<polyline points="203.9,88.4 220.7,94.9"/>
<polyline points="201.7,94.0 218.5,100.5"/>
<polyline points="199.5,99.6 216.4,106.1"/>
<polyline points="197.4,105.2 214.2,111.7"/>
<polyline points="195.2,110.8 212.1,117.3"/>
<polyline points="193.1,116.4 209.9,122.9"/>
<polyline points="190.9,122.0 207.8,128.5"/>
<polyline points="188.8,127.6 205.6,134.1"/>
<polyline points="186.6,133.2 203.5,139.7"/>
<polyline points="184.5,138.8 201.3,145.3"/>
<polyline points="182.3,144.4 199.2,150.9"/>
<polyline points="180.2,150.0 197.0,156.5"/>
<polyline points="178.0,155.6 194.9,162.1"/>
<polyline points="175.9,161.2 192.7,167.7"/>
<polyline points="173.7,166.8 190.6,173.3"/>
<polyline points="171.6,172.4 188.4,178.9"/>
<polyline points="169.4,178.1 186.3,184.5"/>
<polyline points="167.3,183.7 184.1,190.1"/>
<polyline points="165.1,189.3 182.0,195.7"/>
<polyline points="163.0,194.9 179.8,201.3"/>
<polyline points="160.8,200.5 177.7,206.9"/>
<polyline points="158.7,206.1 175.5,212.5"/>
<polyline points="156.5,211.7 173.4,218.1"/>
<polyline points="169.8,22.3 83.8,246.4"/>
<polyline points="195.9,32.4 109.9,256.4"/>
<polyline points="221.6,42.2 135.6,266.3"/>
</g></g>
<g fill="none" stroke-linecap="round" stroke-linejoin="round">
<polyline points="147.8,46.2 92.3,183.0" stroke="#b9b9a8" stroke-width="5.4"/>
<polyline points="176.0,52.0 125.0,184.0" stroke="#b9b9a8" stroke-width="5.4"/>
<polyline points="190.0,80.0 153.0,178.0" stroke="#b9b9a8" stroke-width="5.4"/>
<polyline points="155.8,47.8 184.0,60.5" stroke="#b9b9a8" stroke-width="5.4"/>
<polyline points="127.2,106.0 177.0,124.5" stroke="#b9b9a8" stroke-width="5.4"/>
<polyline points="106.5,156.8 154.2,177.5 165.0,184.0" stroke="#b9b9a8" stroke-width="5.4"/>
<polyline points="4.8,94.5 62.0,103.3" stroke="#b9b9a8" stroke-width="5.4"/>
<polyline points="0.0,120.3 51.5,129.9 92.7,137.8 108.0,140.5" stroke="#b9b9a8" stroke-width="5.4"/>
<polyline points="0.0,139.5 33.0,184.0" stroke="#b9b9a8" stroke-width="5.4"/>
<polyline points="67.5,89.2 57.5,117.0 52.0,129.0" stroke="#b9b9a8" stroke-width="5.4"/>
<polyline points="149.0,3.0 142.2,23.5" stroke="#b9b9a8" stroke-width="5.4"/>
<polyline points="138.0,2.2 160.0,4.5 184.0,8.0" stroke="#b9b9a8" stroke-width="5.4"/>
<polyline points="147.8,46.2 92.3,183.0" stroke="#ececec" stroke-width="4.2"/>
<polyline points="176.0,52.0 125.0,184.0" stroke="#ececec" stroke-width="4.2"/>
<polyline points="190.0,80.0 153.0,178.0" stroke="#ececec" stroke-width="4.2"/>
<polyline points="155.8,47.8 184.0,60.5" stroke="#ececec" stroke-width="4.2"/>
<polyline points="127.2,106.0 177.0,124.5" stroke="#ececec" stroke-width="4.2"/>
<polyline points="106.5,156.8 154.2,177.5 165.0,184.0" stroke="#ececec" stroke-width="4.2"/>
<polyline points="4.8,94.5 62.0,103.3" stroke="#ececec" stroke-width="4.2"/>
<polyline points="0.0,120.3 51.5,129.9 92.7,137.8 108.0,140.5" stroke="#ececec" stroke-width="4.2"/>
<polyline points="0.0,139.5 33.0,184.0" stroke="#ececec" stroke-width="4.2"/>
<polyline points="67.5,89.2 57.5,117.0 52.0,129.0" stroke="#ececec" stroke-width="4.2"/>
<polyline points="149.0,3.0 142.2,23.5" stroke="#ececec" stroke-width="4.2"/>
<polyline points="138.0,2.2 160.0,4.5 184.0,8.0" stroke="#ececec" stroke-width="4.2"/>
</g>
<path d="M79.4,59.6 L97,51.9 L112,47.3 L118.6,46.6 L129,48 L95.6,136.9 L54.3,128.7 Z" fill="#fbc86a" stroke="#1a1a1a" stroke-width="1.6" stroke-linejoin="round"/>
<g fill="none" stroke="#8f8270" stroke-width="0.55" stroke-linejoin="round">
<polygon points="112,50.2 120.6,54.5 121.9,59.1 115.3,76.1 104.2,72.2"/>
<line x1="108" y1="61" x2="117.3" y2="53.2"/><line x1="104.8" y1="71.5" x2="120.6" y2="57.1"/><line x1="110.1" y1="74.8" x2="121.2" y2="61.7"/>
<path d="M83,61.5 l1.5,-2.6 l2.4,0.6 l-0.4,2.6 z M94,58.5 l3.4,-3 l3,1.4 l-3.4,3 z"/>
<path d="M97.5,89.5 l3,0.6 l-1,4.6 l-3,-0.6 z"/>
<path d="M89.5,97.8 l9.6,3 l-1.6,5.2 l-9.6,-3 z M91,104 l3,-5 M94.5,105 l3,-5"/>
</g>
<g stroke="#3f9be8" stroke-width="1" stroke-opacity="0.8"><line x1="52.3" y1="0" x2="52.3" y2="184"/><line x1="126.5" y1="0" x2="126.5" y2="184"/><line x1="0" y1="43.5" x2="184" y2="43.5"/><line x1="0" y1="117.5" x2="184" y2="117.5"/></g>
<text x="1.5" y="7.3" font-size="7" letter-spacing="0.25" fill="#1e1e1e" stroke="#1e1e1e" stroke-width="0.15" font-family="Liberation Sans">TMQ - 2023-02-24</text>
<text x="182.8" y="6.9" font-size="6" font-weight="bold" text-anchor="end" letter-spacing="0.8" fill="#1a1a1a" font-family="Liberation Sans">V 7.0</text>
<text x="173.3" y="18.4" font-size="13" font-weight="bold" text-anchor="middle" fill="#000" font-family="Liberation Sans">N</text>
<path d="M173.3,19.3 L170,24.2 L172,24.2 L172,30.5 L174.6,30.5 L174.6,24.2 L176.6,24.2 Z" fill="#000"/>
<text x="2.3" y="116.2" font-size="6.6" font-weight="bold" letter-spacing="0.7" fill="#3a97e8" font-family="Liberation Sans">9975000</text>
<text x="53.5" y="180.8" font-size="6.6" font-weight="bold" letter-spacing="0.75" fill="#3a97e8" font-family="Liberation Sans">506000</text>
<text x="182.9" y="181" font-size="6.6" font-weight="bold" letter-spacing="0.55" text-anchor="end" fill="#3a97e8" font-family="Liberation Sans">Escala 1:7500</text>
</svg><div class="frame"></div></div>
</body></html>
